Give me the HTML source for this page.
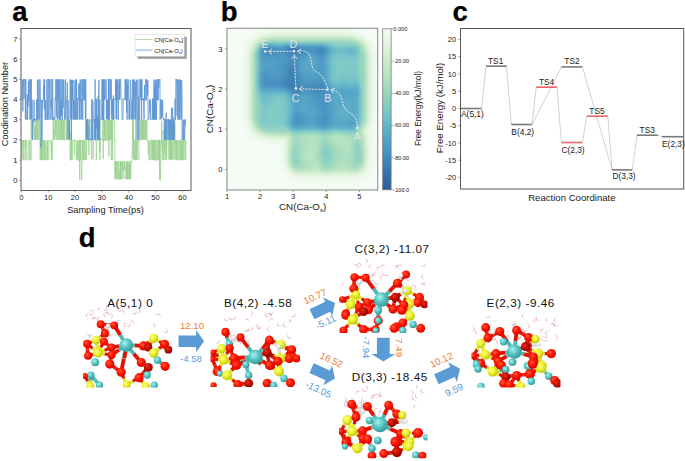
<!DOCTYPE html>
<html><head><meta charset="utf-8"><style>
html,body{margin:0;padding:0;background:#fff;width:685px;height:461px;overflow:hidden}
svg{display:block}
text{font-family:'Liberation Sans',sans-serif}
</style></head><body>
<svg width="685" height="461" viewBox="0 0 685 461" style="font-family:'Liberation Sans',sans-serif">
<polyline points="21.5,140.7 21.8,140.4 22.1,159.3 22.4,139.9 22.7,146.9 23.1,139.9 23.2,160.1 23.4,160.1 23.6,159.9 23.7,140.0 24.0,140.8 24.2,140.2 24.5,140.1 24.9,140.5 25.0,160.1 25.3,160.1 25.4,139.9 25.7,147.5 26.0,140.2 26.2,139.9 26.5,140.8 26.8,159.6 27.1,160.1 27.5,160.1 27.7,159.6 27.9,160.0 28.3,139.9 28.6,140.3 28.9,139.9 29.0,140.6 29.2,160.1 29.6,160.1 29.9,154.8 30.1,140.4 30.5,139.9 30.7,140.0 31.0,160.1 31.0,123.2 31.3,120.2 31.4,119.7 31.7,139.6 32.0,119.9 32.3,139.3 32.4,139.8 32.7,139.9 32.8,119.7 33.1,120.2 33.4,120.4 33.7,119.7 34.1,120.4 34.4,139.9 34.7,126.2 35.1,139.9 35.2,127.2 35.3,139.9 35.7,120.5 35.9,139.8 36.3,119.7 36.4,139.9 36.5,119.7 36.7,139.2 37.1,139.9 37.2,139.9 37.5,139.9 37.7,119.7 37.8,139.9 38.1,139.4 38.5,120.6 38.6,119.7 38.7,139.6 38.9,139.9 39.2,139.9 39.6,119.7 39.8,128.5 40.0,159.3 40.4,160.1 40.6,159.4 40.7,143.3 41.0,159.3 41.1,139.9 41.4,159.3 41.5,160.1 41.8,145.5 41.9,159.8 42.1,140.0 42.4,160.1 42.6,139.9 42.9,159.1 43.0,159.2 43.3,159.8 43.5,140.4 43.8,140.6 43.9,142.9 44.1,139.9 44.4,160.1 44.6,143.3 44.9,159.8 45.1,139.9 45.3,152.7 45.4,159.9 45.8,160.1 46.0,160.1 46.3,159.6 46.7,146.3 47.0,140.5 47.2,160.1 47.4,159.1 47.8,139.9 48.0,160.1 48.3,160.1 48.6,159.5 48.8,160.1 49.0,140.6 49.2,140.1 49.5,140.7 49.7,140.9 50.0,140.6 50.3,139.9 50.5,140.5 50.9,139.9 51.2,152.8 51.3,159.2 51.5,160.1 51.7,141.3 51.9,160.1 52.0,159.5 52.2,159.3 52.5,140.5 52.5,139.9 52.8,139.9 52.9,139.9 53.0,139.9 53.2,120.1 53.5,139.9 53.7,126.5 54.0,130.6 54.3,139.9 54.5,139.9 54.7,135.4 55.0,119.7 55.1,119.7 55.3,134.5 55.7,120.6 55.8,120.0 56.1,139.6 56.2,119.7 56.4,120.4 56.8,120.0 56.9,135.5 57.0,139.9 57.3,139.9 57.4,139.9 57.6,139.9 57.9,120.3 58.1,120.1 58.3,139.9 58.7,120.2 58.9,139.9 59.3,139.9 59.7,139.9 59.9,119.7 60.3,121.4 60.4,139.9 60.7,119.7 61.0,139.9 61.3,139.1 61.4,119.7 61.7,139.9 62.0,119.7 62.3,139.9 62.6,139.0 62.8,120.3 63.1,120.2 63.3,120.5 63.5,139.9 63.7,119.7 63.9,139.9 64.0,139.9 64.3,139.6 64.6,139.9 64.8,119.7 65.1,139.9 65.5,139.9 65.7,139.9 66.1,139.0 66.3,139.9 66.5,139.9 66.6,120.2 66.9,139.9 67.2,139.5 67.5,128.1 67.6,119.7 67.8,120.4 68.0,120.2 68.2,120.6 68.4,119.7 68.8,139.6 68.9,119.7 69.3,139.9 69.4,139.9 69.5,139.1 69.7,139.9 70.0,132.1 70.0,160.1 70.3,160.1 70.7,160.1 70.8,139.9 71.1,160.1 71.4,140.6 71.5,158.7 71.6,140.6 72.0,160.1 72.3,159.6 72.7,139.9 72.9,140.6 73.3,140.2 73.5,140.6 73.7,140.2 73.9,139.9 74.0,139.9 74.2,139.9 74.4,155.5 74.7,139.9 74.9,139.9 75.2,140.4 75.4,140.6 75.6,140.2 75.9,140.6 76.2,140.8 76.5,159.5 76.8,153.5 76.9,145.1 77.0,159.5 77.2,140.0 77.5,156.6 77.8,160.3 78.1,160.4 78.4,140.8 78.6,160.9 79.0,160.7 79.3,139.9 79.5,140.5 79.7,180.2 80.0,139.9 80.3,139.9 80.6,160.0 81.0,139.9 81.4,180.0 81.6,180.3 81.8,180.3 82.0,160.1 82.3,160.1 82.6,139.9 82.9,140.8 83.1,159.5 83.3,139.9 83.6,160.1 83.9,156.2 84.0,160.1 84.4,140.0 84.7,160.1 85.1,160.1 85.4,159.4 85.5,159.6 85.7,160.1 85.9,139.9 86.0,119.7 86.3,160.0 86.4,147.0 86.7,139.1 86.9,139.6 87.1,119.7 87.3,139.1 87.5,120.4 87.6,139.3 87.8,139.4 88.1,139.8 88.2,140.0 88.5,124.8 88.9,155.1 89.0,120.5 89.1,119.7 89.5,140.4 89.9,139.5 90.0,138.7 90.3,139.3 90.5,139.7 90.7,139.2 91.0,140.1 91.1,139.3 91.2,139.6 91.5,159.2 91.8,140.4 92.1,119.7 92.3,139.7 92.6,122.5 92.9,119.7 93.2,160.1 93.3,139.2 93.6,140.1 93.9,120.1 94.3,119.7 94.6,119.7 94.9,129.8 95.0,138.9 95.4,119.9 95.7,140.7 96.0,140.0 96.3,160.1 96.7,139.9 96.8,140.0 97.0,140.5 97.3,139.4 97.5,123.2 97.8,120.2 98.2,119.7 98.5,140.6 98.7,140.2 99.0,139.1 99.4,140.6 99.8,151.8 99.9,119.7 100.0,159.8 100.3,139.7 100.7,137.8 100.9,139.2 101.2,138.9 101.5,140.0 101.7,140.1 101.9,140.9 102.1,140.7 102.2,139.9 102.6,120.6 103.0,120.2 103.2,159.1 103.5,139.4 103.7,140.4 103.8,119.7 104.1,119.9 104.2,140.4 104.3,140.8 104.5,120.3 104.9,119.7 105.0,133.9 105.2,119.7 105.4,139.1 105.6,140.7 105.9,120.6 106.1,119.7 106.2,123.6 106.3,132.3 106.7,139.6 106.9,138.2 107.3,140.7 107.5,119.7 107.7,119.7 107.8,139.5 108.1,140.8 108.4,140.8 108.7,120.0 108.9,156.4 109.2,119.7 109.6,140.1 109.7,139.1 109.8,139.3 110.1,139.6 110.4,119.7 110.6,120.3 110.8,139.6 111.1,119.7 111.3,160.1 111.5,119.7 111.8,140.2 112.0,120.3 112.3,119.7 112.5,140.8 112.7,159.5 112.9,119.7 113.1,119.7 113.5,119.8 113.7,120.3 113.8,119.7 114.2,119.8 114.5,139.1 114.7,140.9 114.9,139.4 115.0,178.9 115.2,161.1 115.4,179.3 115.7,161.9 115.9,161.4 116.1,179.3 116.3,161.1 116.6,171.1 116.8,161.1 117.0,179.3 117.2,179.3 117.4,179.3 117.6,178.9 118.0,161.1 118.3,170.5 118.6,179.3 118.8,161.1 119.0,161.4 119.3,179.3 119.6,179.3 119.8,179.3 120.0,169.8 120.2,179.3 120.5,161.8 120.6,179.2 120.9,179.3 121.1,161.1 121.3,161.1 121.5,169.5 121.7,178.4 122.0,161.8 122.2,170.3 122.5,161.7 122.7,167.9 122.8,179.3 123.2,178.3 123.5,169.6 123.7,170.1 124.0,161.2 124.3,170.6 124.6,161.3 124.8,161.4 125.0,161.1 125.2,178.8 125.4,178.4 125.6,178.8 126.0,179.0 126.2,164.8 126.3,179.2 126.6,161.5 126.9,161.2 127.3,179.3 127.5,161.3 127.6,179.3 127.8,162.1 128.0,161.1 128.1,178.8 128.4,167.6 128.7,164.0 129.0,179.3 129.2,179.3 129.4,161.9 129.5,178.9 129.8,178.8 130.2,179.3 130.5,161.1 130.7,178.5 131.0,161.1 131.2,162.0 131.6,162.1 131.9,161.2 132.0,159.8 132.3,140.3 132.5,140.3 132.7,120.5 132.8,120.7 133.0,139.9 133.1,159.2 133.3,120.1 133.7,158.4 133.9,140.5 134.2,160.1 134.6,160.1 134.8,139.1 135.1,147.9 135.4,160.1 135.5,152.2 135.7,119.9 135.9,120.6 136.0,119.9 136.3,159.7 136.6,140.5 136.8,160.1 136.9,160.1 137.1,139.5 137.3,140.4 137.6,139.0 138.0,159.1 138.3,159.4 138.5,160.1 138.6,160.1 138.9,159.2 139.1,139.4 139.3,140.5 139.7,119.8 139.9,139.0 140.2,119.7 140.4,119.7 140.6,140.5 140.7,140.5 140.9,140.3 141.1,125.3 141.3,120.2 141.4,139.7 141.6,120.0 141.9,120.7 142.0,119.7 142.3,139.9 142.5,119.7 142.8,139.0 143.0,119.7 143.3,119.7 143.5,139.9 143.8,119.7 143.9,139.0 144.2,120.4 144.3,139.9 144.5,139.9 144.9,139.9 145.1,120.1 145.4,138.8 145.7,139.5 146.0,120.7 146.2,139.8 146.4,139.4 146.7,119.7 147.0,119.7 147.0,140.4 147.2,139.9 147.5,139.9 147.7,140.9 148.0,139.9 148.3,153.6 148.6,140.8 148.9,160.1 149.2,159.9 149.5,160.1 149.7,140.6 150.0,140.9 150.3,140.6 150.5,140.8 150.6,159.7 150.7,160.1 151.1,160.1 151.4,159.4 151.5,139.9 151.9,139.9 152.2,139.9 152.4,159.4 152.5,140.7 152.8,160.1 153.1,153.1 153.4,146.6 153.5,139.9 153.8,160.1 154.1,139.9 154.3,159.6 154.5,139.9 154.7,139.9 154.9,140.4 155.0,140.6 155.4,159.4 155.6,139.9 155.9,160.5 156.1,159.3 156.3,160.8 156.6,160.3 156.7,159.5 157.0,140.0 157.2,140.3 157.3,159.9 157.7,149.6 157.9,140.1 158.2,139.9 158.4,160.1 158.8,160.1 159.0,140.4 159.0,153.3 159.3,139.9 159.4,160.6 159.5,140.3 159.7,179.7 160.0,139.9 160.2,179.3 160.4,180.3 160.8,159.4 161.0,159.7 161.3,139.8 161.7,120.7 161.8,139.4 161.9,139.4 162.1,149.6 162.3,140.0 162.6,139.7 162.8,160.1 163.1,129.8 163.2,160.1 163.6,160.1 163.9,159.2 164.0,160.1 164.3,123.8 164.5,152.8 164.7,140.3 165.0,159.3 165.2,160.1 165.5,131.8 165.7,120.0 166.0,140.1 166.1,154.1 166.4,120.5 166.7,159.6 167.1,139.0 167.5,140.5 167.8,119.7 168.1,120.5 168.4,140.1 168.5,140.1 168.7,140.3 168.8,159.4 169.1,159.2 169.2,122.8 169.4,122.8 169.6,159.1 169.7,119.7 169.9,120.7 170.0,120.5 170.3,159.7 170.5,139.3 170.9,160.1 171.2,119.7 171.6,160.1 171.7,159.2 172.0,139.4 172.3,139.7 172.5,119.7 172.6,159.6 172.9,139.8 173.2,139.9 173.4,140.1 173.7,140.0 174.1,159.7 174.3,124.8 174.7,124.0 175.0,159.7 175.2,159.5 175.6,139.9 175.8,143.8 176.1,139.9 176.2,160.1 176.5,160.1 176.7,140.5 176.9,139.9 177.2,159.9 177.4,160.0 177.6,139.9 177.8,140.6 178.0,140.6 178.2,160.1 178.4,159.5 178.6,160.1 178.9,160.1 179.2,140.0 179.4,159.7 179.5,160.1 179.6,160.0 179.8,160.1 180.1,159.2 180.2,139.9 180.5,139.9 180.6,140.4 180.7,159.3 180.8,139.9 181.1,160.1 181.2,160.1 181.6,159.8 181.8,140.7 182.0,160.0 182.4,153.7 182.5,140.6 182.8,159.7 183.0,140.3 183.2,160.1 183.4,140.7 183.8,139.9 184.1,140.7 184.2,140.3 184.4,139.9 184.8,159.6 185.0,159.4 185.3,160.1 185.7,140.1 186.0,160.1" fill="none" stroke="#9bd191" stroke-width="0.75" stroke-linejoin="bevel"/>
<polyline points="21.5,100.4 21.7,100.4 21.8,98.8 22.0,79.3 22.4,79.7 22.5,79.9 22.8,111.4 23.1,99.3 23.2,79.8 23.5,79.3 23.9,99.0 24.1,99.0 24.4,79.3 24.7,79.3 25.0,79.3 25.3,101.0 25.4,119.2 25.6,80.1 25.9,79.3 26.0,98.7 26.2,119.7 26.4,119.7 26.7,119.3 27.0,118.9 27.3,94.1 27.4,119.7 27.6,119.7 27.7,119.5 27.8,100.3 28.2,105.9 28.4,81.3 28.6,100.5 29.0,99.1 29.2,79.3 29.4,79.3 29.7,79.3 30.0,119.7 30.1,79.4 30.5,79.6 30.7,119.4 31.0,93.0 31.4,79.3 31.5,118.7 31.7,119.2 31.8,99.5 32.2,99.5 32.4,138.9 32.7,139.9 33.0,120.1 33.3,120.4 33.5,118.9 33.8,122.1 34.0,100.2 34.3,119.7 34.6,120.2 34.9,119.2 35.2,119.7 35.4,118.8 35.7,120.2 36.1,120.4 36.3,120.6 36.6,120.4 36.9,99.5 37.0,118.7 37.1,99.8 37.3,119.6 37.4,79.9 37.8,100.3 37.9,119.7 38.2,119.7 38.6,91.9 38.8,79.3 38.9,80.2 39.1,98.6 39.3,119.7 39.4,119.7 39.6,109.6 39.7,100.1 40.0,79.4 40.4,99.1 40.5,99.5 40.7,112.1 40.9,147.3 41.2,140.3 41.3,139.0 41.6,99.9 41.7,139.9 41.9,140.7 42.0,140.4 42.3,119.3 42.5,100.2 42.7,99.5 43.1,100.2 43.3,99.5 43.5,99.1 43.7,85.9 43.9,99.1 44.0,79.3 44.3,109.0 44.6,79.3 44.8,99.0 45.1,119.7 45.3,119.7 45.6,99.9 45.8,118.9 46.2,119.7 46.5,119.7 46.7,119.7 46.8,80.0 47.0,79.3 47.4,119.7 47.6,119.7 48.0,79.3 48.3,79.7 48.5,79.3 48.8,119.7 48.9,119.7 49.2,98.6 49.5,79.3 49.8,79.4 50.1,118.8 50.3,119.2 50.5,119.6 50.6,118.9 50.8,118.7 50.9,110.0 51.1,79.3 51.3,108.5 51.7,99.2 51.9,119.7 52.2,118.4 52.5,119.7 52.6,79.3 53.0,119.7 53.3,119.3 53.6,119.7 53.7,119.4 53.9,116.9 54.1,119.7 54.2,118.8 54.6,119.7 54.9,119.7 55.0,98.6 55.1,99.1 55.4,100.1 55.6,100.0 55.9,79.3 56.1,98.6 56.3,117.3 56.5,79.3 56.9,79.6 57.3,119.4 57.5,119.7 57.7,119.7 57.8,79.3 57.9,98.7 58.1,100.4 58.5,82.5 58.6,79.6 59.0,119.3 59.2,79.3 59.5,119.7 59.9,119.7 60.3,79.3 60.6,119.7 60.9,119.2 61.0,99.9 61.4,115.8 61.6,100.0 61.9,79.3 62.0,79.7 62.2,119.7 62.3,119.5 62.6,119.7 62.9,80.1 63.2,107.8 63.3,79.3 63.5,79.4 63.9,80.1 64.1,100.2 64.3,106.5 64.6,119.7 64.9,119.7 65.1,119.3 65.3,79.7 65.5,79.3 65.7,119.7 65.9,119.7 66.1,119.6 66.5,99.8 66.6,99.9 66.9,100.1 67.3,82.3 67.5,99.3 67.7,119.7 68.0,119.7 68.0,139.4 68.1,100.4 68.2,119.4 68.5,119.4 68.7,119.7 69.0,120.3 69.1,120.5 69.4,120.5 69.7,139.9 70.1,79.3 70.4,79.3 70.7,118.6 71.1,79.8 71.2,79.9 71.4,139.9 71.8,80.0 71.9,120.0 72.2,80.1 72.5,100.0 72.7,99.6 73.0,79.8 73.4,118.3 73.5,99.5 73.7,105.4 73.8,119.5 73.9,100.2 74.1,119.4 74.4,119.7 74.7,99.6 75.0,80.2 75.2,97.4 75.6,119.5 75.8,119.7 76.0,79.3 76.1,79.3 76.4,119.7 76.5,79.3 76.8,99.6 77.1,98.6 77.4,119.7 77.8,98.7 78.0,99.2 78.3,99.6 78.6,99.6 78.8,82.9 79.0,118.8 79.1,119.3 79.4,119.5 79.7,84.6 80.1,119.7 80.2,79.3 80.5,89.1 80.7,100.5 80.9,99.9 81.1,103.0 81.3,99.1 81.5,100.3 81.6,119.2 81.7,98.9 82.0,79.8 82.2,94.0 82.3,79.3 82.5,83.8 82.6,118.9 82.8,119.7 83.0,79.3 83.2,79.3 83.4,79.3 83.6,79.8 83.8,80.0 83.9,100.2 84.1,80.8 84.2,79.3 84.4,100.3 84.6,98.9 84.9,100.2 85.1,79.4 85.4,119.3 85.7,79.3 86.0,100.3 86.0,120.2 86.2,139.5 86.4,119.9 86.8,120.4 87.1,139.7 87.4,119.0 87.6,120.3 87.8,138.9 88.0,139.9 88.2,139.9 88.5,139.8 88.8,139.9 89.1,119.6 89.5,119.1 89.7,120.5 89.9,120.2 90.1,139.9 90.3,139.9 90.6,139.0 90.7,139.1 90.8,139.2 91.2,139.9 91.4,139.9 91.7,99.3 92.0,98.9 92.1,119.2 92.5,139.9 92.7,120.4 92.9,100.5 93.2,119.0 93.4,120.6 93.7,119.3 93.9,119.7 94.2,119.4 94.6,119.6 94.7,139.8 94.9,139.9 95.1,79.3 95.3,139.7 95.6,118.9 95.7,139.9 96.0,98.7 96.2,119.5 96.4,128.9 96.5,99.2 96.8,120.2 97.1,119.4 97.2,139.9 97.4,116.4 97.7,138.9 97.9,120.3 98.0,120.5 98.1,96.3 98.3,139.9 98.6,101.8 98.9,79.8 99.2,139.6 99.3,120.4 99.6,139.7 99.8,99.8 100.0,119.1 100.3,119.7 100.6,119.7 101.0,119.5 101.2,119.7 101.5,119.1 101.6,119.5 101.9,79.3 102.2,79.3 102.6,119.6 102.7,79.8 103.0,119.7 103.3,119.1 103.5,79.3 103.7,119.7 104.0,99.7 104.2,94.1 104.5,99.8 104.6,79.3 104.8,99.6 105.2,98.6 105.3,97.2 105.6,95.5 105.8,79.8 106.1,79.3 106.3,79.3 106.4,118.9 106.8,99.1 107.0,119.2 107.3,106.6 107.5,100.2 107.6,119.3 107.7,119.7 108.1,119.7 108.2,119.0 108.4,79.3 108.5,119.3 108.7,119.7 108.8,79.6 109.1,80.1 109.2,79.3 109.4,119.7 109.8,108.0 110.1,79.7 110.2,79.6 110.3,79.3 110.6,79.9 110.7,79.3 110.8,99.5 111.0,98.9 111.1,79.5 111.2,79.6 111.6,118.9 111.9,119.0 112.1,100.5 112.3,119.3 112.6,99.7 112.7,98.6 113.0,100.5 113.2,119.7 113.3,95.5 113.5,100.3 113.8,119.7 114.0,100.2 114.3,99.0 114.7,99.7 115.0,98.6 115.2,99.6 115.5,98.9 115.6,79.3 115.9,102.2 116.1,118.8 116.5,79.3 116.6,119.3 116.8,119.5 117.1,79.7 117.3,98.6 117.5,100.2 117.7,99.9 117.8,79.3 118.1,79.4 118.3,119.7 118.6,100.5 118.9,99.5 119.3,84.5 119.5,99.6 119.6,79.3 119.8,99.3 120.2,79.3 120.4,79.3 120.8,79.3 121.1,98.9 121.4,99.6 121.6,99.7 121.9,99.5 122.0,119.5 122.2,119.7 122.5,119.7 122.9,119.6 123.2,98.5 123.5,99.8 123.7,99.1 123.8,99.4 124.1,99.5 124.4,99.8 124.7,98.5 125.0,79.3 125.4,79.5 125.6,100.1 125.8,98.5 125.9,79.7 126.0,79.3 126.2,100.0 126.4,99.3 126.6,112.8 126.8,79.3 126.9,79.7 127.1,119.7 127.4,83.7 127.7,99.6 127.8,79.3 128.2,79.7 128.5,79.8 128.9,118.9 129.2,119.7 129.6,100.3 129.8,119.7 130.0,119.7 130.1,100.2 130.2,80.1 130.5,80.0 130.8,79.9 131.1,100.2 131.2,99.3 131.4,118.9 131.6,119.2 131.9,112.5 132.3,100.3 132.5,119.7 132.6,79.7 133.0,79.3 133.2,99.2 133.4,79.8 133.6,119.7 133.9,119.7 134.0,100.4 134.3,79.3 134.5,86.0 134.8,119.0 134.9,119.1 135.3,119.3 135.6,81.5 135.8,119.3 136.1,100.4 136.4,80.1 136.5,79.8 136.8,105.2 137.0,139.9 137.3,139.9 137.7,139.1 137.9,79.3 138.1,119.8 138.4,139.9 138.5,139.5 138.6,120.0 138.8,96.4 139.0,119.7 139.2,118.9 139.4,119.4 139.6,119.1 139.8,98.8 139.9,79.3 140.1,79.7 140.3,96.8 140.6,79.3 141.0,100.2 141.2,80.0 141.6,119.7 141.9,79.3 142.1,99.5 142.3,98.8 142.5,99.4 142.6,99.6 143.0,98.5 143.3,100.4 143.5,98.6 143.8,112.1 144.1,119.4 144.4,99.4 144.5,84.9 144.7,100.0 144.9,100.3 145.2,100.4 145.5,79.7 145.8,79.5 146.2,80.0 146.3,100.5 146.5,79.4 146.7,79.3 147.1,79.6 147.4,80.1 147.7,95.3 147.8,80.1 148.1,119.7 148.4,119.7 148.5,119.3 148.7,119.6 149.0,119.7 149.1,112.3 149.5,99.5 149.8,106.4 150.0,112.8 150.2,99.7 150.3,100.5 150.6,119.4 150.8,119.6 151.2,119.7 151.5,119.1 151.8,119.1 152.1,119.2 152.4,99.4 152.5,98.5 152.7,119.7 152.8,119.7 153.1,119.7 153.2,98.6 153.6,119.7 154.0,79.4 154.1,79.8 154.2,119.3 154.4,98.8 154.6,87.0 154.9,119.7 155.3,79.9 155.6,99.1 155.7,119.4 155.9,82.3 156.2,119.7 156.5,119.7 156.8,79.5 157.1,99.3 157.4,79.3 157.6,79.4 157.8,100.5 158.1,98.5 158.4,99.4 158.7,79.6 158.8,88.3 159.0,79.3 159.2,79.4 159.5,80.2 159.7,80.2 160.0,79.3 160.0,119.7 160.3,118.7 160.6,99.5 160.9,99.9 161.1,100.2 161.4,118.9 161.7,99.5 162.1,117.4 162.5,100.2 162.6,100.3 162.9,115.0 163.3,119.7 163.5,118.7 163.8,119.7 164.0,119.2 164.0,118.9 164.2,118.9 164.3,123.5 164.5,139.9 164.8,119.3 165.2,139.9 165.6,139.9 165.9,118.8 166.2,112.7 166.5,139.9 166.7,120.1 166.8,119.7 167.2,119.2 167.5,119.5 167.7,120.3 167.9,119.8 168.1,139.9 168.4,119.1 168.5,119.8 168.8,127.6 169.2,120.5 169.3,139.3 169.6,138.9 169.8,119.2 170.1,120.2 170.3,139.9 170.4,120.2 170.6,120.5 170.9,139.3 171.1,139.9 171.3,119.1 171.5,108.2 171.8,115.5 172.0,118.9 172.1,139.9 172.3,107.7 172.6,107.6 172.8,119.6 173.1,139.9 173.2,117.9 173.5,139.5 173.8,139.3 173.9,120.7 174.1,139.9 174.3,139.9 174.7,139.2 174.8,120.0 175.0,98.9 175.4,119.7 175.6,119.7 175.8,79.3 176.1,80.2 176.4,80.2 176.5,79.3 176.8,99.9 177.1,115.9 177.4,79.5 177.6,79.3 177.7,119.0 177.9,119.6 178.3,80.0 178.6,119.7 178.8,119.7 179.0,119.0 179.4,118.8 179.6,79.3 179.7,79.3 179.8,118.9 180.0,119.7 180.3,106.2 180.6,79.9 180.7,100.3 181.1,100.4 181.2,119.5 181.4,119.7 181.6,118.9 181.7,80.1 182.0,100.2 182.0,139.9 182.2,139.9 182.3,139.9 182.5,139.4 182.7,139.9 183.1,120.2 183.4,139.9 183.8,119.7 183.9,119.8 184.0,119.9 184.2,119.7 184.4,139.9 184.7,139.3 185.0,119.7 185.1,125.4 185.3,119.7 185.5,119.7 185.8,119.7 186.0,119.7" fill="none" stroke="#5c94d3" stroke-width="0.8" stroke-linejoin="bevel"/>
<rect x="21.0" y="28.5" width="170.0" height="162.0" fill="none" stroke="#5a5a5a" stroke-width="1"/>
<line x1="19.0" y1="180.3" x2="21.0" y2="180.3" stroke="#666" stroke-width="0.6"/>
<text x="17.6" y="183.0" font-size="7.6" text-anchor="end" fill="#222">0</text>
<line x1="19.0" y1="160.1" x2="21.0" y2="160.1" stroke="#666" stroke-width="0.6"/>
<text x="17.6" y="162.8" font-size="7.6" text-anchor="end" fill="#222">1</text>
<line x1="19.0" y1="139.9" x2="21.0" y2="139.9" stroke="#666" stroke-width="0.6"/>
<text x="17.6" y="142.6" font-size="7.6" text-anchor="end" fill="#222">2</text>
<line x1="19.0" y1="119.7" x2="21.0" y2="119.7" stroke="#666" stroke-width="0.6"/>
<text x="17.6" y="122.4" font-size="7.6" text-anchor="end" fill="#222">3</text>
<line x1="19.0" y1="99.5" x2="21.0" y2="99.5" stroke="#666" stroke-width="0.6"/>
<text x="17.6" y="102.2" font-size="7.6" text-anchor="end" fill="#222">4</text>
<line x1="19.0" y1="79.3" x2="21.0" y2="79.3" stroke="#666" stroke-width="0.6"/>
<text x="17.6" y="82.0" font-size="7.6" text-anchor="end" fill="#222">5</text>
<line x1="19.0" y1="59.1" x2="21.0" y2="59.1" stroke="#666" stroke-width="0.6"/>
<text x="17.6" y="61.8" font-size="7.6" text-anchor="end" fill="#222">6</text>
<line x1="19.0" y1="38.9" x2="21.0" y2="38.9" stroke="#666" stroke-width="0.6"/>
<text x="17.6" y="41.6" font-size="7.6" text-anchor="end" fill="#222">7</text>
<line x1="21.3" y1="190.5" x2="21.3" y2="192.5" stroke="#666" stroke-width="0.6"/>
<text x="21.3" y="200.3" font-size="7.6" text-anchor="middle" fill="#222">0</text>
<line x1="48.2" y1="190.5" x2="48.2" y2="192.5" stroke="#666" stroke-width="0.6"/>
<text x="48.2" y="200.3" font-size="7.6" text-anchor="middle" fill="#222">10</text>
<line x1="75.0" y1="190.5" x2="75.0" y2="192.5" stroke="#666" stroke-width="0.6"/>
<text x="75.0" y="200.3" font-size="7.6" text-anchor="middle" fill="#222">20</text>
<line x1="101.8" y1="190.5" x2="101.8" y2="192.5" stroke="#666" stroke-width="0.6"/>
<text x="101.8" y="200.3" font-size="7.6" text-anchor="middle" fill="#222">30</text>
<line x1="128.7" y1="190.5" x2="128.7" y2="192.5" stroke="#666" stroke-width="0.6"/>
<text x="128.7" y="200.3" font-size="7.6" text-anchor="middle" fill="#222">40</text>
<line x1="155.6" y1="190.5" x2="155.6" y2="192.5" stroke="#666" stroke-width="0.6"/>
<text x="155.6" y="200.3" font-size="7.6" text-anchor="middle" fill="#222">50</text>
<line x1="182.4" y1="190.5" x2="182.4" y2="192.5" stroke="#666" stroke-width="0.6"/>
<text x="182.4" y="200.3" font-size="7.6" text-anchor="middle" fill="#222">60</text>
<text x="105.5" y="212.8" font-size="9.2" text-anchor="middle" fill="#222">Sampling Time(ps)</text>
<text transform="translate(7.6,104) rotate(-90)" font-size="9.2" text-anchor="middle" fill="#222">Coodination Number</text>
<rect x="137.5" y="36.8" width="49.2" height="22" fill="#9a9a9a"/>
<rect x="135" y="34.3" width="49.2" height="22" fill="#fff" stroke="#d0d0d0" stroke-width="0.5"/>
<line x1="135.7" y1="39.5" x2="152.6" y2="39.5" stroke="#a9d89f" stroke-width="0.9"/>
<line x1="135.7" y1="50.1" x2="152.6" y2="50.1" stroke="#6b9fd7" stroke-width="0.9"/>
<text x="154.2" y="42" font-size="6" fill="#222">CN[Ca-O<tspan font-size="3.8" dy="1.4">w</tspan><tspan dy="-1.4">]</tspan></text>
<text x="154.2" y="52.6" font-size="6" fill="#222">CN[Ca-O<tspan font-size="3.8" dy="1.4">s</tspan><tspan dy="-1.4">)</tspan></text>
<defs><clipPath id="bclip"><rect x="227.0" y="28.2" width="150.8" height="161.8"/></clipPath><filter id="bblur" x="-5%" y="-5%" width="110%" height="110%"><feGaussianBlur stdDeviation="1.3"/></filter></defs>
<rect x="227.0" y="28.2" width="150.8" height="161.8" fill="#f5fcf5"/>
<g clip-path="url(#bclip)"><g filter="url(#bblur)">
<rect x="251.0" y="28.2" width="3" height="3" fill="#f5fcf4"/>
<rect x="254.0" y="28.2" width="3" height="3" fill="#f4fcf4"/>
<rect x="257.0" y="28.2" width="3" height="3" fill="#f3fbf3"/>
<rect x="260.0" y="28.2" width="3" height="3" fill="#f3fbf2"/>
<rect x="263.0" y="28.2" width="3" height="3" fill="#f2fbf1"/>
<rect x="266.0" y="28.2" width="6" height="3" fill="#f1faf0"/>
<rect x="272.0" y="28.2" width="75" height="3" fill="#f0faf0"/>
<rect x="347.0" y="28.2" width="6" height="3" fill="#f1faf0"/>
<rect x="353.0" y="28.2" width="3" height="3" fill="#f2fbf1"/>
<rect x="356.0" y="28.2" width="3" height="3" fill="#f3fbf2"/>
<rect x="359.0" y="28.2" width="3" height="3" fill="#f3fbf3"/>
<rect x="362.0" y="28.2" width="3" height="3" fill="#f4fcf4"/>
<rect x="365.0" y="28.2" width="3" height="3" fill="#f5fcf4"/>
<rect x="248.0" y="31.2" width="3" height="3" fill="#f5fcf4"/>
<rect x="251.0" y="31.2" width="3" height="3" fill="#f4fbf4"/>
<rect x="254.0" y="31.2" width="3" height="3" fill="#f3fbf2"/>
<rect x="257.0" y="31.2" width="3" height="3" fill="#f1faf0"/>
<rect x="260.0" y="31.2" width="3" height="3" fill="#eff9ee"/>
<rect x="263.0" y="31.2" width="3" height="3" fill="#edf9ec"/>
<rect x="266.0" y="31.2" width="3" height="3" fill="#ebf8ea"/>
<rect x="269.0" y="31.2" width="3" height="3" fill="#eaf8e9"/>
<rect x="272.0" y="31.2" width="75" height="3" fill="#eaf7e8"/>
<rect x="347.0" y="31.2" width="3" height="3" fill="#eaf8e9"/>
<rect x="350.0" y="31.2" width="3" height="3" fill="#ebf8ea"/>
<rect x="353.0" y="31.2" width="3" height="3" fill="#edf9ec"/>
<rect x="356.0" y="31.2" width="3" height="3" fill="#eff9ee"/>
<rect x="359.0" y="31.2" width="3" height="3" fill="#f1faf0"/>
<rect x="362.0" y="31.2" width="3" height="3" fill="#f3fbf2"/>
<rect x="365.0" y="31.2" width="3" height="3" fill="#f4fbf4"/>
<rect x="368.0" y="31.2" width="3" height="3" fill="#f5fcf4"/>
<rect x="245.0" y="34.2" width="3" height="3" fill="#f5fcf4"/>
<rect x="248.0" y="34.2" width="3" height="3" fill="#f4fbf3"/>
<rect x="251.0" y="34.2" width="3" height="3" fill="#f2fbf1"/>
<rect x="254.0" y="34.2" width="3" height="3" fill="#eff9ee"/>
<rect x="257.0" y="34.2" width="3" height="3" fill="#eaf7e8"/>
<rect x="260.0" y="34.2" width="3" height="3" fill="#e5f5e3"/>
<rect x="263.0" y="34.2" width="3" height="3" fill="#e1f4de"/>
<rect x="266.0" y="34.2" width="3" height="3" fill="#ddf2da"/>
<rect x="269.0" y="34.2" width="3" height="3" fill="#dbf1d7"/>
<rect x="272.0" y="34.2" width="3" height="3" fill="#daf1d6"/>
<rect x="275.0" y="34.2" width="69" height="3" fill="#d9f1d5"/>
<rect x="344.0" y="34.2" width="3" height="3" fill="#daf1d6"/>
<rect x="347.0" y="34.2" width="3" height="3" fill="#dbf1d7"/>
<rect x="350.0" y="34.2" width="3" height="3" fill="#ddf2da"/>
<rect x="353.0" y="34.2" width="3" height="3" fill="#e1f4de"/>
<rect x="356.0" y="34.2" width="3" height="3" fill="#e5f5e3"/>
<rect x="359.0" y="34.2" width="3" height="3" fill="#eaf7e8"/>
<rect x="362.0" y="34.2" width="3" height="3" fill="#eff9ee"/>
<rect x="365.0" y="34.2" width="3" height="3" fill="#f2fbf1"/>
<rect x="368.0" y="34.2" width="3" height="3" fill="#f4fbf3"/>
<rect x="371.0" y="34.2" width="3" height="3" fill="#f5fcf4"/>
<rect x="245.0" y="37.2" width="3" height="3" fill="#f4fbf4"/>
<rect x="248.0" y="37.2" width="3" height="3" fill="#f2fbf1"/>
<rect x="251.0" y="37.2" width="3" height="3" fill="#eef9ec"/>
<rect x="254.0" y="37.2" width="3" height="3" fill="#e7f6e4"/>
<rect x="257.0" y="37.2" width="3" height="3" fill="#ddf2da"/>
<rect x="260.0" y="37.2" width="3" height="3" fill="#d3eece"/>
<rect x="263.0" y="37.2" width="3" height="3" fill="#c8eac6"/>
<rect x="266.0" y="37.2" width="3" height="3" fill="#c0e7c3"/>
<rect x="269.0" y="37.2" width="3" height="3" fill="#bbe5c2"/>
<rect x="272.0" y="37.2" width="3" height="3" fill="#b9e4c1"/>
<rect x="275.0" y="37.2" width="3" height="3" fill="#b8e4c1"/>
<rect x="278.0" y="37.2" width="3" height="3" fill="#b7e4c1"/>
<rect x="281.0" y="37.2" width="57" height="3" fill="#b7e4c0"/>
<rect x="338.0" y="37.2" width="3" height="3" fill="#b7e4c1"/>
<rect x="341.0" y="37.2" width="3" height="3" fill="#b8e4c1"/>
<rect x="344.0" y="37.2" width="3" height="3" fill="#b9e4c1"/>
<rect x="347.0" y="37.2" width="3" height="3" fill="#bbe5c2"/>
<rect x="350.0" y="37.2" width="3" height="3" fill="#c0e7c3"/>
<rect x="353.0" y="37.2" width="3" height="3" fill="#c8eac6"/>
<rect x="356.0" y="37.2" width="3" height="3" fill="#d3eece"/>
<rect x="359.0" y="37.2" width="3" height="3" fill="#ddf2da"/>
<rect x="362.0" y="37.2" width="3" height="3" fill="#e7f6e4"/>
<rect x="365.0" y="37.2" width="3" height="3" fill="#eef9ec"/>
<rect x="368.0" y="37.2" width="3" height="3" fill="#f2fbf1"/>
<rect x="371.0" y="37.2" width="3" height="3" fill="#f4fbf4"/>
<rect x="242.0" y="40.2" width="3" height="3" fill="#f4fcf4"/>
<rect x="245.0" y="40.2" width="3" height="3" fill="#f3fbf2"/>
<rect x="248.0" y="40.2" width="3" height="3" fill="#eff9ee"/>
<rect x="251.0" y="40.2" width="3" height="3" fill="#e7f6e4"/>
<rect x="254.0" y="40.2" width="3" height="3" fill="#daf1d6"/>
<rect x="257.0" y="40.2" width="3" height="3" fill="#c7eac6"/>
<rect x="260.0" y="40.2" width="3" height="3" fill="#b2e1bf"/>
<rect x="263.0" y="40.2" width="3" height="3" fill="#a0dabd"/>
<rect x="266.0" y="40.2" width="3" height="3" fill="#95d5bd"/>
<rect x="269.0" y="40.2" width="6" height="3" fill="#91d3be"/>
<rect x="275.0" y="40.2" width="3" height="3" fill="#92d3be"/>
<rect x="278.0" y="40.2" width="3" height="3" fill="#93d4be"/>
<rect x="281.0" y="40.2" width="3" height="3" fill="#92d3be"/>
<rect x="284.0" y="40.2" width="3" height="3" fill="#90d2be"/>
<rect x="287.0" y="40.2" width="3" height="3" fill="#8dd1bf"/>
<rect x="290.0" y="40.2" width="3" height="3" fill="#8cd1c0"/>
<rect x="293.0" y="40.2" width="3" height="3" fill="#8dd1bf"/>
<rect x="296.0" y="40.2" width="3" height="3" fill="#8ed2bf"/>
<rect x="299.0" y="40.2" width="3" height="3" fill="#90d2be"/>
<rect x="302.0" y="40.2" width="21" height="3" fill="#90d3be"/>
<rect x="323.0" y="40.2" width="3" height="3" fill="#91d3be"/>
<rect x="326.0" y="40.2" width="3" height="3" fill="#93d4bd"/>
<rect x="329.0" y="40.2" width="18" height="3" fill="#94d4bd"/>
<rect x="347.0" y="40.2" width="3" height="3" fill="#96d5bd"/>
<rect x="350.0" y="40.2" width="3" height="3" fill="#98d6bc"/>
<rect x="353.0" y="40.2" width="3" height="3" fill="#a0dabd"/>
<rect x="356.0" y="40.2" width="3" height="3" fill="#b2e1bf"/>
<rect x="359.0" y="40.2" width="3" height="3" fill="#c7eac6"/>
<rect x="362.0" y="40.2" width="3" height="3" fill="#daf1d6"/>
<rect x="365.0" y="40.2" width="3" height="3" fill="#e7f6e4"/>
<rect x="368.0" y="40.2" width="3" height="3" fill="#eff9ee"/>
<rect x="371.0" y="40.2" width="3" height="3" fill="#f3fbf2"/>
<rect x="374.0" y="40.2" width="3" height="3" fill="#f4fcf4"/>
<rect x="242.0" y="43.2" width="3" height="3" fill="#f4fbf4"/>
<rect x="245.0" y="43.2" width="3" height="3" fill="#f1faf0"/>
<rect x="248.0" y="43.2" width="3" height="3" fill="#eaf7e8"/>
<rect x="251.0" y="43.2" width="3" height="3" fill="#ddf2da"/>
<rect x="254.0" y="43.2" width="3" height="3" fill="#c7eac6"/>
<rect x="257.0" y="43.2" width="3" height="3" fill="#a8ddbe"/>
<rect x="260.0" y="43.2" width="3" height="3" fill="#83cdc2"/>
<rect x="263.0" y="43.2" width="3" height="3" fill="#66b9c9"/>
<rect x="266.0" y="43.2" width="3" height="3" fill="#5cb0c9"/>
<rect x="269.0" y="43.2" width="3" height="3" fill="#5aaec8"/>
<rect x="272.0" y="43.2" width="3" height="3" fill="#5db1c9"/>
<rect x="275.0" y="43.2" width="3" height="3" fill="#61b5ca"/>
<rect x="278.0" y="43.2" width="3" height="3" fill="#64b7ca"/>
<rect x="281.0" y="43.2" width="3" height="3" fill="#61b5ca"/>
<rect x="284.0" y="43.2" width="3" height="3" fill="#5bafc9"/>
<rect x="287.0" y="43.2" width="3" height="3" fill="#53a7c7"/>
<rect x="290.0" y="43.2" width="3" height="3" fill="#4fa3c6"/>
<rect x="293.0" y="43.2" width="3" height="3" fill="#51a5c7"/>
<rect x="296.0" y="43.2" width="3" height="3" fill="#56aac8"/>
<rect x="299.0" y="43.2" width="3" height="3" fill="#5aaec8"/>
<rect x="302.0" y="43.2" width="3" height="3" fill="#5bafc9"/>
<rect x="305.0" y="43.2" width="9" height="3" fill="#5db1c9"/>
<rect x="314.0" y="43.2" width="9" height="3" fill="#5cb0c9"/>
<rect x="323.0" y="43.2" width="3" height="3" fill="#5fb3c9"/>
<rect x="326.0" y="43.2" width="3" height="3" fill="#6abcc8"/>
<rect x="329.0" y="43.2" width="3" height="3" fill="#78c7c5"/>
<rect x="332.0" y="43.2" width="3" height="3" fill="#84cdc2"/>
<rect x="335.0" y="43.2" width="3" height="3" fill="#88cfc1"/>
<rect x="338.0" y="43.2" width="3" height="3" fill="#8ad0c0"/>
<rect x="341.0" y="43.2" width="6" height="3" fill="#8bd0c0"/>
<rect x="347.0" y="43.2" width="6" height="3" fill="#89d0c0"/>
<rect x="353.0" y="43.2" width="3" height="3" fill="#8dd1bf"/>
<rect x="356.0" y="43.2" width="3" height="3" fill="#94d4bd"/>
<rect x="359.0" y="43.2" width="3" height="3" fill="#a8ddbe"/>
<rect x="362.0" y="43.2" width="3" height="3" fill="#c7eac6"/>
<rect x="365.0" y="43.2" width="3" height="3" fill="#ddf2da"/>
<rect x="368.0" y="43.2" width="3" height="3" fill="#eaf7e8"/>
<rect x="371.0" y="43.2" width="3" height="3" fill="#f1faf0"/>
<rect x="374.0" y="43.2" width="3" height="3" fill="#f4fbf3"/>
<rect x="239.0" y="46.2" width="3" height="3" fill="#f4fcf4"/>
<rect x="242.0" y="46.2" width="3" height="3" fill="#f3fbf3"/>
<rect x="245.0" y="46.2" width="3" height="3" fill="#eff9ee"/>
<rect x="248.0" y="46.2" width="3" height="3" fill="#e5f5e3"/>
<rect x="251.0" y="46.2" width="3" height="3" fill="#d3eece"/>
<rect x="254.0" y="46.2" width="3" height="3" fill="#b2e1bf"/>
<rect x="257.0" y="46.2" width="3" height="3" fill="#82cdc2"/>
<rect x="260.0" y="46.2" width="3" height="3" fill="#54a8c7"/>
<rect x="263.0" y="46.2" width="3" height="3" fill="#4391bf"/>
<rect x="266.0" y="46.2" width="3" height="3" fill="#3e8abc"/>
<rect x="269.0" y="46.2" width="3" height="3" fill="#3f8bbd"/>
<rect x="272.0" y="46.2" width="3" height="3" fill="#4290bf"/>
<rect x="275.0" y="46.2" width="3" height="3" fill="#4695c1"/>
<rect x="278.0" y="46.2" width="3" height="3" fill="#4797c2"/>
<rect x="281.0" y="46.2" width="3" height="3" fill="#4594c1"/>
<rect x="284.0" y="46.2" width="3" height="3" fill="#408cbd"/>
<rect x="287.0" y="46.2" width="3" height="3" fill="#3b81b7"/>
<rect x="290.0" y="46.2" width="3" height="3" fill="#387bb3"/>
<rect x="293.0" y="46.2" width="3" height="3" fill="#387cb4"/>
<rect x="296.0" y="46.2" width="3" height="3" fill="#3b83b8"/>
<rect x="299.0" y="46.2" width="3" height="3" fill="#3e89bc"/>
<rect x="302.0" y="46.2" width="3" height="3" fill="#408cbe"/>
<rect x="305.0" y="46.2" width="3" height="3" fill="#418fbe"/>
<rect x="308.0" y="46.2" width="6" height="3" fill="#4391bf"/>
<rect x="314.0" y="46.2" width="3" height="3" fill="#418fbe"/>
<rect x="317.0" y="46.2" width="6" height="3" fill="#408dbe"/>
<rect x="323.0" y="46.2" width="3" height="3" fill="#4492c0"/>
<rect x="326.0" y="46.2" width="3" height="3" fill="#4ca0c5"/>
<rect x="329.0" y="46.2" width="3" height="3" fill="#5aaec8"/>
<rect x="332.0" y="46.2" width="3" height="3" fill="#65b8c9"/>
<rect x="335.0" y="46.2" width="3" height="3" fill="#6cbec8"/>
<rect x="338.0" y="46.2" width="6" height="3" fill="#6ebfc7"/>
<rect x="344.0" y="46.2" width="3" height="3" fill="#6dbec8"/>
<rect x="347.0" y="46.2" width="3" height="3" fill="#6bbdc8"/>
<rect x="350.0" y="46.2" width="3" height="3" fill="#69bcc8"/>
<rect x="353.0" y="46.2" width="3" height="3" fill="#6ec0c7"/>
<rect x="356.0" y="46.2" width="3" height="3" fill="#81ccc3"/>
<rect x="359.0" y="46.2" width="3" height="3" fill="#94d4bd"/>
<rect x="362.0" y="46.2" width="3" height="3" fill="#b2e1bf"/>
<rect x="365.0" y="46.2" width="3" height="3" fill="#d3eece"/>
<rect x="368.0" y="46.2" width="3" height="3" fill="#e5f5e3"/>
<rect x="371.0" y="46.2" width="3" height="3" fill="#eff9ee"/>
<rect x="374.0" y="46.2" width="3" height="3" fill="#f3fbf3"/>
<rect x="377.0" y="46.2" width="3" height="3" fill="#f4fcf4"/>
<rect x="239.0" y="49.2" width="3" height="3" fill="#f4fcf4"/>
<rect x="242.0" y="49.2" width="3" height="3" fill="#f2fbf2"/>
<rect x="245.0" y="49.2" width="3" height="3" fill="#edf9ec"/>
<rect x="248.0" y="49.2" width="3" height="3" fill="#e1f4de"/>
<rect x="251.0" y="49.2" width="3" height="3" fill="#c8eac6"/>
<rect x="254.0" y="49.2" width="3" height="3" fill="#a0dabd"/>
<rect x="257.0" y="49.2" width="3" height="3" fill="#67bac9"/>
<rect x="260.0" y="49.2" width="3" height="3" fill="#4493c0"/>
<rect x="263.0" y="49.2" width="3" height="3" fill="#3b82b8"/>
<rect x="266.0" y="49.2" width="3" height="3" fill="#3a80b6"/>
<rect x="269.0" y="49.2" width="3" height="3" fill="#3b83b8"/>
<rect x="272.0" y="49.2" width="3" height="3" fill="#3e89bc"/>
<rect x="275.0" y="49.2" width="3" height="3" fill="#408dbe"/>
<rect x="278.0" y="49.2" width="3" height="3" fill="#418ebe"/>
<rect x="281.0" y="49.2" width="3" height="3" fill="#3f8bbd"/>
<rect x="284.0" y="49.2" width="3" height="3" fill="#3c84b9"/>
<rect x="287.0" y="49.2" width="3" height="3" fill="#377ab3"/>
<rect x="290.0" y="49.2" width="6" height="3" fill="#3473ae"/>
<rect x="296.0" y="49.2" width="3" height="3" fill="#3779b2"/>
<rect x="299.0" y="49.2" width="3" height="3" fill="#3a80b6"/>
<rect x="302.0" y="49.2" width="3" height="3" fill="#3c85b9"/>
<rect x="305.0" y="49.2" width="3" height="3" fill="#3e88bb"/>
<rect x="308.0" y="49.2" width="6" height="3" fill="#3f8cbd"/>
<rect x="314.0" y="49.2" width="3" height="3" fill="#3e88bb"/>
<rect x="317.0" y="49.2" width="3" height="3" fill="#3c84b8"/>
<rect x="320.0" y="49.2" width="3" height="3" fill="#3b82b7"/>
<rect x="323.0" y="49.2" width="3" height="3" fill="#3e89bc"/>
<rect x="326.0" y="49.2" width="3" height="3" fill="#4899c2"/>
<rect x="329.0" y="49.2" width="3" height="3" fill="#55a9c7"/>
<rect x="332.0" y="49.2" width="3" height="3" fill="#60b4ca"/>
<rect x="335.0" y="49.2" width="3" height="3" fill="#66b9c9"/>
<rect x="338.0" y="49.2" width="3" height="3" fill="#67bac9"/>
<rect x="341.0" y="49.2" width="3" height="3" fill="#66b9c9"/>
<rect x="344.0" y="49.2" width="3" height="3" fill="#63b7ca"/>
<rect x="347.0" y="49.2" width="3" height="3" fill="#61b5ca"/>
<rect x="350.0" y="49.2" width="3" height="3" fill="#60b4ca"/>
<rect x="353.0" y="49.2" width="3" height="3" fill="#61b5ca"/>
<rect x="356.0" y="49.2" width="3" height="3" fill="#6fc0c7"/>
<rect x="359.0" y="49.2" width="3" height="3" fill="#8dd1bf"/>
<rect x="362.0" y="49.2" width="3" height="3" fill="#a0dabd"/>
<rect x="365.0" y="49.2" width="3" height="3" fill="#c8eac6"/>
<rect x="368.0" y="49.2" width="3" height="3" fill="#e1f4de"/>
<rect x="371.0" y="49.2" width="3" height="3" fill="#edf9ec"/>
<rect x="374.0" y="49.2" width="3" height="3" fill="#f2fbf2"/>
<rect x="377.0" y="49.2" width="3" height="3" fill="#f4fcf4"/>
<rect x="239.0" y="52.2" width="3" height="3" fill="#f4fcf4"/>
<rect x="242.0" y="52.2" width="3" height="3" fill="#f2fbf1"/>
<rect x="245.0" y="52.2" width="3" height="3" fill="#ecf8ea"/>
<rect x="248.0" y="52.2" width="3" height="3" fill="#ddf2da"/>
<rect x="251.0" y="52.2" width="3" height="3" fill="#c0e7c3"/>
<rect x="254.0" y="52.2" width="3" height="3" fill="#96d5bc"/>
<rect x="257.0" y="52.2" width="3" height="3" fill="#60b4ca"/>
<rect x="260.0" y="52.2" width="3" height="3" fill="#4492c0"/>
<rect x="263.0" y="52.2" width="3" height="3" fill="#3d87ba"/>
<rect x="266.0" y="52.2" width="3" height="3" fill="#3d87bb"/>
<rect x="269.0" y="52.2" width="3" height="3" fill="#3f8bbd"/>
<rect x="272.0" y="52.2" width="3" height="3" fill="#418fbe"/>
<rect x="275.0" y="52.2" width="6" height="3" fill="#4290bf"/>
<rect x="281.0" y="52.2" width="3" height="3" fill="#428fbf"/>
<rect x="284.0" y="52.2" width="3" height="3" fill="#3f8bbd"/>
<rect x="287.0" y="52.2" width="3" height="3" fill="#3b83b8"/>
<rect x="290.0" y="52.2" width="3" height="3" fill="#387cb3"/>
<rect x="293.0" y="52.2" width="3" height="3" fill="#387bb3"/>
<rect x="296.0" y="52.2" width="3" height="3" fill="#3a80b6"/>
<rect x="299.0" y="52.2" width="3" height="3" fill="#3d87bb"/>
<rect x="302.0" y="52.2" width="3" height="3" fill="#408dbe"/>
<rect x="305.0" y="52.2" width="3" height="3" fill="#4392c0"/>
<rect x="308.0" y="52.2" width="3" height="3" fill="#4696c1"/>
<rect x="311.0" y="52.2" width="3" height="3" fill="#4695c1"/>
<rect x="314.0" y="52.2" width="3" height="3" fill="#4390bf"/>
<rect x="317.0" y="52.2" width="3" height="3" fill="#3e8abc"/>
<rect x="320.0" y="52.2" width="3" height="3" fill="#3d86ba"/>
<rect x="323.0" y="52.2" width="3" height="3" fill="#408dbe"/>
<rect x="326.0" y="52.2" width="3" height="3" fill="#4c9ec5"/>
<rect x="329.0" y="52.2" width="3" height="3" fill="#5bafc9"/>
<rect x="332.0" y="52.2" width="3" height="3" fill="#67bac9"/>
<rect x="335.0" y="52.2" width="3" height="3" fill="#6dbfc7"/>
<rect x="338.0" y="52.2" width="3" height="3" fill="#6ebfc7"/>
<rect x="341.0" y="52.2" width="3" height="3" fill="#6bbdc8"/>
<rect x="344.0" y="52.2" width="3" height="3" fill="#68bac9"/>
<rect x="347.0" y="52.2" width="3" height="3" fill="#65b8c9"/>
<rect x="350.0" y="52.2" width="3" height="3" fill="#64b7ca"/>
<rect x="353.0" y="52.2" width="3" height="3" fill="#65b8c9"/>
<rect x="356.0" y="52.2" width="3" height="3" fill="#6fc0c7"/>
<rect x="359.0" y="52.2" width="3" height="3" fill="#8bd0c0"/>
<rect x="362.0" y="52.2" width="3" height="3" fill="#98d6bc"/>
<rect x="365.0" y="52.2" width="3" height="3" fill="#c0e7c3"/>
<rect x="368.0" y="52.2" width="3" height="3" fill="#ddf2da"/>
<rect x="371.0" y="52.2" width="3" height="3" fill="#ecf8ea"/>
<rect x="374.0" y="52.2" width="3" height="3" fill="#f2fbf1"/>
<rect x="377.0" y="52.2" width="3" height="3" fill="#f4fcf4"/>
<rect x="239.0" y="55.2" width="3" height="3" fill="#f4fcf4"/>
<rect x="242.0" y="55.2" width="3" height="3" fill="#f2fbf1"/>
<rect x="245.0" y="55.2" width="3" height="3" fill="#ebf8e9"/>
<rect x="248.0" y="55.2" width="3" height="3" fill="#dbf1d7"/>
<rect x="251.0" y="55.2" width="3" height="3" fill="#bbe5c2"/>
<rect x="254.0" y="55.2" width="3" height="3" fill="#94d4bd"/>
<rect x="257.0" y="55.2" width="3" height="3" fill="#63b7ca"/>
<rect x="260.0" y="55.2" width="3" height="3" fill="#4898c2"/>
<rect x="263.0" y="55.2" width="3" height="3" fill="#428fbf"/>
<rect x="266.0" y="55.2" width="3" height="3" fill="#4391bf"/>
<rect x="269.0" y="55.2" width="3" height="3" fill="#4594c0"/>
<rect x="272.0" y="55.2" width="6" height="3" fill="#4695c1"/>
<rect x="278.0" y="55.2" width="3" height="3" fill="#4594c1"/>
<rect x="281.0" y="55.2" width="3" height="3" fill="#4594c0"/>
<rect x="284.0" y="55.2" width="3" height="3" fill="#4392c0"/>
<rect x="287.0" y="55.2" width="3" height="3" fill="#408cbd"/>
<rect x="290.0" y="55.2" width="3" height="3" fill="#3d86ba"/>
<rect x="293.0" y="55.2" width="3" height="3" fill="#3c84b9"/>
<rect x="296.0" y="55.2" width="3" height="3" fill="#3e8abc"/>
<rect x="299.0" y="55.2" width="3" height="3" fill="#4390bf"/>
<rect x="302.0" y="55.2" width="3" height="3" fill="#4797c2"/>
<rect x="305.0" y="55.2" width="3" height="3" fill="#4a9cc4"/>
<rect x="308.0" y="55.2" width="3" height="3" fill="#4da1c5"/>
<rect x="311.0" y="55.2" width="3" height="3" fill="#4da0c5"/>
<rect x="314.0" y="55.2" width="3" height="3" fill="#499ac3"/>
<rect x="317.0" y="55.2" width="3" height="3" fill="#4392c0"/>
<rect x="320.0" y="55.2" width="3" height="3" fill="#418ebe"/>
<rect x="323.0" y="55.2" width="3" height="3" fill="#4594c1"/>
<rect x="326.0" y="55.2" width="3" height="3" fill="#52a6c7"/>
<rect x="329.0" y="55.2" width="3" height="3" fill="#62b6ca"/>
<rect x="332.0" y="55.2" width="3" height="3" fill="#6fc0c7"/>
<rect x="335.0" y="55.2" width="6" height="3" fill="#75c5c6"/>
<rect x="341.0" y="55.2" width="3" height="3" fill="#73c3c6"/>
<rect x="344.0" y="55.2" width="3" height="3" fill="#71c1c7"/>
<rect x="347.0" y="55.2" width="3" height="3" fill="#6fc0c7"/>
<rect x="350.0" y="55.2" width="3" height="3" fill="#6dbfc7"/>
<rect x="353.0" y="55.2" width="3" height="3" fill="#6ec0c7"/>
<rect x="356.0" y="55.2" width="3" height="3" fill="#77c6c5"/>
<rect x="359.0" y="55.2" width="3" height="3" fill="#8ed2bf"/>
<rect x="362.0" y="55.2" width="3" height="3" fill="#96d5bd"/>
<rect x="365.0" y="55.2" width="3" height="3" fill="#bbe5c2"/>
<rect x="368.0" y="55.2" width="3" height="3" fill="#dbf1d7"/>
<rect x="371.0" y="55.2" width="3" height="3" fill="#ebf8e9"/>
<rect x="374.0" y="55.2" width="3" height="3" fill="#f2fbf1"/>
<rect x="377.0" y="55.2" width="3" height="3" fill="#f4fcf4"/>
<rect x="239.0" y="58.2" width="3" height="3" fill="#f4fcf4"/>
<rect x="242.0" y="58.2" width="3" height="3" fill="#f1faf1"/>
<rect x="245.0" y="58.2" width="3" height="3" fill="#eaf7e8"/>
<rect x="248.0" y="58.2" width="3" height="3" fill="#daf1d6"/>
<rect x="251.0" y="58.2" width="3" height="3" fill="#b9e4c1"/>
<rect x="254.0" y="58.2" width="3" height="3" fill="#93d4bd"/>
<rect x="257.0" y="58.2" width="3" height="3" fill="#66b9c9"/>
<rect x="260.0" y="58.2" width="3" height="3" fill="#4b9dc4"/>
<rect x="263.0" y="58.2" width="3" height="3" fill="#4696c1"/>
<rect x="266.0" y="58.2" width="3" height="3" fill="#4797c2"/>
<rect x="269.0" y="58.2" width="3" height="3" fill="#4899c2"/>
<rect x="272.0" y="58.2" width="3" height="3" fill="#4899c3"/>
<rect x="275.0" y="58.2" width="3" height="3" fill="#4798c2"/>
<rect x="278.0" y="58.2" width="3" height="3" fill="#4696c1"/>
<rect x="281.0" y="58.2" width="3" height="3" fill="#4695c1"/>
<rect x="284.0" y="58.2" width="3" height="3" fill="#4594c0"/>
<rect x="287.0" y="58.2" width="3" height="3" fill="#418fbe"/>
<rect x="290.0" y="58.2" width="3" height="3" fill="#3e89bc"/>
<rect x="293.0" y="58.2" width="3" height="3" fill="#3e88bb"/>
<rect x="296.0" y="58.2" width="3" height="3" fill="#418ebe"/>
<rect x="299.0" y="58.2" width="3" height="3" fill="#4696c1"/>
<rect x="302.0" y="58.2" width="3" height="3" fill="#4b9dc4"/>
<rect x="305.0" y="58.2" width="3" height="3" fill="#4fa3c6"/>
<rect x="308.0" y="58.2" width="3" height="3" fill="#52a6c7"/>
<rect x="311.0" y="58.2" width="3" height="3" fill="#50a4c6"/>
<rect x="314.0" y="58.2" width="3" height="3" fill="#4c9fc5"/>
<rect x="317.0" y="58.2" width="3" height="3" fill="#4797c2"/>
<rect x="320.0" y="58.2" width="3" height="3" fill="#4493c0"/>
<rect x="323.0" y="58.2" width="3" height="3" fill="#499ac3"/>
<rect x="326.0" y="58.2" width="3" height="3" fill="#56aac8"/>
<rect x="329.0" y="58.2" width="3" height="3" fill="#67bac9"/>
<rect x="332.0" y="58.2" width="3" height="3" fill="#73c3c6"/>
<rect x="335.0" y="58.2" width="3" height="3" fill="#79c8c5"/>
<rect x="338.0" y="58.2" width="3" height="3" fill="#7bc9c4"/>
<rect x="341.0" y="58.2" width="3" height="3" fill="#79c8c5"/>
<rect x="344.0" y="58.2" width="3" height="3" fill="#78c7c5"/>
<rect x="347.0" y="58.2" width="3" height="3" fill="#76c6c5"/>
<rect x="350.0" y="58.2" width="3" height="3" fill="#75c5c6"/>
<rect x="353.0" y="58.2" width="3" height="3" fill="#76c5c5"/>
<rect x="356.0" y="58.2" width="3" height="3" fill="#7ccac4"/>
<rect x="359.0" y="58.2" width="3" height="3" fill="#90d2be"/>
<rect x="362.0" y="58.2" width="3" height="3" fill="#94d4bd"/>
<rect x="365.0" y="58.2" width="3" height="3" fill="#b9e4c1"/>
<rect x="368.0" y="58.2" width="3" height="3" fill="#daf1d6"/>
<rect x="371.0" y="58.2" width="3" height="3" fill="#eaf7e8"/>
<rect x="374.0" y="58.2" width="3" height="3" fill="#f1faf1"/>
<rect x="377.0" y="58.2" width="3" height="3" fill="#f4fcf4"/>
<rect x="239.0" y="61.2" width="3" height="3" fill="#f4fcf4"/>
<rect x="242.0" y="61.2" width="3" height="3" fill="#f1faf1"/>
<rect x="245.0" y="61.2" width="3" height="3" fill="#eaf7e8"/>
<rect x="248.0" y="61.2" width="3" height="3" fill="#d9f1d5"/>
<rect x="251.0" y="61.2" width="3" height="3" fill="#b8e4c1"/>
<rect x="254.0" y="61.2" width="3" height="3" fill="#93d4bd"/>
<rect x="257.0" y="61.2" width="3" height="3" fill="#68bac9"/>
<rect x="260.0" y="61.2" width="3" height="3" fill="#4da0c5"/>
<rect x="263.0" y="61.2" width="3" height="3" fill="#4899c2"/>
<rect x="266.0" y="61.2" width="3" height="3" fill="#499ac3"/>
<rect x="269.0" y="61.2" width="6" height="3" fill="#499bc3"/>
<rect x="275.0" y="61.2" width="3" height="3" fill="#4898c2"/>
<rect x="278.0" y="61.2" width="3" height="3" fill="#4696c1"/>
<rect x="281.0" y="61.2" width="3" height="3" fill="#4594c0"/>
<rect x="284.0" y="61.2" width="3" height="3" fill="#4391bf"/>
<rect x="287.0" y="61.2" width="3" height="3" fill="#408cbd"/>
<rect x="290.0" y="61.2" width="3" height="3" fill="#3d86ba"/>
<rect x="293.0" y="61.2" width="3" height="3" fill="#3d87ba"/>
<rect x="296.0" y="61.2" width="3" height="3" fill="#418fbe"/>
<rect x="299.0" y="61.2" width="3" height="3" fill="#4898c2"/>
<rect x="302.0" y="61.2" width="3" height="3" fill="#4c9fc5"/>
<rect x="305.0" y="61.2" width="3" height="3" fill="#50a4c6"/>
<rect x="308.0" y="61.2" width="3" height="3" fill="#52a6c7"/>
<rect x="311.0" y="61.2" width="3" height="3" fill="#51a5c7"/>
<rect x="314.0" y="61.2" width="3" height="3" fill="#4ca0c5"/>
<rect x="317.0" y="61.2" width="3" height="3" fill="#4899c2"/>
<rect x="320.0" y="61.2" width="3" height="3" fill="#4696c1"/>
<rect x="323.0" y="61.2" width="3" height="3" fill="#4b9ec4"/>
<rect x="326.0" y="61.2" width="3" height="3" fill="#59adc8"/>
<rect x="329.0" y="61.2" width="3" height="3" fill="#68bbc9"/>
<rect x="332.0" y="61.2" width="3" height="3" fill="#74c4c6"/>
<rect x="335.0" y="61.2" width="3" height="3" fill="#7ac9c4"/>
<rect x="338.0" y="61.2" width="6" height="3" fill="#7ccac4"/>
<rect x="344.0" y="61.2" width="3" height="3" fill="#7bc9c4"/>
<rect x="347.0" y="61.2" width="3" height="3" fill="#79c8c5"/>
<rect x="350.0" y="61.2" width="6" height="3" fill="#78c7c5"/>
<rect x="356.0" y="61.2" width="3" height="3" fill="#7dcbc4"/>
<rect x="359.0" y="61.2" width="3" height="3" fill="#90d2be"/>
<rect x="362.0" y="61.2" width="3" height="3" fill="#94d4bd"/>
<rect x="365.0" y="61.2" width="3" height="3" fill="#b8e4c1"/>
<rect x="368.0" y="61.2" width="3" height="3" fill="#d9f1d5"/>
<rect x="371.0" y="61.2" width="3" height="3" fill="#eaf7e8"/>
<rect x="374.0" y="61.2" width="3" height="3" fill="#f1faf1"/>
<rect x="377.0" y="61.2" width="3" height="3" fill="#f4fcf4"/>
<rect x="239.0" y="64.2" width="3" height="3" fill="#f4fcf4"/>
<rect x="242.0" y="64.2" width="3" height="3" fill="#f1faf1"/>
<rect x="245.0" y="64.2" width="3" height="3" fill="#eaf7e8"/>
<rect x="248.0" y="64.2" width="3" height="3" fill="#d9f1d5"/>
<rect x="251.0" y="64.2" width="3" height="3" fill="#b7e4c1"/>
<rect x="254.0" y="64.2" width="3" height="3" fill="#93d4bd"/>
<rect x="257.0" y="64.2" width="3" height="3" fill="#67bac9"/>
<rect x="260.0" y="64.2" width="3" height="3" fill="#4da0c5"/>
<rect x="263.0" y="64.2" width="3" height="3" fill="#499ac3"/>
<rect x="266.0" y="64.2" width="3" height="3" fill="#499bc3"/>
<rect x="269.0" y="64.2" width="3" height="3" fill="#4a9bc3"/>
<rect x="272.0" y="64.2" width="3" height="3" fill="#499ac3"/>
<rect x="275.0" y="64.2" width="3" height="3" fill="#4898c2"/>
<rect x="278.0" y="64.2" width="3" height="3" fill="#4695c1"/>
<rect x="281.0" y="64.2" width="3" height="3" fill="#4492c0"/>
<rect x="284.0" y="64.2" width="3" height="3" fill="#418ebe"/>
<rect x="287.0" y="64.2" width="3" height="3" fill="#3d88bb"/>
<rect x="290.0" y="64.2" width="3" height="3" fill="#3b82b7"/>
<rect x="293.0" y="64.2" width="3" height="3" fill="#3c84b9"/>
<rect x="296.0" y="64.2" width="3" height="3" fill="#418ebe"/>
<rect x="299.0" y="64.2" width="3" height="3" fill="#4899c3"/>
<rect x="302.0" y="64.2" width="3" height="3" fill="#4da1c5"/>
<rect x="305.0" y="64.2" width="6" height="3" fill="#50a4c6"/>
<rect x="311.0" y="64.2" width="3" height="3" fill="#4fa3c6"/>
<rect x="314.0" y="64.2" width="3" height="3" fill="#4c9ec5"/>
<rect x="317.0" y="64.2" width="3" height="3" fill="#4899c2"/>
<rect x="320.0" y="64.2" width="3" height="3" fill="#4797c2"/>
<rect x="323.0" y="64.2" width="3" height="3" fill="#4c9ec5"/>
<rect x="326.0" y="64.2" width="3" height="3" fill="#58acc8"/>
<rect x="329.0" y="64.2" width="3" height="3" fill="#67bac9"/>
<rect x="332.0" y="64.2" width="3" height="3" fill="#73c3c6"/>
<rect x="335.0" y="64.2" width="3" height="3" fill="#79c8c5"/>
<rect x="338.0" y="64.2" width="3" height="3" fill="#7bcac4"/>
<rect x="341.0" y="64.2" width="3" height="3" fill="#7bc9c4"/>
<rect x="344.0" y="64.2" width="3" height="3" fill="#7ac8c4"/>
<rect x="347.0" y="64.2" width="3" height="3" fill="#79c8c5"/>
<rect x="350.0" y="64.2" width="3" height="3" fill="#78c7c5"/>
<rect x="353.0" y="64.2" width="3" height="3" fill="#77c6c5"/>
<rect x="356.0" y="64.2" width="3" height="3" fill="#7ccac4"/>
<rect x="359.0" y="64.2" width="3" height="3" fill="#8fd2bf"/>
<rect x="362.0" y="64.2" width="3" height="3" fill="#94d4bd"/>
<rect x="365.0" y="64.2" width="3" height="3" fill="#b7e4c1"/>
<rect x="368.0" y="64.2" width="3" height="3" fill="#d9f1d5"/>
<rect x="371.0" y="64.2" width="3" height="3" fill="#eaf7e8"/>
<rect x="374.0" y="64.2" width="3" height="3" fill="#f1faf1"/>
<rect x="377.0" y="64.2" width="3" height="3" fill="#f4fbf4"/>
<rect x="239.0" y="67.2" width="3" height="3" fill="#f4fcf4"/>
<rect x="242.0" y="67.2" width="3" height="3" fill="#f1faf1"/>
<rect x="245.0" y="67.2" width="3" height="3" fill="#eaf7e8"/>
<rect x="248.0" y="67.2" width="3" height="3" fill="#d9f1d5"/>
<rect x="251.0" y="67.2" width="3" height="3" fill="#b7e4c0"/>
<rect x="254.0" y="67.2" width="3" height="3" fill="#93d4be"/>
<rect x="257.0" y="67.2" width="3" height="3" fill="#66b9c9"/>
<rect x="260.0" y="67.2" width="3" height="3" fill="#4c9ec5"/>
<rect x="263.0" y="67.2" width="3" height="3" fill="#4798c2"/>
<rect x="266.0" y="67.2" width="3" height="3" fill="#4899c3"/>
<rect x="269.0" y="67.2" width="3" height="3" fill="#499ac3"/>
<rect x="272.0" y="67.2" width="3" height="3" fill="#4899c3"/>
<rect x="275.0" y="67.2" width="3" height="3" fill="#4798c2"/>
<rect x="278.0" y="67.2" width="3" height="3" fill="#4696c1"/>
<rect x="281.0" y="67.2" width="3" height="3" fill="#4392c0"/>
<rect x="284.0" y="67.2" width="3" height="3" fill="#408cbd"/>
<rect x="287.0" y="67.2" width="3" height="3" fill="#3c84b9"/>
<rect x="290.0" y="67.2" width="3" height="3" fill="#397fb5"/>
<rect x="293.0" y="67.2" width="3" height="3" fill="#3b82b7"/>
<rect x="296.0" y="67.2" width="3" height="3" fill="#408dbe"/>
<rect x="299.0" y="67.2" width="3" height="3" fill="#4899c3"/>
<rect x="302.0" y="67.2" width="3" height="3" fill="#4da1c6"/>
<rect x="305.0" y="67.2" width="6" height="3" fill="#4fa3c6"/>
<rect x="311.0" y="67.2" width="3" height="3" fill="#4da1c6"/>
<rect x="314.0" y="67.2" width="3" height="3" fill="#4b9dc4"/>
<rect x="317.0" y="67.2" width="3" height="3" fill="#4798c2"/>
<rect x="320.0" y="67.2" width="3" height="3" fill="#4696c1"/>
<rect x="323.0" y="67.2" width="3" height="3" fill="#4a9cc4"/>
<rect x="326.0" y="67.2" width="3" height="3" fill="#56aac8"/>
<rect x="329.0" y="67.2" width="3" height="3" fill="#65b8c9"/>
<rect x="332.0" y="67.2" width="3" height="3" fill="#71c2c7"/>
<rect x="335.0" y="67.2" width="3" height="3" fill="#78c7c5"/>
<rect x="338.0" y="67.2" width="3" height="3" fill="#7ac8c5"/>
<rect x="341.0" y="67.2" width="3" height="3" fill="#79c7c5"/>
<rect x="344.0" y="67.2" width="9" height="3" fill="#78c7c5"/>
<rect x="353.0" y="67.2" width="3" height="3" fill="#77c6c5"/>
<rect x="356.0" y="67.2" width="3" height="3" fill="#7bc9c4"/>
<rect x="359.0" y="67.2" width="3" height="3" fill="#8fd2bf"/>
<rect x="362.0" y="67.2" width="3" height="3" fill="#94d4bd"/>
<rect x="365.0" y="67.2" width="3" height="3" fill="#b7e4c0"/>
<rect x="368.0" y="67.2" width="3" height="3" fill="#d9f1d5"/>
<rect x="371.0" y="67.2" width="3" height="3" fill="#eaf7e8"/>
<rect x="374.0" y="67.2" width="3" height="3" fill="#f1faf1"/>
<rect x="377.0" y="67.2" width="3" height="3" fill="#f4fbf4"/>
<rect x="239.0" y="70.2" width="3" height="3" fill="#f4fcf4"/>
<rect x="242.0" y="70.2" width="3" height="3" fill="#f1faf1"/>
<rect x="245.0" y="70.2" width="3" height="3" fill="#eaf7e8"/>
<rect x="248.0" y="70.2" width="3" height="3" fill="#d9f1d5"/>
<rect x="251.0" y="70.2" width="3" height="3" fill="#b7e4c0"/>
<rect x="254.0" y="70.2" width="3" height="3" fill="#93d4be"/>
<rect x="257.0" y="70.2" width="3" height="3" fill="#65b8c9"/>
<rect x="260.0" y="70.2" width="3" height="3" fill="#4a9cc4"/>
<rect x="263.0" y="70.2" width="3" height="3" fill="#4594c0"/>
<rect x="266.0" y="70.2" width="3" height="3" fill="#4695c1"/>
<rect x="269.0" y="70.2" width="3" height="3" fill="#4797c2"/>
<rect x="272.0" y="70.2" width="3" height="3" fill="#4798c2"/>
<rect x="275.0" y="70.2" width="3" height="3" fill="#4797c2"/>
<rect x="278.0" y="70.2" width="3" height="3" fill="#4695c1"/>
<rect x="281.0" y="70.2" width="3" height="3" fill="#4391bf"/>
<rect x="284.0" y="70.2" width="3" height="3" fill="#3f8bbd"/>
<rect x="287.0" y="70.2" width="3" height="3" fill="#3b83b8"/>
<rect x="290.0" y="70.2" width="3" height="3" fill="#397eb5"/>
<rect x="293.0" y="70.2" width="3" height="3" fill="#3a80b6"/>
<rect x="296.0" y="70.2" width="3" height="3" fill="#3f8bbd"/>
<rect x="299.0" y="70.2" width="3" height="3" fill="#4797c2"/>
<rect x="302.0" y="70.2" width="3" height="3" fill="#4c9fc5"/>
<rect x="305.0" y="70.2" width="3" height="3" fill="#4ea1c6"/>
<rect x="308.0" y="70.2" width="3" height="3" fill="#4da1c6"/>
<rect x="311.0" y="70.2" width="3" height="3" fill="#4c9fc5"/>
<rect x="314.0" y="70.2" width="3" height="3" fill="#4a9cc4"/>
<rect x="317.0" y="70.2" width="3" height="3" fill="#4797c2"/>
<rect x="320.0" y="70.2" width="3" height="3" fill="#4595c1"/>
<rect x="323.0" y="70.2" width="3" height="3" fill="#499ac3"/>
<rect x="326.0" y="70.2" width="3" height="3" fill="#55a9c7"/>
<rect x="329.0" y="70.2" width="3" height="3" fill="#64b8ca"/>
<rect x="332.0" y="70.2" width="3" height="3" fill="#72c2c6"/>
<rect x="335.0" y="70.2" width="6" height="3" fill="#78c7c5"/>
<rect x="341.0" y="70.2" width="3" height="3" fill="#77c6c5"/>
<rect x="344.0" y="70.2" width="3" height="3" fill="#76c6c5"/>
<rect x="347.0" y="70.2" width="3" height="3" fill="#77c6c5"/>
<rect x="350.0" y="70.2" width="3" height="3" fill="#78c7c5"/>
<rect x="353.0" y="70.2" width="3" height="3" fill="#77c6c5"/>
<rect x="356.0" y="70.2" width="3" height="3" fill="#7ac9c4"/>
<rect x="359.0" y="70.2" width="3" height="3" fill="#8ed2bf"/>
<rect x="362.0" y="70.2" width="3" height="3" fill="#94d4bd"/>
<rect x="365.0" y="70.2" width="3" height="3" fill="#b7e4c0"/>
<rect x="368.0" y="70.2" width="3" height="3" fill="#d9f1d5"/>
<rect x="371.0" y="70.2" width="3" height="3" fill="#eaf7e8"/>
<rect x="374.0" y="70.2" width="3" height="3" fill="#f1faf1"/>
<rect x="377.0" y="70.2" width="3" height="3" fill="#f4fbf4"/>
<rect x="239.0" y="73.2" width="3" height="3" fill="#f4fcf4"/>
<rect x="242.0" y="73.2" width="3" height="3" fill="#f1faf1"/>
<rect x="245.0" y="73.2" width="3" height="3" fill="#eaf7e8"/>
<rect x="248.0" y="73.2" width="3" height="3" fill="#d9f1d5"/>
<rect x="251.0" y="73.2" width="3" height="3" fill="#b7e4c0"/>
<rect x="254.0" y="73.2" width="3" height="3" fill="#93d4be"/>
<rect x="257.0" y="73.2" width="3" height="3" fill="#64b8c9"/>
<rect x="260.0" y="73.2" width="3" height="3" fill="#499ac3"/>
<rect x="263.0" y="73.2" width="3" height="3" fill="#4290bf"/>
<rect x="266.0" y="73.2" width="3" height="3" fill="#4391bf"/>
<rect x="269.0" y="73.2" width="3" height="3" fill="#4493c0"/>
<rect x="272.0" y="73.2" width="3" height="3" fill="#4695c1"/>
<rect x="275.0" y="73.2" width="3" height="3" fill="#4696c1"/>
<rect x="278.0" y="73.2" width="3" height="3" fill="#4594c0"/>
<rect x="281.0" y="73.2" width="3" height="3" fill="#428fbf"/>
<rect x="284.0" y="73.2" width="3" height="3" fill="#3e89bc"/>
<rect x="287.0" y="73.2" width="3" height="3" fill="#3b82b8"/>
<rect x="290.0" y="73.2" width="3" height="3" fill="#397eb5"/>
<rect x="293.0" y="73.2" width="3" height="3" fill="#3a80b6"/>
<rect x="296.0" y="73.2" width="3" height="3" fill="#3e89bc"/>
<rect x="299.0" y="73.2" width="3" height="3" fill="#4493c0"/>
<rect x="302.0" y="73.2" width="3" height="3" fill="#499ac3"/>
<rect x="305.0" y="73.2" width="6" height="3" fill="#4b9ec4"/>
<rect x="311.0" y="73.2" width="3" height="3" fill="#4b9dc4"/>
<rect x="314.0" y="73.2" width="3" height="3" fill="#4a9cc3"/>
<rect x="317.0" y="73.2" width="3" height="3" fill="#4898c2"/>
<rect x="320.0" y="73.2" width="3" height="3" fill="#4695c1"/>
<rect x="323.0" y="73.2" width="3" height="3" fill="#499ac3"/>
<rect x="326.0" y="73.2" width="3" height="3" fill="#55a9c7"/>
<rect x="329.0" y="73.2" width="3" height="3" fill="#66b9c9"/>
<rect x="332.0" y="73.2" width="3" height="3" fill="#74c4c6"/>
<rect x="335.0" y="73.2" width="3" height="3" fill="#79c8c5"/>
<rect x="338.0" y="73.2" width="3" height="3" fill="#78c7c5"/>
<rect x="341.0" y="73.2" width="3" height="3" fill="#75c5c6"/>
<rect x="344.0" y="73.2" width="3" height="3" fill="#75c4c6"/>
<rect x="347.0" y="73.2" width="3" height="3" fill="#76c6c5"/>
<rect x="350.0" y="73.2" width="3" height="3" fill="#78c7c5"/>
<rect x="353.0" y="73.2" width="3" height="3" fill="#76c6c5"/>
<rect x="356.0" y="73.2" width="3" height="3" fill="#79c8c5"/>
<rect x="359.0" y="73.2" width="3" height="3" fill="#8cd1bf"/>
<rect x="362.0" y="73.2" width="3" height="3" fill="#94d4bd"/>
<rect x="365.0" y="73.2" width="3" height="3" fill="#b7e4c0"/>
<rect x="368.0" y="73.2" width="3" height="3" fill="#d9f1d5"/>
<rect x="371.0" y="73.2" width="3" height="3" fill="#eaf7e8"/>
<rect x="374.0" y="73.2" width="3" height="3" fill="#f1faf1"/>
<rect x="377.0" y="73.2" width="3" height="3" fill="#f4fbf4"/>
<rect x="239.0" y="76.2" width="3" height="3" fill="#f4fcf4"/>
<rect x="242.0" y="76.2" width="3" height="3" fill="#f1faf1"/>
<rect x="245.0" y="76.2" width="3" height="3" fill="#eaf7e8"/>
<rect x="248.0" y="76.2" width="3" height="3" fill="#d9f1d5"/>
<rect x="251.0" y="76.2" width="3" height="3" fill="#b7e4c0"/>
<rect x="254.0" y="76.2" width="3" height="3" fill="#92d4be"/>
<rect x="257.0" y="76.2" width="3" height="3" fill="#63b7ca"/>
<rect x="260.0" y="76.2" width="3" height="3" fill="#4898c2"/>
<rect x="263.0" y="76.2" width="3" height="3" fill="#418ebe"/>
<rect x="266.0" y="76.2" width="3" height="3" fill="#418dbe"/>
<rect x="269.0" y="76.2" width="3" height="3" fill="#4290bf"/>
<rect x="272.0" y="76.2" width="6" height="3" fill="#4493c0"/>
<rect x="278.0" y="76.2" width="3" height="3" fill="#4391bf"/>
<rect x="281.0" y="76.2" width="3" height="3" fill="#408cbd"/>
<rect x="284.0" y="76.2" width="3" height="3" fill="#3d86ba"/>
<rect x="287.0" y="76.2" width="3" height="3" fill="#3a81b7"/>
<rect x="290.0" y="76.2" width="3" height="3" fill="#397db4"/>
<rect x="293.0" y="76.2" width="3" height="3" fill="#3a7fb6"/>
<rect x="296.0" y="76.2" width="3" height="3" fill="#3d87ba"/>
<rect x="299.0" y="76.2" width="3" height="3" fill="#4290bf"/>
<rect x="302.0" y="76.2" width="3" height="3" fill="#4696c1"/>
<rect x="305.0" y="76.2" width="3" height="3" fill="#4899c3"/>
<rect x="308.0" y="76.2" width="9" height="3" fill="#499ac3"/>
<rect x="317.0" y="76.2" width="3" height="3" fill="#4899c2"/>
<rect x="320.0" y="76.2" width="3" height="3" fill="#4696c1"/>
<rect x="323.0" y="76.2" width="3" height="3" fill="#499bc3"/>
<rect x="326.0" y="76.2" width="3" height="3" fill="#55a9c7"/>
<rect x="329.0" y="76.2" width="3" height="3" fill="#66b9c9"/>
<rect x="332.0" y="76.2" width="3" height="3" fill="#74c4c6"/>
<rect x="335.0" y="76.2" width="3" height="3" fill="#78c7c5"/>
<rect x="338.0" y="76.2" width="3" height="3" fill="#76c5c5"/>
<rect x="341.0" y="76.2" width="3" height="3" fill="#72c3c6"/>
<rect x="344.0" y="76.2" width="3" height="3" fill="#72c2c6"/>
<rect x="347.0" y="76.2" width="3" height="3" fill="#74c4c6"/>
<rect x="350.0" y="76.2" width="3" height="3" fill="#75c5c6"/>
<rect x="353.0" y="76.2" width="3" height="3" fill="#73c3c6"/>
<rect x="356.0" y="76.2" width="3" height="3" fill="#75c4c6"/>
<rect x="359.0" y="76.2" width="3" height="3" fill="#89d0c0"/>
<rect x="362.0" y="76.2" width="3" height="3" fill="#94d4bd"/>
<rect x="365.0" y="76.2" width="3" height="3" fill="#b7e4c0"/>
<rect x="368.0" y="76.2" width="3" height="3" fill="#d9f1d5"/>
<rect x="371.0" y="76.2" width="3" height="3" fill="#eaf7e8"/>
<rect x="374.0" y="76.2" width="3" height="3" fill="#f1faf1"/>
<rect x="377.0" y="76.2" width="3" height="3" fill="#f4fbf4"/>
<rect x="239.0" y="79.2" width="3" height="3" fill="#f4fcf4"/>
<rect x="242.0" y="79.2" width="3" height="3" fill="#f1faf1"/>
<rect x="245.0" y="79.2" width="3" height="3" fill="#eaf7e8"/>
<rect x="248.0" y="79.2" width="3" height="3" fill="#d9f1d5"/>
<rect x="251.0" y="79.2" width="3" height="3" fill="#b7e4c0"/>
<rect x="254.0" y="79.2" width="3" height="3" fill="#91d3be"/>
<rect x="257.0" y="79.2" width="3" height="3" fill="#61b5ca"/>
<rect x="260.0" y="79.2" width="3" height="3" fill="#4797c2"/>
<rect x="263.0" y="79.2" width="3" height="3" fill="#408cbe"/>
<rect x="266.0" y="79.2" width="3" height="3" fill="#3f8cbd"/>
<rect x="269.0" y="79.2" width="3" height="3" fill="#418dbe"/>
<rect x="272.0" y="79.2" width="3" height="3" fill="#428fbf"/>
<rect x="275.0" y="79.2" width="3" height="3" fill="#418fbe"/>
<rect x="278.0" y="79.2" width="3" height="3" fill="#408cbd"/>
<rect x="281.0" y="79.2" width="3" height="3" fill="#3d87bb"/>
<rect x="284.0" y="79.2" width="3" height="3" fill="#3b82b7"/>
<rect x="287.0" y="79.2" width="3" height="3" fill="#387cb4"/>
<rect x="290.0" y="79.2" width="3" height="3" fill="#3779b2"/>
<rect x="293.0" y="79.2" width="3" height="3" fill="#387cb3"/>
<rect x="296.0" y="79.2" width="3" height="3" fill="#3c84b9"/>
<rect x="299.0" y="79.2" width="3" height="3" fill="#408cbe"/>
<rect x="302.0" y="79.2" width="3" height="3" fill="#4392c0"/>
<rect x="305.0" y="79.2" width="3" height="3" fill="#4594c1"/>
<rect x="308.0" y="79.2" width="6" height="3" fill="#4595c1"/>
<rect x="314.0" y="79.2" width="3" height="3" fill="#4695c1"/>
<rect x="317.0" y="79.2" width="3" height="3" fill="#4595c1"/>
<rect x="320.0" y="79.2" width="3" height="3" fill="#4493c0"/>
<rect x="323.0" y="79.2" width="3" height="3" fill="#4898c2"/>
<rect x="326.0" y="79.2" width="3" height="3" fill="#52a6c7"/>
<rect x="329.0" y="79.2" width="3" height="3" fill="#61b5ca"/>
<rect x="332.0" y="79.2" width="3" height="3" fill="#6fc0c7"/>
<rect x="335.0" y="79.2" width="3" height="3" fill="#72c3c6"/>
<rect x="338.0" y="79.2" width="3" height="3" fill="#6fc0c7"/>
<rect x="341.0" y="79.2" width="6" height="3" fill="#6bbdc8"/>
<rect x="347.0" y="79.2" width="3" height="3" fill="#6dbfc7"/>
<rect x="350.0" y="79.2" width="3" height="3" fill="#6fc0c7"/>
<rect x="353.0" y="79.2" width="3" height="3" fill="#6dbfc7"/>
<rect x="356.0" y="79.2" width="3" height="3" fill="#6ec0c7"/>
<rect x="359.0" y="79.2" width="3" height="3" fill="#85cec1"/>
<rect x="362.0" y="79.2" width="3" height="3" fill="#94d4bd"/>
<rect x="365.0" y="79.2" width="3" height="3" fill="#b7e4c0"/>
<rect x="368.0" y="79.2" width="3" height="3" fill="#d9f1d5"/>
<rect x="371.0" y="79.2" width="3" height="3" fill="#eaf7e8"/>
<rect x="374.0" y="79.2" width="3" height="3" fill="#f1faf1"/>
<rect x="377.0" y="79.2" width="3" height="3" fill="#f4fbf4"/>
<rect x="239.0" y="82.2" width="3" height="3" fill="#f4fcf4"/>
<rect x="242.0" y="82.2" width="3" height="3" fill="#f1faf1"/>
<rect x="245.0" y="82.2" width="3" height="3" fill="#eaf7e8"/>
<rect x="248.0" y="82.2" width="3" height="3" fill="#d9f1d5"/>
<rect x="251.0" y="82.2" width="3" height="3" fill="#b7e4c0"/>
<rect x="254.0" y="82.2" width="3" height="3" fill="#90d3be"/>
<rect x="257.0" y="82.2" width="3" height="3" fill="#5fb3c9"/>
<rect x="260.0" y="82.2" width="3" height="3" fill="#4695c1"/>
<rect x="263.0" y="82.2" width="3" height="3" fill="#408cbd"/>
<rect x="266.0" y="82.2" width="3" height="3" fill="#3f8bbd"/>
<rect x="269.0" y="82.2" width="6" height="3" fill="#408cbd"/>
<rect x="275.0" y="82.2" width="3" height="3" fill="#3f8bbd"/>
<rect x="278.0" y="82.2" width="3" height="3" fill="#3e89bc"/>
<rect x="281.0" y="82.2" width="3" height="3" fill="#3c85b9"/>
<rect x="284.0" y="82.2" width="3" height="3" fill="#3a7fb6"/>
<rect x="287.0" y="82.2" width="3" height="3" fill="#3678b1"/>
<rect x="290.0" y="82.2" width="3" height="3" fill="#3474ae"/>
<rect x="293.0" y="82.2" width="3" height="3" fill="#3576b0"/>
<rect x="296.0" y="82.2" width="3" height="3" fill="#397fb5"/>
<rect x="299.0" y="82.2" width="3" height="3" fill="#3d87bb"/>
<rect x="302.0" y="82.2" width="3" height="3" fill="#408cbd"/>
<rect x="305.0" y="82.2" width="3" height="3" fill="#418ebe"/>
<rect x="308.0" y="82.2" width="3" height="3" fill="#418dbe"/>
<rect x="311.0" y="82.2" width="6" height="3" fill="#408dbe"/>
<rect x="317.0" y="82.2" width="3" height="3" fill="#408cbe"/>
<rect x="320.0" y="82.2" width="3" height="3" fill="#3f8bbd"/>
<rect x="323.0" y="82.2" width="3" height="3" fill="#4290bf"/>
<rect x="326.0" y="82.2" width="3" height="3" fill="#4b9dc4"/>
<rect x="329.0" y="82.2" width="3" height="3" fill="#58acc8"/>
<rect x="332.0" y="82.2" width="3" height="3" fill="#63b7ca"/>
<rect x="335.0" y="82.2" width="3" height="3" fill="#67bac9"/>
<rect x="338.0" y="82.2" width="3" height="3" fill="#65b8c9"/>
<rect x="341.0" y="82.2" width="3" height="3" fill="#61b5ca"/>
<rect x="344.0" y="82.2" width="3" height="3" fill="#60b4ca"/>
<rect x="347.0" y="82.2" width="3" height="3" fill="#63b7ca"/>
<rect x="350.0" y="82.2" width="3" height="3" fill="#66b9c9"/>
<rect x="353.0" y="82.2" width="3" height="3" fill="#64b8ca"/>
<rect x="356.0" y="82.2" width="3" height="3" fill="#66b9c9"/>
<rect x="359.0" y="82.2" width="3" height="3" fill="#80ccc3"/>
<rect x="362.0" y="82.2" width="3" height="3" fill="#94d4bd"/>
<rect x="365.0" y="82.2" width="3" height="3" fill="#b7e4c0"/>
<rect x="368.0" y="82.2" width="3" height="3" fill="#d9f1d5"/>
<rect x="371.0" y="82.2" width="3" height="3" fill="#eaf7e8"/>
<rect x="374.0" y="82.2" width="3" height="3" fill="#f1faf1"/>
<rect x="377.0" y="82.2" width="3" height="3" fill="#f4fbf4"/>
<rect x="239.0" y="85.2" width="3" height="3" fill="#f4fcf4"/>
<rect x="242.0" y="85.2" width="3" height="3" fill="#f1faf1"/>
<rect x="245.0" y="85.2" width="3" height="3" fill="#eaf7e8"/>
<rect x="248.0" y="85.2" width="3" height="3" fill="#d9f1d5"/>
<rect x="251.0" y="85.2" width="3" height="3" fill="#b7e4c0"/>
<rect x="254.0" y="85.2" width="3" height="3" fill="#91d3be"/>
<rect x="257.0" y="85.2" width="3" height="3" fill="#61b5ca"/>
<rect x="260.0" y="85.2" width="3" height="3" fill="#4899c2"/>
<rect x="263.0" y="85.2" width="9" height="3" fill="#4391bf"/>
<rect x="272.0" y="85.2" width="3" height="3" fill="#4390bf"/>
<rect x="275.0" y="85.2" width="3" height="3" fill="#4290bf"/>
<rect x="278.0" y="85.2" width="3" height="3" fill="#418fbe"/>
<rect x="281.0" y="85.2" width="3" height="3" fill="#3f8cbd"/>
<rect x="284.0" y="85.2" width="3" height="3" fill="#3d86ba"/>
<rect x="287.0" y="85.2" width="3" height="3" fill="#387cb4"/>
<rect x="290.0" y="85.2" width="3" height="3" fill="#3474ae"/>
<rect x="293.0" y="85.2" width="3" height="3" fill="#3473ae"/>
<rect x="296.0" y="85.2" width="3" height="3" fill="#377ab2"/>
<rect x="299.0" y="85.2" width="3" height="3" fill="#3c84b8"/>
<rect x="302.0" y="85.2" width="3" height="3" fill="#3e89bc"/>
<rect x="305.0" y="85.2" width="3" height="3" fill="#3f8abc"/>
<rect x="308.0" y="85.2" width="3" height="3" fill="#3e88bb"/>
<rect x="311.0" y="85.2" width="3" height="3" fill="#3d86ba"/>
<rect x="314.0" y="85.2" width="3" height="3" fill="#3c85b9"/>
<rect x="317.0" y="85.2" width="3" height="3" fill="#3c84b9"/>
<rect x="320.0" y="85.2" width="3" height="3" fill="#3b83b8"/>
<rect x="323.0" y="85.2" width="3" height="3" fill="#3d87ba"/>
<rect x="326.0" y="85.2" width="3" height="3" fill="#4493c0"/>
<rect x="329.0" y="85.2" width="3" height="3" fill="#4ea2c6"/>
<rect x="332.0" y="85.2" width="3" height="3" fill="#58acc8"/>
<rect x="335.0" y="85.2" width="3" height="3" fill="#5cb0c9"/>
<rect x="338.0" y="85.2" width="3" height="3" fill="#5aaec8"/>
<rect x="341.0" y="85.2" width="6" height="3" fill="#57abc8"/>
<rect x="347.0" y="85.2" width="3" height="3" fill="#5aaec8"/>
<rect x="350.0" y="85.2" width="3" height="3" fill="#5cb0c9"/>
<rect x="353.0" y="85.2" width="3" height="3" fill="#5aaec8"/>
<rect x="356.0" y="85.2" width="3" height="3" fill="#5db1c9"/>
<rect x="359.0" y="85.2" width="3" height="3" fill="#78c7c5"/>
<rect x="362.0" y="85.2" width="3" height="3" fill="#94d4bd"/>
<rect x="365.0" y="85.2" width="3" height="3" fill="#b7e4c0"/>
<rect x="368.0" y="85.2" width="3" height="3" fill="#d9f1d5"/>
<rect x="371.0" y="85.2" width="3" height="3" fill="#eaf7e8"/>
<rect x="374.0" y="85.2" width="3" height="3" fill="#f1faf1"/>
<rect x="377.0" y="85.2" width="3" height="3" fill="#f4fbf4"/>
<rect x="239.0" y="88.2" width="3" height="3" fill="#f4fcf4"/>
<rect x="242.0" y="88.2" width="3" height="3" fill="#f1faf1"/>
<rect x="245.0" y="88.2" width="3" height="3" fill="#eaf7e8"/>
<rect x="248.0" y="88.2" width="3" height="3" fill="#d9f1d5"/>
<rect x="251.0" y="88.2" width="3" height="3" fill="#b7e4c0"/>
<rect x="254.0" y="88.2" width="3" height="3" fill="#93d4bd"/>
<rect x="257.0" y="88.2" width="3" height="3" fill="#6bbdc8"/>
<rect x="260.0" y="88.2" width="3" height="3" fill="#51a5c7"/>
<rect x="263.0" y="88.2" width="3" height="3" fill="#4da0c5"/>
<rect x="266.0" y="88.2" width="3" height="3" fill="#4da1c5"/>
<rect x="269.0" y="88.2" width="3" height="3" fill="#4da1c6"/>
<rect x="272.0" y="88.2" width="3" height="3" fill="#4da0c5"/>
<rect x="275.0" y="88.2" width="6" height="3" fill="#4da1c6"/>
<rect x="281.0" y="88.2" width="3" height="3" fill="#4c9fc5"/>
<rect x="284.0" y="88.2" width="3" height="3" fill="#4899c2"/>
<rect x="287.0" y="88.2" width="3" height="3" fill="#408dbe"/>
<rect x="290.0" y="88.2" width="3" height="3" fill="#397fb5"/>
<rect x="293.0" y="88.2" width="3" height="3" fill="#3678b1"/>
<rect x="296.0" y="88.2" width="3" height="3" fill="#387cb4"/>
<rect x="299.0" y="88.2" width="3" height="3" fill="#3d86ba"/>
<rect x="302.0" y="88.2" width="3" height="3" fill="#408cbe"/>
<rect x="305.0" y="88.2" width="3" height="3" fill="#418ebe"/>
<rect x="308.0" y="88.2" width="3" height="3" fill="#3f8abd"/>
<rect x="311.0" y="88.2" width="3" height="3" fill="#3d86ba"/>
<rect x="314.0" y="88.2" width="3" height="3" fill="#3c83b8"/>
<rect x="317.0" y="88.2" width="3" height="3" fill="#3b82b8"/>
<rect x="320.0" y="88.2" width="3" height="3" fill="#3b81b7"/>
<rect x="323.0" y="88.2" width="3" height="3" fill="#3c84b9"/>
<rect x="326.0" y="88.2" width="3" height="3" fill="#408dbe"/>
<rect x="329.0" y="88.2" width="3" height="3" fill="#499ac3"/>
<rect x="332.0" y="88.2" width="3" height="3" fill="#50a4c6"/>
<rect x="335.0" y="88.2" width="3" height="3" fill="#53a7c7"/>
<rect x="338.0" y="88.2" width="3" height="3" fill="#52a6c7"/>
<rect x="341.0" y="88.2" width="6" height="3" fill="#4fa3c6"/>
<rect x="347.0" y="88.2" width="3" height="3" fill="#51a5c7"/>
<rect x="350.0" y="88.2" width="3" height="3" fill="#52a6c7"/>
<rect x="353.0" y="88.2" width="3" height="3" fill="#51a5c7"/>
<rect x="356.0" y="88.2" width="3" height="3" fill="#55a9c7"/>
<rect x="359.0" y="88.2" width="3" height="3" fill="#70c1c7"/>
<rect x="362.0" y="88.2" width="3" height="3" fill="#94d4bd"/>
<rect x="365.0" y="88.2" width="3" height="3" fill="#b7e4c0"/>
<rect x="368.0" y="88.2" width="3" height="3" fill="#d9f1d5"/>
<rect x="371.0" y="88.2" width="3" height="3" fill="#eaf7e8"/>
<rect x="374.0" y="88.2" width="3" height="3" fill="#f1faf1"/>
<rect x="377.0" y="88.2" width="3" height="3" fill="#f4fbf4"/>
<rect x="239.0" y="91.2" width="3" height="3" fill="#f4fcf4"/>
<rect x="242.0" y="91.2" width="3" height="3" fill="#f1faf1"/>
<rect x="245.0" y="91.2" width="3" height="3" fill="#eaf7e8"/>
<rect x="248.0" y="91.2" width="3" height="3" fill="#d9f1d5"/>
<rect x="251.0" y="91.2" width="3" height="3" fill="#b7e4c0"/>
<rect x="254.0" y="91.2" width="3" height="3" fill="#94d4bd"/>
<rect x="257.0" y="91.2" width="3" height="3" fill="#7ac8c5"/>
<rect x="260.0" y="91.2" width="3" height="3" fill="#5eb2c9"/>
<rect x="263.0" y="91.2" width="3" height="3" fill="#5aaec8"/>
<rect x="266.0" y="91.2" width="3" height="3" fill="#5cb0c9"/>
<rect x="269.0" y="91.2" width="3" height="3" fill="#5db1c9"/>
<rect x="272.0" y="91.2" width="3" height="3" fill="#5eb2c9"/>
<rect x="275.0" y="91.2" width="3" height="3" fill="#5fb3c9"/>
<rect x="278.0" y="91.2" width="3" height="3" fill="#60b4ca"/>
<rect x="281.0" y="91.2" width="3" height="3" fill="#5fb3c9"/>
<rect x="284.0" y="91.2" width="3" height="3" fill="#59adc8"/>
<rect x="287.0" y="91.2" width="3" height="3" fill="#4ea2c6"/>
<rect x="290.0" y="91.2" width="3" height="3" fill="#4290bf"/>
<rect x="293.0" y="91.2" width="3" height="3" fill="#3c84b9"/>
<rect x="296.0" y="91.2" width="3" height="3" fill="#3c85b9"/>
<rect x="299.0" y="91.2" width="3" height="3" fill="#418ebe"/>
<rect x="302.0" y="91.2" width="3" height="3" fill="#4695c1"/>
<rect x="305.0" y="91.2" width="3" height="3" fill="#4696c1"/>
<rect x="308.0" y="91.2" width="3" height="3" fill="#4392c0"/>
<rect x="311.0" y="91.2" width="3" height="3" fill="#408cbd"/>
<rect x="314.0" y="91.2" width="3" height="3" fill="#3e89bc"/>
<rect x="317.0" y="91.2" width="3" height="3" fill="#3d87bb"/>
<rect x="320.0" y="91.2" width="3" height="3" fill="#3d87ba"/>
<rect x="323.0" y="91.2" width="3" height="3" fill="#3e89bc"/>
<rect x="326.0" y="91.2" width="3" height="3" fill="#4290bf"/>
<rect x="329.0" y="91.2" width="3" height="3" fill="#4899c3"/>
<rect x="332.0" y="91.2" width="3" height="3" fill="#4da1c6"/>
<rect x="335.0" y="91.2" width="3" height="3" fill="#50a4c6"/>
<rect x="338.0" y="91.2" width="3" height="3" fill="#4ea2c6"/>
<rect x="341.0" y="91.2" width="6" height="3" fill="#4c9fc5"/>
<rect x="347.0" y="91.2" width="3" height="3" fill="#4da0c5"/>
<rect x="350.0" y="91.2" width="6" height="3" fill="#4da1c6"/>
<rect x="356.0" y="91.2" width="3" height="3" fill="#52a6c7"/>
<rect x="359.0" y="91.2" width="3" height="3" fill="#6dbfc7"/>
<rect x="362.0" y="91.2" width="3" height="3" fill="#94d4bd"/>
<rect x="365.0" y="91.2" width="3" height="3" fill="#b7e4c0"/>
<rect x="368.0" y="91.2" width="3" height="3" fill="#d9f1d5"/>
<rect x="371.0" y="91.2" width="3" height="3" fill="#eaf7e8"/>
<rect x="374.0" y="91.2" width="3" height="3" fill="#f1faf1"/>
<rect x="377.0" y="91.2" width="3" height="3" fill="#f4fbf4"/>
<rect x="239.0" y="94.2" width="3" height="3" fill="#f4fcf4"/>
<rect x="242.0" y="94.2" width="3" height="3" fill="#f1faf1"/>
<rect x="245.0" y="94.2" width="3" height="3" fill="#eaf7e8"/>
<rect x="248.0" y="94.2" width="3" height="3" fill="#d9f1d5"/>
<rect x="251.0" y="94.2" width="3" height="3" fill="#b7e4c0"/>
<rect x="254.0" y="94.2" width="3" height="3" fill="#94d4bd"/>
<rect x="257.0" y="94.2" width="3" height="3" fill="#84cdc2"/>
<rect x="260.0" y="94.2" width="3" height="3" fill="#69bbc8"/>
<rect x="263.0" y="94.2" width="3" height="3" fill="#64b7ca"/>
<rect x="266.0" y="94.2" width="3" height="3" fill="#66b9c9"/>
<rect x="269.0" y="94.2" width="3" height="3" fill="#69bcc8"/>
<rect x="272.0" y="94.2" width="3" height="3" fill="#6cbec8"/>
<rect x="275.0" y="94.2" width="3" height="3" fill="#6fc0c7"/>
<rect x="278.0" y="94.2" width="3" height="3" fill="#71c1c7"/>
<rect x="281.0" y="94.2" width="3" height="3" fill="#6fc0c7"/>
<rect x="284.0" y="94.2" width="3" height="3" fill="#68bac9"/>
<rect x="287.0" y="94.2" width="3" height="3" fill="#5aaec8"/>
<rect x="290.0" y="94.2" width="3" height="3" fill="#4b9ec4"/>
<rect x="293.0" y="94.2" width="3" height="3" fill="#4290bf"/>
<rect x="296.0" y="94.2" width="3" height="3" fill="#428fbf"/>
<rect x="299.0" y="94.2" width="3" height="3" fill="#4797c2"/>
<rect x="302.0" y="94.2" width="6" height="3" fill="#4b9ec4"/>
<rect x="308.0" y="94.2" width="3" height="3" fill="#4899c3"/>
<rect x="311.0" y="94.2" width="3" height="3" fill="#4493c0"/>
<rect x="314.0" y="94.2" width="3" height="3" fill="#428fbf"/>
<rect x="317.0" y="94.2" width="6" height="3" fill="#418ebe"/>
<rect x="323.0" y="94.2" width="3" height="3" fill="#4290bf"/>
<rect x="326.0" y="94.2" width="3" height="3" fill="#4595c1"/>
<rect x="329.0" y="94.2" width="3" height="3" fill="#4b9dc4"/>
<rect x="332.0" y="94.2" width="3" height="3" fill="#4fa3c6"/>
<rect x="335.0" y="94.2" width="3" height="3" fill="#50a4c6"/>
<rect x="338.0" y="94.2" width="3" height="3" fill="#4fa3c6"/>
<rect x="341.0" y="94.2" width="3" height="3" fill="#4da1c6"/>
<rect x="344.0" y="94.2" width="3" height="3" fill="#4da1c5"/>
<rect x="347.0" y="94.2" width="3" height="3" fill="#4ea1c6"/>
<rect x="350.0" y="94.2" width="6" height="3" fill="#4ea2c6"/>
<rect x="356.0" y="94.2" width="3" height="3" fill="#54a8c7"/>
<rect x="359.0" y="94.2" width="3" height="3" fill="#6fc0c7"/>
<rect x="362.0" y="94.2" width="3" height="3" fill="#94d4bd"/>
<rect x="365.0" y="94.2" width="3" height="3" fill="#b7e4c0"/>
<rect x="368.0" y="94.2" width="3" height="3" fill="#d9f1d5"/>
<rect x="371.0" y="94.2" width="3" height="3" fill="#eaf7e8"/>
<rect x="374.0" y="94.2" width="3" height="3" fill="#f1faf1"/>
<rect x="377.0" y="94.2" width="3" height="3" fill="#f4fbf4"/>
<rect x="239.0" y="97.2" width="3" height="3" fill="#f4fcf4"/>
<rect x="242.0" y="97.2" width="3" height="3" fill="#f1faf1"/>
<rect x="245.0" y="97.2" width="3" height="3" fill="#eaf7e8"/>
<rect x="248.0" y="97.2" width="3" height="3" fill="#d9f1d5"/>
<rect x="251.0" y="97.2" width="3" height="3" fill="#b7e4c0"/>
<rect x="254.0" y="97.2" width="3" height="3" fill="#94d4bd"/>
<rect x="257.0" y="97.2" width="3" height="3" fill="#89cfc0"/>
<rect x="260.0" y="97.2" width="3" height="3" fill="#6fc0c7"/>
<rect x="263.0" y="97.2" width="3" height="3" fill="#69bbc8"/>
<rect x="266.0" y="97.2" width="3" height="3" fill="#6cbdc8"/>
<rect x="269.0" y="97.2" width="3" height="3" fill="#70c1c7"/>
<rect x="272.0" y="97.2" width="3" height="3" fill="#74c4c6"/>
<rect x="275.0" y="97.2" width="3" height="3" fill="#77c6c5"/>
<rect x="278.0" y="97.2" width="3" height="3" fill="#78c7c5"/>
<rect x="281.0" y="97.2" width="3" height="3" fill="#76c5c5"/>
<rect x="284.0" y="97.2" width="3" height="3" fill="#6fc0c7"/>
<rect x="287.0" y="97.2" width="3" height="3" fill="#61b5ca"/>
<rect x="290.0" y="97.2" width="3" height="3" fill="#52a6c7"/>
<rect x="293.0" y="97.2" width="3" height="3" fill="#4898c2"/>
<rect x="296.0" y="97.2" width="3" height="3" fill="#4696c1"/>
<rect x="299.0" y="97.2" width="3" height="3" fill="#4b9dc4"/>
<rect x="302.0" y="97.2" width="3" height="3" fill="#4fa3c6"/>
<rect x="305.0" y="97.2" width="3" height="3" fill="#4ea2c6"/>
<rect x="308.0" y="97.2" width="3" height="3" fill="#4a9dc4"/>
<rect x="311.0" y="97.2" width="3" height="3" fill="#4797c2"/>
<rect x="314.0" y="97.2" width="3" height="3" fill="#4493c0"/>
<rect x="317.0" y="97.2" width="3" height="3" fill="#4391c0"/>
<rect x="320.0" y="97.2" width="3" height="3" fill="#4391bf"/>
<rect x="323.0" y="97.2" width="3" height="3" fill="#4493c0"/>
<rect x="326.0" y="97.2" width="3" height="3" fill="#4797c2"/>
<rect x="329.0" y="97.2" width="3" height="3" fill="#4b9ec4"/>
<rect x="332.0" y="97.2" width="3" height="3" fill="#50a4c6"/>
<rect x="335.0" y="97.2" width="3" height="3" fill="#51a5c7"/>
<rect x="338.0" y="97.2" width="3" height="3" fill="#50a4c6"/>
<rect x="341.0" y="97.2" width="6" height="3" fill="#4fa3c6"/>
<rect x="347.0" y="97.2" width="6" height="3" fill="#50a4c6"/>
<rect x="353.0" y="97.2" width="3" height="3" fill="#51a5c7"/>
<rect x="356.0" y="97.2" width="3" height="3" fill="#57abc8"/>
<rect x="359.0" y="97.2" width="3" height="3" fill="#72c2c6"/>
<rect x="362.0" y="97.2" width="3" height="3" fill="#94d4bd"/>
<rect x="365.0" y="97.2" width="3" height="3" fill="#b7e4c0"/>
<rect x="368.0" y="97.2" width="3" height="3" fill="#d9f1d5"/>
<rect x="371.0" y="97.2" width="3" height="3" fill="#eaf7e8"/>
<rect x="374.0" y="97.2" width="3" height="3" fill="#f1faf1"/>
<rect x="377.0" y="97.2" width="3" height="3" fill="#f4fbf4"/>
<rect x="239.0" y="100.2" width="3" height="3" fill="#f4fcf4"/>
<rect x="242.0" y="100.2" width="3" height="3" fill="#f1faf1"/>
<rect x="245.0" y="100.2" width="3" height="3" fill="#eaf7e8"/>
<rect x="248.0" y="100.2" width="3" height="3" fill="#d9f1d5"/>
<rect x="251.0" y="100.2" width="3" height="3" fill="#b7e4c0"/>
<rect x="254.0" y="100.2" width="3" height="3" fill="#94d4bd"/>
<rect x="257.0" y="100.2" width="3" height="3" fill="#8cd1bf"/>
<rect x="260.0" y="100.2" width="3" height="3" fill="#74c4c6"/>
<rect x="263.0" y="100.2" width="3" height="3" fill="#6dbec7"/>
<rect x="266.0" y="100.2" width="3" height="3" fill="#6fc0c7"/>
<rect x="269.0" y="100.2" width="3" height="3" fill="#73c3c6"/>
<rect x="272.0" y="100.2" width="3" height="3" fill="#77c6c5"/>
<rect x="275.0" y="100.2" width="3" height="3" fill="#7ac8c4"/>
<rect x="278.0" y="100.2" width="3" height="3" fill="#7ac9c4"/>
<rect x="281.0" y="100.2" width="3" height="3" fill="#77c6c5"/>
<rect x="284.0" y="100.2" width="3" height="3" fill="#71c1c7"/>
<rect x="287.0" y="100.2" width="3" height="3" fill="#64b8ca"/>
<rect x="290.0" y="100.2" width="3" height="3" fill="#56aac8"/>
<rect x="293.0" y="100.2" width="3" height="3" fill="#4b9dc4"/>
<rect x="296.0" y="100.2" width="3" height="3" fill="#499ac3"/>
<rect x="299.0" y="100.2" width="3" height="3" fill="#4c9fc5"/>
<rect x="302.0" y="100.2" width="3" height="3" fill="#4fa3c6"/>
<rect x="305.0" y="100.2" width="3" height="3" fill="#4ea2c6"/>
<rect x="308.0" y="100.2" width="3" height="3" fill="#4b9dc4"/>
<rect x="311.0" y="100.2" width="3" height="3" fill="#4798c2"/>
<rect x="314.0" y="100.2" width="3" height="3" fill="#4594c1"/>
<rect x="317.0" y="100.2" width="3" height="3" fill="#4492c0"/>
<rect x="320.0" y="100.2" width="3" height="3" fill="#4391bf"/>
<rect x="323.0" y="100.2" width="3" height="3" fill="#4391c0"/>
<rect x="326.0" y="100.2" width="3" height="3" fill="#4695c1"/>
<rect x="329.0" y="100.2" width="3" height="3" fill="#4a9cc4"/>
<rect x="332.0" y="100.2" width="3" height="3" fill="#4ea2c6"/>
<rect x="335.0" y="100.2" width="12" height="3" fill="#51a5c7"/>
<rect x="347.0" y="100.2" width="9" height="3" fill="#52a6c7"/>
<rect x="356.0" y="100.2" width="3" height="3" fill="#58acc8"/>
<rect x="359.0" y="100.2" width="3" height="3" fill="#73c3c6"/>
<rect x="362.0" y="100.2" width="3" height="3" fill="#94d4bd"/>
<rect x="365.0" y="100.2" width="3" height="3" fill="#b7e4c0"/>
<rect x="368.0" y="100.2" width="3" height="3" fill="#d9f1d5"/>
<rect x="371.0" y="100.2" width="3" height="3" fill="#eaf7e8"/>
<rect x="374.0" y="100.2" width="3" height="3" fill="#f1faf1"/>
<rect x="377.0" y="100.2" width="3" height="3" fill="#f4fbf4"/>
<rect x="239.0" y="103.2" width="3" height="3" fill="#f4fcf4"/>
<rect x="242.0" y="103.2" width="3" height="3" fill="#f1faf1"/>
<rect x="245.0" y="103.2" width="3" height="3" fill="#eaf7e8"/>
<rect x="248.0" y="103.2" width="3" height="3" fill="#d9f1d5"/>
<rect x="251.0" y="103.2" width="3" height="3" fill="#b7e4c0"/>
<rect x="254.0" y="103.2" width="3" height="3" fill="#94d4bd"/>
<rect x="257.0" y="103.2" width="3" height="3" fill="#8fd2bf"/>
<rect x="260.0" y="103.2" width="3" height="3" fill="#79c7c5"/>
<rect x="263.0" y="103.2" width="3" height="3" fill="#71c1c7"/>
<rect x="266.0" y="103.2" width="3" height="3" fill="#71c2c6"/>
<rect x="269.0" y="103.2" width="3" height="3" fill="#75c5c6"/>
<rect x="272.0" y="103.2" width="3" height="3" fill="#7ac8c5"/>
<rect x="275.0" y="103.2" width="3" height="3" fill="#7ccac4"/>
<rect x="278.0" y="103.2" width="3" height="3" fill="#7ac9c4"/>
<rect x="281.0" y="103.2" width="3" height="3" fill="#77c6c5"/>
<rect x="284.0" y="103.2" width="3" height="3" fill="#71c2c6"/>
<rect x="287.0" y="103.2" width="3" height="3" fill="#67bac9"/>
<rect x="290.0" y="103.2" width="3" height="3" fill="#58acc8"/>
<rect x="293.0" y="103.2" width="3" height="3" fill="#4da0c5"/>
<rect x="296.0" y="103.2" width="3" height="3" fill="#4a9cc4"/>
<rect x="299.0" y="103.2" width="3" height="3" fill="#4ca0c5"/>
<rect x="302.0" y="103.2" width="3" height="3" fill="#4fa3c6"/>
<rect x="305.0" y="103.2" width="3" height="3" fill="#4ea2c6"/>
<rect x="308.0" y="103.2" width="3" height="3" fill="#4c9ec5"/>
<rect x="311.0" y="103.2" width="3" height="3" fill="#499ac3"/>
<rect x="314.0" y="103.2" width="3" height="3" fill="#4696c1"/>
<rect x="317.0" y="103.2" width="3" height="3" fill="#4493c0"/>
<rect x="320.0" y="103.2" width="3" height="3" fill="#4290bf"/>
<rect x="323.0" y="103.2" width="3" height="3" fill="#428fbf"/>
<rect x="326.0" y="103.2" width="3" height="3" fill="#4493c0"/>
<rect x="329.0" y="103.2" width="3" height="3" fill="#4899c3"/>
<rect x="332.0" y="103.2" width="3" height="3" fill="#4da0c5"/>
<rect x="335.0" y="103.2" width="3" height="3" fill="#50a4c6"/>
<rect x="338.0" y="103.2" width="3" height="3" fill="#52a6c7"/>
<rect x="341.0" y="103.2" width="9" height="3" fill="#53a7c7"/>
<rect x="350.0" y="103.2" width="3" height="3" fill="#52a6c7"/>
<rect x="353.0" y="103.2" width="3" height="3" fill="#51a5c7"/>
<rect x="356.0" y="103.2" width="3" height="3" fill="#57abc8"/>
<rect x="359.0" y="103.2" width="3" height="3" fill="#74c4c6"/>
<rect x="362.0" y="103.2" width="3" height="3" fill="#94d4bd"/>
<rect x="365.0" y="103.2" width="3" height="3" fill="#b7e4c0"/>
<rect x="368.0" y="103.2" width="3" height="3" fill="#d9f1d5"/>
<rect x="371.0" y="103.2" width="3" height="3" fill="#eaf7e8"/>
<rect x="374.0" y="103.2" width="3" height="3" fill="#f1faf1"/>
<rect x="377.0" y="103.2" width="3" height="3" fill="#f4fbf4"/>
<rect x="239.0" y="106.2" width="3" height="3" fill="#f4fcf4"/>
<rect x="242.0" y="106.2" width="3" height="3" fill="#f1faf1"/>
<rect x="245.0" y="106.2" width="3" height="3" fill="#eaf7e8"/>
<rect x="248.0" y="106.2" width="3" height="3" fill="#d9f1d5"/>
<rect x="251.0" y="106.2" width="3" height="3" fill="#b7e4c1"/>
<rect x="254.0" y="106.2" width="3" height="3" fill="#94d4bd"/>
<rect x="257.0" y="106.2" width="3" height="3" fill="#8fd2bf"/>
<rect x="260.0" y="106.2" width="3" height="3" fill="#7bc9c4"/>
<rect x="263.0" y="106.2" width="3" height="3" fill="#74c4c6"/>
<rect x="266.0" y="106.2" width="3" height="3" fill="#75c4c6"/>
<rect x="269.0" y="106.2" width="3" height="3" fill="#78c7c5"/>
<rect x="272.0" y="106.2" width="3" height="3" fill="#7ccac4"/>
<rect x="275.0" y="106.2" width="3" height="3" fill="#7dcac4"/>
<rect x="278.0" y="106.2" width="3" height="3" fill="#7ac9c4"/>
<rect x="281.0" y="106.2" width="3" height="3" fill="#77c6c5"/>
<rect x="284.0" y="106.2" width="3" height="3" fill="#72c2c6"/>
<rect x="287.0" y="106.2" width="3" height="3" fill="#69bbc8"/>
<rect x="290.0" y="106.2" width="3" height="3" fill="#5aaec8"/>
<rect x="293.0" y="106.2" width="3" height="3" fill="#4ea2c6"/>
<rect x="296.0" y="106.2" width="3" height="3" fill="#4b9dc4"/>
<rect x="299.0" y="106.2" width="3" height="3" fill="#4ca0c5"/>
<rect x="302.0" y="106.2" width="3" height="3" fill="#4ea2c6"/>
<rect x="305.0" y="106.2" width="3" height="3" fill="#4fa3c6"/>
<rect x="308.0" y="106.2" width="3" height="3" fill="#4da1c6"/>
<rect x="311.0" y="106.2" width="3" height="3" fill="#4b9ec4"/>
<rect x="314.0" y="106.2" width="3" height="3" fill="#499ac3"/>
<rect x="317.0" y="106.2" width="3" height="3" fill="#4695c1"/>
<rect x="320.0" y="106.2" width="3" height="3" fill="#4391bf"/>
<rect x="323.0" y="106.2" width="3" height="3" fill="#428fbf"/>
<rect x="326.0" y="106.2" width="3" height="3" fill="#4392c0"/>
<rect x="329.0" y="106.2" width="3" height="3" fill="#4899c2"/>
<rect x="332.0" y="106.2" width="3" height="3" fill="#4da0c5"/>
<rect x="335.0" y="106.2" width="3" height="3" fill="#51a5c7"/>
<rect x="338.0" y="106.2" width="3" height="3" fill="#55a9c7"/>
<rect x="341.0" y="106.2" width="6" height="3" fill="#56aac8"/>
<rect x="347.0" y="106.2" width="3" height="3" fill="#54a8c7"/>
<rect x="350.0" y="106.2" width="3" height="3" fill="#52a6c7"/>
<rect x="353.0" y="106.2" width="3" height="3" fill="#51a5c7"/>
<rect x="356.0" y="106.2" width="3" height="3" fill="#57abc8"/>
<rect x="359.0" y="106.2" width="3" height="3" fill="#74c4c6"/>
<rect x="362.0" y="106.2" width="3" height="3" fill="#94d4bd"/>
<rect x="365.0" y="106.2" width="3" height="3" fill="#b7e4c1"/>
<rect x="368.0" y="106.2" width="3" height="3" fill="#d9f1d5"/>
<rect x="371.0" y="106.2" width="3" height="3" fill="#eaf7e8"/>
<rect x="374.0" y="106.2" width="3" height="3" fill="#f1faf1"/>
<rect x="377.0" y="106.2" width="3" height="3" fill="#f4fbf4"/>
<rect x="239.0" y="109.2" width="3" height="3" fill="#f4fcf4"/>
<rect x="242.0" y="109.2" width="3" height="3" fill="#f1faf1"/>
<rect x="245.0" y="109.2" width="3" height="3" fill="#eaf7e8"/>
<rect x="248.0" y="109.2" width="3" height="3" fill="#d9f1d5"/>
<rect x="251.0" y="109.2" width="3" height="3" fill="#b8e4c1"/>
<rect x="254.0" y="109.2" width="3" height="3" fill="#94d4bd"/>
<rect x="257.0" y="109.2" width="3" height="3" fill="#8ed2bf"/>
<rect x="260.0" y="109.2" width="3" height="3" fill="#7bc9c4"/>
<rect x="263.0" y="109.2" width="3" height="3" fill="#76c6c5"/>
<rect x="266.0" y="109.2" width="3" height="3" fill="#78c7c5"/>
<rect x="269.0" y="109.2" width="3" height="3" fill="#7bc9c4"/>
<rect x="272.0" y="109.2" width="3" height="3" fill="#7ecbc4"/>
<rect x="275.0" y="109.2" width="3" height="3" fill="#7dcbc4"/>
<rect x="278.0" y="109.2" width="3" height="3" fill="#7ac8c4"/>
<rect x="281.0" y="109.2" width="3" height="3" fill="#76c6c5"/>
<rect x="284.0" y="109.2" width="3" height="3" fill="#72c3c6"/>
<rect x="287.0" y="109.2" width="3" height="3" fill="#69bbc8"/>
<rect x="290.0" y="109.2" width="3" height="3" fill="#5aaec8"/>
<rect x="293.0" y="109.2" width="3" height="3" fill="#4da0c5"/>
<rect x="296.0" y="109.2" width="3" height="3" fill="#4a9bc3"/>
<rect x="299.0" y="109.2" width="3" height="3" fill="#4b9ec4"/>
<rect x="302.0" y="109.2" width="3" height="3" fill="#4da1c5"/>
<rect x="305.0" y="109.2" width="6" height="3" fill="#4ea2c6"/>
<rect x="311.0" y="109.2" width="3" height="3" fill="#4da0c5"/>
<rect x="314.0" y="109.2" width="3" height="3" fill="#4b9dc4"/>
<rect x="317.0" y="109.2" width="3" height="3" fill="#4898c2"/>
<rect x="320.0" y="109.2" width="3" height="3" fill="#4493c0"/>
<rect x="323.0" y="109.2" width="3" height="3" fill="#4290bf"/>
<rect x="326.0" y="109.2" width="3" height="3" fill="#4392c0"/>
<rect x="329.0" y="109.2" width="3" height="3" fill="#4899c3"/>
<rect x="332.0" y="109.2" width="3" height="3" fill="#4ea2c6"/>
<rect x="335.0" y="109.2" width="3" height="3" fill="#53a7c7"/>
<rect x="338.0" y="109.2" width="3" height="3" fill="#57abc8"/>
<rect x="341.0" y="109.2" width="6" height="3" fill="#58acc8"/>
<rect x="347.0" y="109.2" width="3" height="3" fill="#56aac8"/>
<rect x="350.0" y="109.2" width="3" height="3" fill="#53a7c7"/>
<rect x="353.0" y="109.2" width="3" height="3" fill="#52a6c7"/>
<rect x="356.0" y="109.2" width="3" height="3" fill="#58acc8"/>
<rect x="359.0" y="109.2" width="3" height="3" fill="#75c5c6"/>
<rect x="362.0" y="109.2" width="3" height="3" fill="#94d4bd"/>
<rect x="365.0" y="109.2" width="3" height="3" fill="#b8e4c1"/>
<rect x="368.0" y="109.2" width="3" height="3" fill="#d9f1d5"/>
<rect x="371.0" y="109.2" width="3" height="3" fill="#eaf7e8"/>
<rect x="374.0" y="109.2" width="3" height="3" fill="#f1faf1"/>
<rect x="377.0" y="109.2" width="3" height="3" fill="#f4fcf4"/>
<rect x="239.0" y="112.2" width="3" height="3" fill="#f4fcf4"/>
<rect x="242.0" y="112.2" width="3" height="3" fill="#f1faf1"/>
<rect x="245.0" y="112.2" width="3" height="3" fill="#eaf7e8"/>
<rect x="248.0" y="112.2" width="3" height="3" fill="#daf1d6"/>
<rect x="251.0" y="112.2" width="3" height="3" fill="#b9e4c1"/>
<rect x="254.0" y="112.2" width="3" height="3" fill="#94d4bd"/>
<rect x="257.0" y="112.2" width="3" height="3" fill="#8dd1bf"/>
<rect x="260.0" y="112.2" width="3" height="3" fill="#7ac8c5"/>
<rect x="263.0" y="112.2" width="3" height="3" fill="#77c6c5"/>
<rect x="266.0" y="112.2" width="3" height="3" fill="#79c8c5"/>
<rect x="269.0" y="112.2" width="3" height="3" fill="#7ccac4"/>
<rect x="272.0" y="112.2" width="3" height="3" fill="#7dcac4"/>
<rect x="275.0" y="112.2" width="3" height="3" fill="#7ccac4"/>
<rect x="278.0" y="112.2" width="3" height="3" fill="#79c8c5"/>
<rect x="281.0" y="112.2" width="3" height="3" fill="#76c5c5"/>
<rect x="284.0" y="112.2" width="3" height="3" fill="#72c2c6"/>
<rect x="287.0" y="112.2" width="3" height="3" fill="#67bac9"/>
<rect x="290.0" y="112.2" width="3" height="3" fill="#56aac8"/>
<rect x="293.0" y="112.2" width="3" height="3" fill="#4a9cc4"/>
<rect x="296.0" y="112.2" width="3" height="3" fill="#4696c1"/>
<rect x="299.0" y="112.2" width="3" height="3" fill="#4798c2"/>
<rect x="302.0" y="112.2" width="3" height="3" fill="#4a9cc3"/>
<rect x="305.0" y="112.2" width="3" height="3" fill="#4c9fc5"/>
<rect x="308.0" y="112.2" width="6" height="3" fill="#4da0c5"/>
<rect x="314.0" y="112.2" width="3" height="3" fill="#4b9ec4"/>
<rect x="317.0" y="112.2" width="3" height="3" fill="#4899c3"/>
<rect x="320.0" y="112.2" width="3" height="3" fill="#4594c0"/>
<rect x="323.0" y="112.2" width="3" height="3" fill="#428fbf"/>
<rect x="326.0" y="112.2" width="3" height="3" fill="#4391bf"/>
<rect x="329.0" y="112.2" width="3" height="3" fill="#4899c2"/>
<rect x="332.0" y="112.2" width="3" height="3" fill="#4ea1c6"/>
<rect x="335.0" y="112.2" width="3" height="3" fill="#53a7c7"/>
<rect x="338.0" y="112.2" width="3" height="3" fill="#56aac8"/>
<rect x="341.0" y="112.2" width="3" height="3" fill="#58acc8"/>
<rect x="344.0" y="112.2" width="3" height="3" fill="#59adc8"/>
<rect x="347.0" y="112.2" width="3" height="3" fill="#58acc8"/>
<rect x="350.0" y="112.2" width="3" height="3" fill="#55a9c7"/>
<rect x="353.0" y="112.2" width="3" height="3" fill="#54a8c7"/>
<rect x="356.0" y="112.2" width="3" height="3" fill="#59adc8"/>
<rect x="359.0" y="112.2" width="3" height="3" fill="#77c6c5"/>
<rect x="362.0" y="112.2" width="3" height="3" fill="#94d4bd"/>
<rect x="365.0" y="112.2" width="3" height="3" fill="#b9e4c1"/>
<rect x="368.0" y="112.2" width="3" height="3" fill="#daf1d6"/>
<rect x="371.0" y="112.2" width="3" height="3" fill="#eaf7e8"/>
<rect x="374.0" y="112.2" width="3" height="3" fill="#f1faf1"/>
<rect x="377.0" y="112.2" width="3" height="3" fill="#f4fcf4"/>
<rect x="239.0" y="115.2" width="3" height="3" fill="#f4fcf4"/>
<rect x="242.0" y="115.2" width="3" height="3" fill="#f2fbf1"/>
<rect x="245.0" y="115.2" width="3" height="3" fill="#ebf8e9"/>
<rect x="248.0" y="115.2" width="3" height="3" fill="#dbf1d7"/>
<rect x="251.0" y="115.2" width="3" height="3" fill="#bbe5c2"/>
<rect x="254.0" y="115.2" width="3" height="3" fill="#96d5bd"/>
<rect x="257.0" y="115.2" width="3" height="3" fill="#8cd1bf"/>
<rect x="260.0" y="115.2" width="3" height="3" fill="#79c8c5"/>
<rect x="263.0" y="115.2" width="3" height="3" fill="#77c6c5"/>
<rect x="266.0" y="115.2" width="3" height="3" fill="#7ac8c4"/>
<rect x="269.0" y="115.2" width="3" height="3" fill="#7bc9c4"/>
<rect x="272.0" y="115.2" width="3" height="3" fill="#7bcac4"/>
<rect x="275.0" y="115.2" width="3" height="3" fill="#7bc9c4"/>
<rect x="278.0" y="115.2" width="3" height="3" fill="#79c8c5"/>
<rect x="281.0" y="115.2" width="3" height="3" fill="#77c6c5"/>
<rect x="284.0" y="115.2" width="3" height="3" fill="#71c2c7"/>
<rect x="287.0" y="115.2" width="3" height="3" fill="#63b7ca"/>
<rect x="290.0" y="115.2" width="3" height="3" fill="#53a7c7"/>
<rect x="293.0" y="115.2" width="3" height="3" fill="#4696c1"/>
<rect x="296.0" y="115.2" width="3" height="3" fill="#4290bf"/>
<rect x="299.0" y="115.2" width="3" height="3" fill="#4492c0"/>
<rect x="302.0" y="115.2" width="3" height="3" fill="#4696c1"/>
<rect x="305.0" y="115.2" width="3" height="3" fill="#499bc3"/>
<rect x="308.0" y="115.2" width="3" height="3" fill="#4b9ec4"/>
<rect x="311.0" y="115.2" width="3" height="3" fill="#4c9ec5"/>
<rect x="314.0" y="115.2" width="3" height="3" fill="#4a9cc4"/>
<rect x="317.0" y="115.2" width="3" height="3" fill="#4797c2"/>
<rect x="320.0" y="115.2" width="3" height="3" fill="#4391bf"/>
<rect x="323.0" y="115.2" width="3" height="3" fill="#408dbe"/>
<rect x="326.0" y="115.2" width="3" height="3" fill="#428fbf"/>
<rect x="329.0" y="115.2" width="3" height="3" fill="#4797c2"/>
<rect x="332.0" y="115.2" width="3" height="3" fill="#4da0c5"/>
<rect x="335.0" y="115.2" width="3" height="3" fill="#51a5c7"/>
<rect x="338.0" y="115.2" width="3" height="3" fill="#54a8c7"/>
<rect x="341.0" y="115.2" width="3" height="3" fill="#56aac8"/>
<rect x="344.0" y="115.2" width="6" height="3" fill="#57abc8"/>
<rect x="350.0" y="115.2" width="3" height="3" fill="#55a9c7"/>
<rect x="353.0" y="115.2" width="3" height="3" fill="#54a8c7"/>
<rect x="356.0" y="115.2" width="3" height="3" fill="#5aaec8"/>
<rect x="359.0" y="115.2" width="3" height="3" fill="#78c7c5"/>
<rect x="362.0" y="115.2" width="3" height="3" fill="#96d5bd"/>
<rect x="365.0" y="115.2" width="3" height="3" fill="#bbe5c2"/>
<rect x="368.0" y="115.2" width="3" height="3" fill="#dbf1d7"/>
<rect x="371.0" y="115.2" width="3" height="3" fill="#ebf8e9"/>
<rect x="374.0" y="115.2" width="3" height="3" fill="#f2fbf1"/>
<rect x="377.0" y="115.2" width="3" height="3" fill="#f4fcf4"/>
<rect x="239.0" y="118.2" width="3" height="3" fill="#f4fcf4"/>
<rect x="242.0" y="118.2" width="3" height="3" fill="#f2fbf1"/>
<rect x="245.0" y="118.2" width="3" height="3" fill="#ecf8ea"/>
<rect x="248.0" y="118.2" width="3" height="3" fill="#ddf2da"/>
<rect x="251.0" y="118.2" width="3" height="3" fill="#c0e7c3"/>
<rect x="254.0" y="118.2" width="3" height="3" fill="#98d6bc"/>
<rect x="257.0" y="118.2" width="3" height="3" fill="#8ed2bf"/>
<rect x="260.0" y="118.2" width="3" height="3" fill="#7ac8c4"/>
<rect x="263.0" y="118.2" width="3" height="3" fill="#78c7c5"/>
<rect x="266.0" y="118.2" width="3" height="3" fill="#7ac9c4"/>
<rect x="269.0" y="118.2" width="12" height="3" fill="#7bc9c4"/>
<rect x="281.0" y="118.2" width="3" height="3" fill="#78c7c5"/>
<rect x="284.0" y="118.2" width="3" height="3" fill="#70c1c7"/>
<rect x="287.0" y="118.2" width="3" height="3" fill="#61b5ca"/>
<rect x="290.0" y="118.2" width="3" height="3" fill="#50a4c6"/>
<rect x="293.0" y="118.2" width="3" height="3" fill="#4594c0"/>
<rect x="296.0" y="118.2" width="3" height="3" fill="#418fbe"/>
<rect x="299.0" y="118.2" width="3" height="3" fill="#4391bf"/>
<rect x="302.0" y="118.2" width="3" height="3" fill="#4595c1"/>
<rect x="305.0" y="118.2" width="3" height="3" fill="#499ac3"/>
<rect x="308.0" y="118.2" width="3" height="3" fill="#4b9ec4"/>
<rect x="311.0" y="118.2" width="3" height="3" fill="#4b9dc4"/>
<rect x="314.0" y="118.2" width="3" height="3" fill="#499ac3"/>
<rect x="317.0" y="118.2" width="3" height="3" fill="#4594c1"/>
<rect x="320.0" y="118.2" width="3" height="3" fill="#418ebe"/>
<rect x="323.0" y="118.2" width="3" height="3" fill="#3f8bbd"/>
<rect x="326.0" y="118.2" width="3" height="3" fill="#428fbf"/>
<rect x="329.0" y="118.2" width="3" height="3" fill="#4797c2"/>
<rect x="332.0" y="118.2" width="3" height="3" fill="#4c9fc5"/>
<rect x="335.0" y="118.2" width="3" height="3" fill="#50a4c6"/>
<rect x="338.0" y="118.2" width="3" height="3" fill="#51a5c7"/>
<rect x="341.0" y="118.2" width="9" height="3" fill="#52a6c7"/>
<rect x="350.0" y="118.2" width="6" height="3" fill="#51a5c7"/>
<rect x="356.0" y="118.2" width="3" height="3" fill="#59adc8"/>
<rect x="359.0" y="118.2" width="3" height="3" fill="#79c8c5"/>
<rect x="362.0" y="118.2" width="3" height="3" fill="#98d6bc"/>
<rect x="365.0" y="118.2" width="3" height="3" fill="#c0e7c3"/>
<rect x="368.0" y="118.2" width="3" height="3" fill="#ddf2da"/>
<rect x="371.0" y="118.2" width="3" height="3" fill="#ecf8ea"/>
<rect x="374.0" y="118.2" width="3" height="3" fill="#f2fbf1"/>
<rect x="377.0" y="118.2" width="3" height="3" fill="#f4fcf4"/>
<rect x="239.0" y="121.2" width="3" height="3" fill="#f4fcf4"/>
<rect x="242.0" y="121.2" width="3" height="3" fill="#f2fbf2"/>
<rect x="245.0" y="121.2" width="3" height="3" fill="#edf9ec"/>
<rect x="248.0" y="121.2" width="3" height="3" fill="#e1f4de"/>
<rect x="251.0" y="121.2" width="3" height="3" fill="#c8eac6"/>
<rect x="254.0" y="121.2" width="3" height="3" fill="#a0dabd"/>
<rect x="257.0" y="121.2" width="3" height="3" fill="#91d3be"/>
<rect x="260.0" y="121.2" width="3" height="3" fill="#7ecbc3"/>
<rect x="263.0" y="121.2" width="3" height="3" fill="#79c7c5"/>
<rect x="266.0" y="121.2" width="9" height="3" fill="#7ac9c4"/>
<rect x="275.0" y="121.2" width="6" height="3" fill="#7ccac4"/>
<rect x="281.0" y="121.2" width="3" height="3" fill="#79c8c5"/>
<rect x="284.0" y="121.2" width="3" height="3" fill="#70c1c7"/>
<rect x="287.0" y="121.2" width="3" height="3" fill="#60b4ca"/>
<rect x="290.0" y="121.2" width="3" height="3" fill="#4fa3c6"/>
<rect x="293.0" y="121.2" width="3" height="3" fill="#4594c1"/>
<rect x="296.0" y="121.2" width="3" height="3" fill="#4390bf"/>
<rect x="299.0" y="121.2" width="3" height="3" fill="#4493c0"/>
<rect x="302.0" y="121.2" width="3" height="3" fill="#4797c2"/>
<rect x="305.0" y="121.2" width="3" height="3" fill="#4a9bc3"/>
<rect x="308.0" y="121.2" width="3" height="3" fill="#4c9ec5"/>
<rect x="311.0" y="121.2" width="3" height="3" fill="#4b9dc4"/>
<rect x="314.0" y="121.2" width="3" height="3" fill="#4898c2"/>
<rect x="317.0" y="121.2" width="3" height="3" fill="#4492c0"/>
<rect x="320.0" y="121.2" width="3" height="3" fill="#408cbe"/>
<rect x="323.0" y="121.2" width="3" height="3" fill="#3f8bbd"/>
<rect x="326.0" y="121.2" width="3" height="3" fill="#4391bf"/>
<rect x="329.0" y="121.2" width="3" height="3" fill="#4899c3"/>
<rect x="332.0" y="121.2" width="3" height="3" fill="#4ca0c5"/>
<rect x="335.0" y="121.2" width="3" height="3" fill="#4ea2c6"/>
<rect x="338.0" y="121.2" width="3" height="3" fill="#4fa3c6"/>
<rect x="341.0" y="121.2" width="3" height="3" fill="#4ea2c6"/>
<rect x="344.0" y="121.2" width="3" height="3" fill="#4ea1c6"/>
<rect x="347.0" y="121.2" width="3" height="3" fill="#4ca0c5"/>
<rect x="350.0" y="121.2" width="3" height="3" fill="#4c9ec5"/>
<rect x="353.0" y="121.2" width="3" height="3" fill="#4da1c5"/>
<rect x="356.0" y="121.2" width="3" height="3" fill="#59adc8"/>
<rect x="359.0" y="121.2" width="3" height="3" fill="#7ecbc3"/>
<rect x="362.0" y="121.2" width="3" height="3" fill="#a0dabd"/>
<rect x="365.0" y="121.2" width="3" height="3" fill="#c8eac6"/>
<rect x="368.0" y="121.2" width="3" height="3" fill="#e1f4de"/>
<rect x="371.0" y="121.2" width="3" height="3" fill="#edf9ec"/>
<rect x="374.0" y="121.2" width="3" height="3" fill="#f2fbf2"/>
<rect x="377.0" y="121.2" width="3" height="3" fill="#f4fcf4"/>
<rect x="239.0" y="124.2" width="3" height="3" fill="#f4fcf4"/>
<rect x="242.0" y="124.2" width="3" height="3" fill="#f3fbf3"/>
<rect x="245.0" y="124.2" width="3" height="3" fill="#eff9ee"/>
<rect x="248.0" y="124.2" width="3" height="3" fill="#e5f5e3"/>
<rect x="251.0" y="124.2" width="3" height="3" fill="#d3eece"/>
<rect x="254.0" y="124.2" width="3" height="3" fill="#b2e1bf"/>
<rect x="257.0" y="124.2" width="3" height="3" fill="#94d4bd"/>
<rect x="260.0" y="124.2" width="3" height="3" fill="#8cd1bf"/>
<rect x="263.0" y="124.2" width="3" height="3" fill="#81ccc3"/>
<rect x="266.0" y="124.2" width="6" height="3" fill="#7fcbc3"/>
<rect x="272.0" y="124.2" width="3" height="3" fill="#80ccc3"/>
<rect x="275.0" y="124.2" width="3" height="3" fill="#82ccc2"/>
<rect x="278.0" y="124.2" width="3" height="3" fill="#82cdc2"/>
<rect x="281.0" y="124.2" width="3" height="3" fill="#7fcbc3"/>
<rect x="284.0" y="124.2" width="3" height="3" fill="#76c5c5"/>
<rect x="287.0" y="124.2" width="3" height="3" fill="#64b8ca"/>
<rect x="290.0" y="124.2" width="3" height="3" fill="#52a6c7"/>
<rect x="293.0" y="124.2" width="3" height="3" fill="#4899c2"/>
<rect x="296.0" y="124.2" width="3" height="3" fill="#4797c2"/>
<rect x="299.0" y="124.2" width="3" height="3" fill="#499ac3"/>
<rect x="302.0" y="124.2" width="3" height="3" fill="#4b9ec4"/>
<rect x="305.0" y="124.2" width="3" height="3" fill="#4da1c6"/>
<rect x="308.0" y="124.2" width="3" height="3" fill="#4fa3c6"/>
<rect x="311.0" y="124.2" width="3" height="3" fill="#4da1c6"/>
<rect x="314.0" y="124.2" width="3" height="3" fill="#4a9cc4"/>
<rect x="317.0" y="124.2" width="3" height="3" fill="#4696c1"/>
<rect x="320.0" y="124.2" width="3" height="3" fill="#4392c0"/>
<rect x="323.0" y="124.2" width="3" height="3" fill="#4391c0"/>
<rect x="326.0" y="124.2" width="3" height="3" fill="#4797c2"/>
<rect x="329.0" y="124.2" width="3" height="3" fill="#4c9fc5"/>
<rect x="332.0" y="124.2" width="3" height="3" fill="#50a4c6"/>
<rect x="335.0" y="124.2" width="6" height="3" fill="#51a5c7"/>
<rect x="341.0" y="124.2" width="3" height="3" fill="#50a4c6"/>
<rect x="344.0" y="124.2" width="3" height="3" fill="#4ea2c6"/>
<rect x="347.0" y="124.2" width="6" height="3" fill="#4c9fc5"/>
<rect x="353.0" y="124.2" width="3" height="3" fill="#50a4c6"/>
<rect x="356.0" y="124.2" width="3" height="3" fill="#62b6ca"/>
<rect x="359.0" y="124.2" width="3" height="3" fill="#8cd1bf"/>
<rect x="362.0" y="124.2" width="3" height="3" fill="#b2e1bf"/>
<rect x="365.0" y="124.2" width="3" height="3" fill="#d3eece"/>
<rect x="368.0" y="124.2" width="3" height="3" fill="#e5f5e3"/>
<rect x="371.0" y="124.2" width="3" height="3" fill="#eff9ee"/>
<rect x="374.0" y="124.2" width="3" height="3" fill="#f3fbf3"/>
<rect x="377.0" y="124.2" width="3" height="3" fill="#f4fcf4"/>
<rect x="242.0" y="127.2" width="3" height="3" fill="#f4fbf4"/>
<rect x="245.0" y="127.2" width="3" height="3" fill="#f1faf0"/>
<rect x="248.0" y="127.2" width="3" height="3" fill="#eaf7e8"/>
<rect x="251.0" y="127.2" width="3" height="3" fill="#ddf2da"/>
<rect x="254.0" y="127.2" width="3" height="3" fill="#c7eac6"/>
<rect x="257.0" y="127.2" width="3" height="3" fill="#a8ddbe"/>
<rect x="260.0" y="127.2" width="3" height="3" fill="#94d4bd"/>
<rect x="263.0" y="127.2" width="3" height="3" fill="#92d3be"/>
<rect x="266.0" y="127.2" width="9" height="3" fill="#90d3be"/>
<rect x="275.0" y="127.2" width="6" height="3" fill="#91d3be"/>
<rect x="281.0" y="127.2" width="3" height="3" fill="#90d3be"/>
<rect x="284.0" y="127.2" width="3" height="3" fill="#8bd0c0"/>
<rect x="287.0" y="127.2" width="3" height="3" fill="#79c8c5"/>
<rect x="290.0" y="127.2" width="3" height="3" fill="#61b5ca"/>
<rect x="293.0" y="127.2" width="3" height="3" fill="#55a9c7"/>
<rect x="296.0" y="127.2" width="3" height="3" fill="#54a8c7"/>
<rect x="299.0" y="127.2" width="3" height="3" fill="#57abc8"/>
<rect x="302.0" y="127.2" width="3" height="3" fill="#5bafc9"/>
<rect x="305.0" y="127.2" width="3" height="3" fill="#5db1c9"/>
<rect x="308.0" y="127.2" width="3" height="3" fill="#5eb2c9"/>
<rect x="311.0" y="127.2" width="3" height="3" fill="#5db1c9"/>
<rect x="314.0" y="127.2" width="3" height="3" fill="#5aaec8"/>
<rect x="317.0" y="127.2" width="3" height="3" fill="#56aac8"/>
<rect x="320.0" y="127.2" width="3" height="3" fill="#52a6c7"/>
<rect x="323.0" y="127.2" width="3" height="3" fill="#51a5c7"/>
<rect x="326.0" y="127.2" width="3" height="3" fill="#55a9c7"/>
<rect x="329.0" y="127.2" width="3" height="3" fill="#5aaec8"/>
<rect x="332.0" y="127.2" width="3" height="3" fill="#5fb3c9"/>
<rect x="335.0" y="127.2" width="6" height="3" fill="#60b4ca"/>
<rect x="341.0" y="127.2" width="3" height="3" fill="#5fb3c9"/>
<rect x="344.0" y="127.2" width="3" height="3" fill="#5cb0c9"/>
<rect x="347.0" y="127.2" width="6" height="3" fill="#59adc8"/>
<rect x="353.0" y="127.2" width="3" height="3" fill="#61b5ca"/>
<rect x="356.0" y="127.2" width="3" height="3" fill="#7bc9c4"/>
<rect x="359.0" y="127.2" width="3" height="3" fill="#a5dcbd"/>
<rect x="362.0" y="127.2" width="3" height="3" fill="#c7eac6"/>
<rect x="365.0" y="127.2" width="3" height="3" fill="#ddf2da"/>
<rect x="368.0" y="127.2" width="3" height="3" fill="#eaf7e8"/>
<rect x="371.0" y="127.2" width="3" height="3" fill="#f1faf0"/>
<rect x="374.0" y="127.2" width="3" height="3" fill="#f4fbf3"/>
<rect x="242.0" y="130.2" width="3" height="3" fill="#f4fcf4"/>
<rect x="245.0" y="130.2" width="3" height="3" fill="#f3fbf2"/>
<rect x="248.0" y="130.2" width="3" height="3" fill="#eff9ee"/>
<rect x="251.0" y="130.2" width="3" height="3" fill="#e7f6e4"/>
<rect x="254.0" y="130.2" width="3" height="3" fill="#daf1d6"/>
<rect x="257.0" y="130.2" width="3" height="3" fill="#c7eac6"/>
<rect x="260.0" y="130.2" width="3" height="3" fill="#b2e1bf"/>
<rect x="263.0" y="130.2" width="3" height="3" fill="#a0dabd"/>
<rect x="266.0" y="130.2" width="3" height="3" fill="#98d6bc"/>
<rect x="269.0" y="130.2" width="3" height="3" fill="#96d5bd"/>
<rect x="272.0" y="130.2" width="15" height="3" fill="#94d4bd"/>
<rect x="287.0" y="130.2" width="3" height="3" fill="#95d5bd"/>
<rect x="290.0" y="130.2" width="3" height="3" fill="#84cdc2"/>
<rect x="293.0" y="130.2" width="3" height="3" fill="#74c4c6"/>
<rect x="296.0" y="130.2" width="3" height="3" fill="#73c3c6"/>
<rect x="299.0" y="130.2" width="3" height="3" fill="#78c7c5"/>
<rect x="302.0" y="130.2" width="3" height="3" fill="#7dcac4"/>
<rect x="305.0" y="130.2" width="3" height="3" fill="#7fcbc3"/>
<rect x="308.0" y="130.2" width="6" height="3" fill="#80ccc3"/>
<rect x="314.0" y="130.2" width="3" height="3" fill="#7ecbc3"/>
<rect x="317.0" y="130.2" width="3" height="3" fill="#7ac8c4"/>
<rect x="320.0" y="130.2" width="3" height="3" fill="#74c4c6"/>
<rect x="323.0" y="130.2" width="3" height="3" fill="#71c1c7"/>
<rect x="326.0" y="130.2" width="3" height="3" fill="#74c3c6"/>
<rect x="329.0" y="130.2" width="3" height="3" fill="#7bc9c4"/>
<rect x="332.0" y="130.2" width="3" height="3" fill="#81ccc3"/>
<rect x="335.0" y="130.2" width="3" height="3" fill="#84cdc2"/>
<rect x="338.0" y="130.2" width="3" height="3" fill="#83cdc2"/>
<rect x="341.0" y="130.2" width="3" height="3" fill="#80ccc3"/>
<rect x="344.0" y="130.2" width="3" height="3" fill="#7ac9c4"/>
<rect x="347.0" y="130.2" width="6" height="3" fill="#76c6c5"/>
<rect x="353.0" y="130.2" width="3" height="3" fill="#7ecbc3"/>
<rect x="356.0" y="130.2" width="3" height="3" fill="#93d4bd"/>
<rect x="359.0" y="130.2" width="3" height="3" fill="#b1e1bf"/>
<rect x="362.0" y="130.2" width="3" height="3" fill="#d0edcc"/>
<rect x="365.0" y="130.2" width="3" height="3" fill="#e4f5e2"/>
<rect x="368.0" y="130.2" width="3" height="3" fill="#edf9ec"/>
<rect x="371.0" y="130.2" width="3" height="3" fill="#f2fbf1"/>
<rect x="374.0" y="130.2" width="3" height="3" fill="#f4fbf4"/>
<rect x="377.0" y="130.2" width="3" height="3" fill="#f5fcf4"/>
<rect x="245.0" y="133.2" width="3" height="3" fill="#f4fbf4"/>
<rect x="248.0" y="133.2" width="3" height="3" fill="#f2fbf1"/>
<rect x="251.0" y="133.2" width="3" height="3" fill="#eef9ec"/>
<rect x="254.0" y="133.2" width="3" height="3" fill="#e7f6e4"/>
<rect x="257.0" y="133.2" width="3" height="3" fill="#ddf2da"/>
<rect x="260.0" y="133.2" width="3" height="3" fill="#d3eece"/>
<rect x="263.0" y="133.2" width="3" height="3" fill="#c8eac6"/>
<rect x="266.0" y="133.2" width="3" height="3" fill="#c0e7c3"/>
<rect x="269.0" y="133.2" width="3" height="3" fill="#bbe5c2"/>
<rect x="272.0" y="133.2" width="3" height="3" fill="#b9e4c1"/>
<rect x="275.0" y="133.2" width="3" height="3" fill="#b8e4c1"/>
<rect x="278.0" y="133.2" width="3" height="3" fill="#b7e4c1"/>
<rect x="281.0" y="133.2" width="9" height="3" fill="#b7e4c0"/>
<rect x="290.0" y="133.2" width="3" height="3" fill="#a3dbbd"/>
<rect x="293.0" y="133.2" width="3" height="3" fill="#93d4be"/>
<rect x="296.0" y="133.2" width="3" height="3" fill="#93d4bd"/>
<rect x="299.0" y="133.2" width="3" height="3" fill="#9bd7bc"/>
<rect x="302.0" y="133.2" width="3" height="3" fill="#9fd9bd"/>
<rect x="305.0" y="133.2" width="3" height="3" fill="#a1dabd"/>
<rect x="308.0" y="133.2" width="3" height="3" fill="#a2dabd"/>
<rect x="311.0" y="133.2" width="3" height="3" fill="#a3dbbd"/>
<rect x="314.0" y="133.2" width="3" height="3" fill="#a2dbbd"/>
<rect x="317.0" y="133.2" width="3" height="3" fill="#9ed9bd"/>
<rect x="320.0" y="133.2" width="3" height="3" fill="#97d5bc"/>
<rect x="323.0" y="133.2" width="3" height="3" fill="#91d3be"/>
<rect x="326.0" y="133.2" width="3" height="3" fill="#93d4be"/>
<rect x="329.0" y="133.2" width="3" height="3" fill="#9bd7bc"/>
<rect x="332.0" y="133.2" width="3" height="3" fill="#a3dbbd"/>
<rect x="335.0" y="133.2" width="3" height="3" fill="#a6dcbe"/>
<rect x="338.0" y="133.2" width="3" height="3" fill="#a5dcbd"/>
<rect x="341.0" y="133.2" width="3" height="3" fill="#a1dabd"/>
<rect x="344.0" y="133.2" width="3" height="3" fill="#9cd8bc"/>
<rect x="347.0" y="133.2" width="3" height="3" fill="#97d6bc"/>
<rect x="350.0" y="133.2" width="3" height="3" fill="#94d4bd"/>
<rect x="353.0" y="133.2" width="3" height="3" fill="#95d5bd"/>
<rect x="356.0" y="133.2" width="3" height="3" fill="#9cd8bc"/>
<rect x="359.0" y="133.2" width="3" height="3" fill="#acdfbe"/>
<rect x="362.0" y="133.2" width="3" height="3" fill="#c7eac6"/>
<rect x="365.0" y="133.2" width="3" height="3" fill="#e0f3dd"/>
<rect x="368.0" y="133.2" width="3" height="3" fill="#ecf8eb"/>
<rect x="371.0" y="133.2" width="3" height="3" fill="#f1faf0"/>
<rect x="374.0" y="133.2" width="3" height="3" fill="#f3fbf3"/>
<rect x="377.0" y="133.2" width="3" height="3" fill="#f4fcf4"/>
<rect x="245.0" y="136.2" width="3" height="3" fill="#f5fcf4"/>
<rect x="248.0" y="136.2" width="3" height="3" fill="#f4fbf3"/>
<rect x="251.0" y="136.2" width="3" height="3" fill="#f2fbf1"/>
<rect x="254.0" y="136.2" width="3" height="3" fill="#eff9ee"/>
<rect x="257.0" y="136.2" width="3" height="3" fill="#eaf7e8"/>
<rect x="260.0" y="136.2" width="3" height="3" fill="#e5f5e3"/>
<rect x="263.0" y="136.2" width="3" height="3" fill="#e1f4de"/>
<rect x="266.0" y="136.2" width="3" height="3" fill="#ddf2da"/>
<rect x="269.0" y="136.2" width="3" height="3" fill="#dbf1d7"/>
<rect x="272.0" y="136.2" width="3" height="3" fill="#daf1d6"/>
<rect x="275.0" y="136.2" width="12" height="3" fill="#d9f1d5"/>
<rect x="287.0" y="136.2" width="3" height="3" fill="#ceecc9"/>
<rect x="290.0" y="136.2" width="3" height="3" fill="#afe0bf"/>
<rect x="293.0" y="136.2" width="3" height="3" fill="#9fd9bd"/>
<rect x="296.0" y="136.2" width="3" height="3" fill="#a0dabd"/>
<rect x="299.0" y="136.2" width="3" height="3" fill="#a8ddbe"/>
<rect x="302.0" y="136.2" width="3" height="3" fill="#addfbe"/>
<rect x="305.0" y="136.2" width="3" height="3" fill="#afe0bf"/>
<rect x="308.0" y="136.2" width="3" height="3" fill="#b0e1bf"/>
<rect x="311.0" y="136.2" width="6" height="3" fill="#b1e1bf"/>
<rect x="317.0" y="136.2" width="3" height="3" fill="#abdfbe"/>
<rect x="320.0" y="136.2" width="3" height="3" fill="#a2dbbd"/>
<rect x="323.0" y="136.2" width="3" height="3" fill="#9bd8bc"/>
<rect x="326.0" y="136.2" width="3" height="3" fill="#9ed9bd"/>
<rect x="329.0" y="136.2" width="3" height="3" fill="#a7ddbe"/>
<rect x="332.0" y="136.2" width="3" height="3" fill="#b0e1bf"/>
<rect x="335.0" y="136.2" width="6" height="3" fill="#b4e2bf"/>
<rect x="341.0" y="136.2" width="3" height="3" fill="#b1e1bf"/>
<rect x="344.0" y="136.2" width="3" height="3" fill="#addfbe"/>
<rect x="347.0" y="136.2" width="3" height="3" fill="#a9debe"/>
<rect x="350.0" y="136.2" width="3" height="3" fill="#a3dbbd"/>
<rect x="353.0" y="136.2" width="3" height="3" fill="#9cd8bc"/>
<rect x="356.0" y="136.2" width="3" height="3" fill="#9ad7bc"/>
<rect x="359.0" y="136.2" width="3" height="3" fill="#a4dbbd"/>
<rect x="362.0" y="136.2" width="3" height="3" fill="#bfe7c3"/>
<rect x="365.0" y="136.2" width="3" height="3" fill="#dcf2d9"/>
<rect x="368.0" y="136.2" width="3" height="3" fill="#ebf8ea"/>
<rect x="371.0" y="136.2" width="3" height="3" fill="#f0faf0"/>
<rect x="374.0" y="136.2" width="3" height="3" fill="#f3fbf3"/>
<rect x="377.0" y="136.2" width="3" height="3" fill="#f4fcf4"/>
<rect x="248.0" y="139.2" width="3" height="3" fill="#f5fcf4"/>
<rect x="251.0" y="139.2" width="3" height="3" fill="#f4fbf4"/>
<rect x="254.0" y="139.2" width="3" height="3" fill="#f3fbf2"/>
<rect x="257.0" y="139.2" width="3" height="3" fill="#f1faf0"/>
<rect x="260.0" y="139.2" width="3" height="3" fill="#eff9ee"/>
<rect x="263.0" y="139.2" width="3" height="3" fill="#edf9ec"/>
<rect x="266.0" y="139.2" width="3" height="3" fill="#ecf8ea"/>
<rect x="269.0" y="139.2" width="3" height="3" fill="#ebf8e9"/>
<rect x="272.0" y="139.2" width="9" height="3" fill="#eaf7e8"/>
<rect x="281.0" y="139.2" width="3" height="3" fill="#e9f7e8"/>
<rect x="284.0" y="139.2" width="3" height="3" fill="#e5f5e2"/>
<rect x="287.0" y="139.2" width="3" height="3" fill="#d0edcb"/>
<rect x="290.0" y="139.2" width="3" height="3" fill="#afe0bf"/>
<rect x="293.0" y="139.2" width="3" height="3" fill="#9dd8bd"/>
<rect x="296.0" y="139.2" width="3" height="3" fill="#9ed9bd"/>
<rect x="299.0" y="139.2" width="3" height="3" fill="#a6dcbe"/>
<rect x="302.0" y="139.2" width="3" height="3" fill="#acdfbe"/>
<rect x="305.0" y="139.2" width="3" height="3" fill="#b0e1bf"/>
<rect x="308.0" y="139.2" width="3" height="3" fill="#b2e2bf"/>
<rect x="311.0" y="139.2" width="3" height="3" fill="#b3e2bf"/>
<rect x="314.0" y="139.2" width="3" height="3" fill="#b1e1bf"/>
<rect x="317.0" y="139.2" width="3" height="3" fill="#aadebe"/>
<rect x="320.0" y="139.2" width="3" height="3" fill="#9fd9bd"/>
<rect x="323.0" y="139.2" width="3" height="3" fill="#98d6bc"/>
<rect x="326.0" y="139.2" width="3" height="3" fill="#9bd7bc"/>
<rect x="329.0" y="139.2" width="3" height="3" fill="#a5dcbd"/>
<rect x="332.0" y="139.2" width="3" height="3" fill="#aee0be"/>
<rect x="335.0" y="139.2" width="3" height="3" fill="#b3e2bf"/>
<rect x="338.0" y="139.2" width="6" height="3" fill="#b4e2bf"/>
<rect x="344.0" y="139.2" width="3" height="3" fill="#b3e2bf"/>
<rect x="347.0" y="139.2" width="3" height="3" fill="#afe0bf"/>
<rect x="350.0" y="139.2" width="3" height="3" fill="#a7ddbe"/>
<rect x="353.0" y="139.2" width="3" height="3" fill="#9cd8bc"/>
<rect x="356.0" y="139.2" width="3" height="3" fill="#95d5bd"/>
<rect x="359.0" y="139.2" width="3" height="3" fill="#9ed8bd"/>
<rect x="362.0" y="139.2" width="3" height="3" fill="#bae5c1"/>
<rect x="365.0" y="139.2" width="3" height="3" fill="#daf1d6"/>
<rect x="368.0" y="139.2" width="3" height="3" fill="#eaf8e9"/>
<rect x="371.0" y="139.2" width="3" height="3" fill="#f0faef"/>
<rect x="374.0" y="139.2" width="3" height="3" fill="#f3fbf3"/>
<rect x="377.0" y="139.2" width="3" height="3" fill="#f4fcf4"/>
<rect x="254.0" y="142.2" width="3" height="3" fill="#f4fcf4"/>
<rect x="257.0" y="142.2" width="3" height="3" fill="#f4fbf4"/>
<rect x="260.0" y="142.2" width="3" height="3" fill="#f3fbf3"/>
<rect x="263.0" y="142.2" width="3" height="3" fill="#f2fbf2"/>
<rect x="266.0" y="142.2" width="6" height="3" fill="#f2fbf1"/>
<rect x="272.0" y="142.2" width="6" height="3" fill="#f1faf1"/>
<rect x="278.0" y="142.2" width="3" height="3" fill="#f1faf0"/>
<rect x="281.0" y="142.2" width="3" height="3" fill="#edf9ec"/>
<rect x="284.0" y="142.2" width="3" height="3" fill="#e6f6e4"/>
<rect x="287.0" y="142.2" width="3" height="3" fill="#cfedcb"/>
<rect x="290.0" y="142.2" width="3" height="3" fill="#addfbe"/>
<rect x="293.0" y="142.2" width="3" height="3" fill="#99d6bc"/>
<rect x="296.0" y="142.2" width="3" height="3" fill="#98d6bc"/>
<rect x="299.0" y="142.2" width="3" height="3" fill="#a0dabd"/>
<rect x="302.0" y="142.2" width="3" height="3" fill="#a8ddbe"/>
<rect x="305.0" y="142.2" width="3" height="3" fill="#aee0be"/>
<rect x="308.0" y="142.2" width="3" height="3" fill="#b1e1bf"/>
<rect x="311.0" y="142.2" width="3" height="3" fill="#b3e2bf"/>
<rect x="314.0" y="142.2" width="3" height="3" fill="#b0e0bf"/>
<rect x="317.0" y="142.2" width="3" height="3" fill="#a6dcbe"/>
<rect x="320.0" y="142.2" width="3" height="3" fill="#9ad7bc"/>
<rect x="323.0" y="142.2" width="3" height="3" fill="#92d3be"/>
<rect x="326.0" y="142.2" width="3" height="3" fill="#94d4bd"/>
<rect x="329.0" y="142.2" width="3" height="3" fill="#9dd8bd"/>
<rect x="332.0" y="142.2" width="3" height="3" fill="#a7ddbe"/>
<rect x="335.0" y="142.2" width="3" height="3" fill="#addfbe"/>
<rect x="338.0" y="142.2" width="3" height="3" fill="#b0e1bf"/>
<rect x="341.0" y="142.2" width="3" height="3" fill="#b2e2bf"/>
<rect x="344.0" y="142.2" width="3" height="3" fill="#b3e2bf"/>
<rect x="347.0" y="142.2" width="3" height="3" fill="#afe0bf"/>
<rect x="350.0" y="142.2" width="3" height="3" fill="#a6dcbe"/>
<rect x="353.0" y="142.2" width="3" height="3" fill="#99d7bc"/>
<rect x="356.0" y="142.2" width="3" height="3" fill="#90d3be"/>
<rect x="359.0" y="142.2" width="3" height="3" fill="#98d6bc"/>
<rect x="362.0" y="142.2" width="3" height="3" fill="#b5e3c0"/>
<rect x="365.0" y="142.2" width="3" height="3" fill="#d8f0d4"/>
<rect x="368.0" y="142.2" width="3" height="3" fill="#eaf7e8"/>
<rect x="371.0" y="142.2" width="3" height="3" fill="#f0faef"/>
<rect x="374.0" y="142.2" width="3" height="3" fill="#f3fbf3"/>
<rect x="377.0" y="142.2" width="3" height="3" fill="#f4fcf4"/>
<rect x="260.0" y="145.2" width="15" height="3" fill="#f4fcf4"/>
<rect x="275.0" y="145.2" width="3" height="3" fill="#f4fbf4"/>
<rect x="278.0" y="145.2" width="3" height="3" fill="#f2fbf1"/>
<rect x="281.0" y="145.2" width="3" height="3" fill="#eef9ed"/>
<rect x="284.0" y="145.2" width="3" height="3" fill="#e6f6e4"/>
<rect x="287.0" y="145.2" width="3" height="3" fill="#ceecc9"/>
<rect x="290.0" y="145.2" width="3" height="3" fill="#aadebe"/>
<rect x="293.0" y="145.2" width="3" height="3" fill="#95d5bd"/>
<rect x="296.0" y="145.2" width="3" height="3" fill="#94d4bd"/>
<rect x="299.0" y="145.2" width="3" height="3" fill="#9ed9bd"/>
<rect x="302.0" y="145.2" width="3" height="3" fill="#a8ddbe"/>
<rect x="305.0" y="145.2" width="3" height="3" fill="#aee0be"/>
<rect x="308.0" y="145.2" width="3" height="3" fill="#b2e2bf"/>
<rect x="311.0" y="145.2" width="3" height="3" fill="#b3e2bf"/>
<rect x="314.0" y="145.2" width="3" height="3" fill="#afe0bf"/>
<rect x="317.0" y="145.2" width="3" height="3" fill="#a4dbbd"/>
<rect x="320.0" y="145.2" width="3" height="3" fill="#95d5bd"/>
<rect x="323.0" y="145.2" width="3" height="3" fill="#8bd0c0"/>
<rect x="326.0" y="145.2" width="3" height="3" fill="#8cd1bf"/>
<rect x="329.0" y="145.2" width="3" height="3" fill="#96d5bd"/>
<rect x="332.0" y="145.2" width="3" height="3" fill="#a0d9bd"/>
<rect x="335.0" y="145.2" width="3" height="3" fill="#a7dcbe"/>
<rect x="338.0" y="145.2" width="3" height="3" fill="#abdfbe"/>
<rect x="341.0" y="145.2" width="3" height="3" fill="#b0e0bf"/>
<rect x="344.0" y="145.2" width="3" height="3" fill="#b1e1bf"/>
<rect x="347.0" y="145.2" width="3" height="3" fill="#aee0be"/>
<rect x="350.0" y="145.2" width="3" height="3" fill="#a4dbbd"/>
<rect x="353.0" y="145.2" width="3" height="3" fill="#96d5bd"/>
<rect x="356.0" y="145.2" width="3" height="3" fill="#8cd1c0"/>
<rect x="359.0" y="145.2" width="3" height="3" fill="#93d4be"/>
<rect x="362.0" y="145.2" width="3" height="3" fill="#b2e1bf"/>
<rect x="365.0" y="145.2" width="3" height="3" fill="#d7f0d3"/>
<rect x="368.0" y="145.2" width="3" height="3" fill="#eaf7e8"/>
<rect x="371.0" y="145.2" width="3" height="3" fill="#f0faef"/>
<rect x="374.0" y="145.2" width="3" height="3" fill="#f3fbf3"/>
<rect x="377.0" y="145.2" width="3" height="3" fill="#f4fcf4"/>
<rect x="275.0" y="148.2" width="3" height="3" fill="#f4fcf4"/>
<rect x="278.0" y="148.2" width="3" height="3" fill="#f2fbf2"/>
<rect x="281.0" y="148.2" width="3" height="3" fill="#eef9ed"/>
<rect x="284.0" y="148.2" width="3" height="3" fill="#e6f5e3"/>
<rect x="287.0" y="148.2" width="3" height="3" fill="#cbebc7"/>
<rect x="290.0" y="148.2" width="3" height="3" fill="#a5dcbd"/>
<rect x="293.0" y="148.2" width="3" height="3" fill="#91d3be"/>
<rect x="296.0" y="148.2" width="3" height="3" fill="#93d4be"/>
<rect x="299.0" y="148.2" width="3" height="3" fill="#9fd9bd"/>
<rect x="302.0" y="148.2" width="3" height="3" fill="#aadebe"/>
<rect x="305.0" y="148.2" width="3" height="3" fill="#b1e1bf"/>
<rect x="308.0" y="148.2" width="3" height="3" fill="#b5e3c0"/>
<rect x="311.0" y="148.2" width="3" height="3" fill="#b4e2bf"/>
<rect x="314.0" y="148.2" width="3" height="3" fill="#aee0be"/>
<rect x="317.0" y="148.2" width="3" height="3" fill="#a1dabd"/>
<rect x="320.0" y="148.2" width="3" height="3" fill="#90d3be"/>
<rect x="323.0" y="148.2" width="3" height="3" fill="#84cdc2"/>
<rect x="326.0" y="148.2" width="3" height="3" fill="#84cec2"/>
<rect x="329.0" y="148.2" width="3" height="3" fill="#8ed2bf"/>
<rect x="332.0" y="148.2" width="3" height="3" fill="#9ad7bc"/>
<rect x="335.0" y="148.2" width="3" height="3" fill="#a2dbbd"/>
<rect x="338.0" y="148.2" width="3" height="3" fill="#a8ddbe"/>
<rect x="341.0" y="148.2" width="3" height="3" fill="#addfbe"/>
<rect x="344.0" y="148.2" width="3" height="3" fill="#afe0bf"/>
<rect x="347.0" y="148.2" width="3" height="3" fill="#acdfbe"/>
<rect x="350.0" y="148.2" width="3" height="3" fill="#a3dbbd"/>
<rect x="353.0" y="148.2" width="3" height="3" fill="#95d5bd"/>
<rect x="356.0" y="148.2" width="3" height="3" fill="#89cfc0"/>
<rect x="359.0" y="148.2" width="3" height="3" fill="#8fd2bf"/>
<rect x="362.0" y="148.2" width="3" height="3" fill="#afe0bf"/>
<rect x="365.0" y="148.2" width="3" height="3" fill="#d6efd1"/>
<rect x="368.0" y="148.2" width="3" height="3" fill="#eaf7e8"/>
<rect x="371.0" y="148.2" width="3" height="3" fill="#f0faef"/>
<rect x="374.0" y="148.2" width="3" height="3" fill="#f3fbf3"/>
<rect x="377.0" y="148.2" width="3" height="3" fill="#f4fcf4"/>
<rect x="275.0" y="151.2" width="3" height="3" fill="#f4fcf4"/>
<rect x="278.0" y="151.2" width="3" height="3" fill="#f2fbf2"/>
<rect x="281.0" y="151.2" width="3" height="3" fill="#eef9ed"/>
<rect x="284.0" y="151.2" width="3" height="3" fill="#e5f5e2"/>
<rect x="287.0" y="151.2" width="3" height="3" fill="#c9eac6"/>
<rect x="290.0" y="151.2" width="3" height="3" fill="#a1dabd"/>
<rect x="293.0" y="151.2" width="3" height="3" fill="#8dd1bf"/>
<rect x="296.0" y="151.2" width="3" height="3" fill="#92d3be"/>
<rect x="299.0" y="151.2" width="3" height="3" fill="#a1dabd"/>
<rect x="302.0" y="151.2" width="3" height="3" fill="#aee0be"/>
<rect x="305.0" y="151.2" width="3" height="3" fill="#b5e3c0"/>
<rect x="308.0" y="151.2" width="3" height="3" fill="#b7e4c0"/>
<rect x="311.0" y="151.2" width="3" height="3" fill="#b5e3c0"/>
<rect x="314.0" y="151.2" width="3" height="3" fill="#ade0be"/>
<rect x="317.0" y="151.2" width="3" height="3" fill="#9ed9bd"/>
<rect x="320.0" y="151.2" width="3" height="3" fill="#8bd1c0"/>
<rect x="323.0" y="151.2" width="3" height="3" fill="#7ecbc3"/>
<rect x="326.0" y="151.2" width="3" height="3" fill="#7ecbc4"/>
<rect x="329.0" y="151.2" width="3" height="3" fill="#88cfc0"/>
<rect x="332.0" y="151.2" width="3" height="3" fill="#96d5bd"/>
<rect x="335.0" y="151.2" width="3" height="3" fill="#9fd9bd"/>
<rect x="338.0" y="151.2" width="3" height="3" fill="#a5dcbd"/>
<rect x="341.0" y="151.2" width="3" height="3" fill="#aadebe"/>
<rect x="344.0" y="151.2" width="3" height="3" fill="#addfbe"/>
<rect x="347.0" y="151.2" width="3" height="3" fill="#abdebe"/>
<rect x="350.0" y="151.2" width="3" height="3" fill="#a3dbbd"/>
<rect x="353.0" y="151.2" width="3" height="3" fill="#94d4bd"/>
<rect x="356.0" y="151.2" width="3" height="3" fill="#87cfc1"/>
<rect x="359.0" y="151.2" width="3" height="3" fill="#8cd1bf"/>
<rect x="362.0" y="151.2" width="3" height="3" fill="#acdfbe"/>
<rect x="365.0" y="151.2" width="3" height="3" fill="#d5efd1"/>
<rect x="368.0" y="151.2" width="3" height="3" fill="#eaf7e8"/>
<rect x="371.0" y="151.2" width="3" height="3" fill="#f0faef"/>
<rect x="374.0" y="151.2" width="3" height="3" fill="#f3fbf3"/>
<rect x="377.0" y="151.2" width="3" height="3" fill="#f4fcf4"/>
<rect x="275.0" y="154.2" width="3" height="3" fill="#f4fcf4"/>
<rect x="278.0" y="154.2" width="3" height="3" fill="#f2fbf2"/>
<rect x="281.0" y="154.2" width="3" height="3" fill="#eef9ed"/>
<rect x="284.0" y="154.2" width="3" height="3" fill="#e5f5e2"/>
<rect x="287.0" y="154.2" width="3" height="3" fill="#c7eac6"/>
<rect x="290.0" y="154.2" width="3" height="3" fill="#9ed9bd"/>
<rect x="293.0" y="154.2" width="3" height="3" fill="#8bd0c0"/>
<rect x="296.0" y="154.2" width="3" height="3" fill="#91d3be"/>
<rect x="299.0" y="154.2" width="3" height="3" fill="#a2dabd"/>
<rect x="302.0" y="154.2" width="3" height="3" fill="#afe0bf"/>
<rect x="305.0" y="154.2" width="3" height="3" fill="#b6e3c0"/>
<rect x="308.0" y="154.2" width="3" height="3" fill="#b8e4c1"/>
<rect x="311.0" y="154.2" width="3" height="3" fill="#b6e3c0"/>
<rect x="314.0" y="154.2" width="3" height="3" fill="#aee0be"/>
<rect x="317.0" y="154.2" width="3" height="3" fill="#9fd9bd"/>
<rect x="320.0" y="154.2" width="3" height="3" fill="#8cd1c0"/>
<rect x="323.0" y="154.2" width="3" height="3" fill="#7ecbc4"/>
<rect x="326.0" y="154.2" width="3" height="3" fill="#7dcac4"/>
<rect x="329.0" y="154.2" width="3" height="3" fill="#87cfc1"/>
<rect x="332.0" y="154.2" width="3" height="3" fill="#95d5bd"/>
<rect x="335.0" y="154.2" width="3" height="3" fill="#9ed9bd"/>
<rect x="338.0" y="154.2" width="3" height="3" fill="#a4dbbd"/>
<rect x="341.0" y="154.2" width="3" height="3" fill="#a8ddbe"/>
<rect x="344.0" y="154.2" width="3" height="3" fill="#abdebe"/>
<rect x="347.0" y="154.2" width="3" height="3" fill="#aadebe"/>
<rect x="350.0" y="154.2" width="3" height="3" fill="#a3dbbd"/>
<rect x="353.0" y="154.2" width="3" height="3" fill="#94d4bd"/>
<rect x="356.0" y="154.2" width="3" height="3" fill="#87cfc1"/>
<rect x="359.0" y="154.2" width="3" height="3" fill="#8cd1bf"/>
<rect x="362.0" y="154.2" width="3" height="3" fill="#acdfbe"/>
<rect x="365.0" y="154.2" width="3" height="3" fill="#d5efd0"/>
<rect x="368.0" y="154.2" width="3" height="3" fill="#eaf7e8"/>
<rect x="371.0" y="154.2" width="3" height="3" fill="#f0faef"/>
<rect x="374.0" y="154.2" width="3" height="3" fill="#f3fbf3"/>
<rect x="377.0" y="154.2" width="3" height="3" fill="#f4fcf4"/>
<rect x="275.0" y="157.2" width="3" height="3" fill="#f4fcf4"/>
<rect x="278.0" y="157.2" width="3" height="3" fill="#f2fbf2"/>
<rect x="281.0" y="157.2" width="3" height="3" fill="#eff9ee"/>
<rect x="284.0" y="157.2" width="3" height="3" fill="#e5f5e2"/>
<rect x="287.0" y="157.2" width="3" height="3" fill="#c7eac6"/>
<rect x="290.0" y="157.2" width="3" height="3" fill="#9dd8bd"/>
<rect x="293.0" y="157.2" width="3" height="3" fill="#89cfc0"/>
<rect x="296.0" y="157.2" width="3" height="3" fill="#8fd2bf"/>
<rect x="299.0" y="157.2" width="3" height="3" fill="#9fd9bd"/>
<rect x="302.0" y="157.2" width="3" height="3" fill="#abdebe"/>
<rect x="305.0" y="157.2" width="3" height="3" fill="#b2e2bf"/>
<rect x="308.0" y="157.2" width="6" height="3" fill="#b6e3c0"/>
<rect x="314.0" y="157.2" width="3" height="3" fill="#b0e1bf"/>
<rect x="317.0" y="157.2" width="3" height="3" fill="#a3dbbd"/>
<rect x="320.0" y="157.2" width="3" height="3" fill="#91d3be"/>
<rect x="323.0" y="157.2" width="3" height="3" fill="#83cdc2"/>
<rect x="326.0" y="157.2" width="3" height="3" fill="#81ccc2"/>
<rect x="329.0" y="157.2" width="3" height="3" fill="#8bd0c0"/>
<rect x="332.0" y="157.2" width="3" height="3" fill="#98d6bc"/>
<rect x="335.0" y="157.2" width="3" height="3" fill="#a1dabd"/>
<rect x="338.0" y="157.2" width="3" height="3" fill="#a6dcbe"/>
<rect x="341.0" y="157.2" width="3" height="3" fill="#a9debe"/>
<rect x="344.0" y="157.2" width="3" height="3" fill="#abdfbe"/>
<rect x="347.0" y="157.2" width="3" height="3" fill="#a9debe"/>
<rect x="350.0" y="157.2" width="3" height="3" fill="#a2dabd"/>
<rect x="353.0" y="157.2" width="3" height="3" fill="#95d5bd"/>
<rect x="356.0" y="157.2" width="3" height="3" fill="#89d0c0"/>
<rect x="359.0" y="157.2" width="3" height="3" fill="#8ed2bf"/>
<rect x="362.0" y="157.2" width="3" height="3" fill="#aee0be"/>
<rect x="365.0" y="157.2" width="3" height="3" fill="#d5efd1"/>
<rect x="368.0" y="157.2" width="3" height="3" fill="#eaf7e8"/>
<rect x="371.0" y="157.2" width="3" height="3" fill="#f0faef"/>
<rect x="374.0" y="157.2" width="3" height="3" fill="#f3fbf3"/>
<rect x="377.0" y="157.2" width="3" height="3" fill="#f4fcf4"/>
<rect x="275.0" y="160.2" width="3" height="3" fill="#f4fcf4"/>
<rect x="278.0" y="160.2" width="3" height="3" fill="#f3fbf2"/>
<rect x="281.0" y="160.2" width="3" height="3" fill="#eff9ee"/>
<rect x="284.0" y="160.2" width="3" height="3" fill="#e6f6e4"/>
<rect x="287.0" y="160.2" width="3" height="3" fill="#caebc7"/>
<rect x="290.0" y="160.2" width="3" height="3" fill="#a0dabd"/>
<rect x="293.0" y="160.2" width="3" height="3" fill="#8ad0c0"/>
<rect x="296.0" y="160.2" width="3" height="3" fill="#8dd1bf"/>
<rect x="299.0" y="160.2" width="3" height="3" fill="#9bd7bc"/>
<rect x="302.0" y="160.2" width="3" height="3" fill="#a5dcbd"/>
<rect x="305.0" y="160.2" width="3" height="3" fill="#abdebe"/>
<rect x="308.0" y="160.2" width="3" height="3" fill="#b0e1bf"/>
<rect x="311.0" y="160.2" width="3" height="3" fill="#b3e2bf"/>
<rect x="314.0" y="160.2" width="3" height="3" fill="#b2e1bf"/>
<rect x="317.0" y="160.2" width="3" height="3" fill="#a8ddbe"/>
<rect x="320.0" y="160.2" width="3" height="3" fill="#98d6bc"/>
<rect x="323.0" y="160.2" width="3" height="3" fill="#8ad0c0"/>
<rect x="326.0" y="160.2" width="3" height="3" fill="#87cfc1"/>
<rect x="329.0" y="160.2" width="3" height="3" fill="#90d2be"/>
<rect x="332.0" y="160.2" width="3" height="3" fill="#9cd8bc"/>
<rect x="335.0" y="160.2" width="3" height="3" fill="#a4dbbd"/>
<rect x="338.0" y="160.2" width="3" height="3" fill="#a9ddbe"/>
<rect x="341.0" y="160.2" width="6" height="3" fill="#acdfbe"/>
<rect x="347.0" y="160.2" width="3" height="3" fill="#a9ddbe"/>
<rect x="350.0" y="160.2" width="3" height="3" fill="#a0dabd"/>
<rect x="353.0" y="160.2" width="3" height="3" fill="#96d5bd"/>
<rect x="356.0" y="160.2" width="3" height="3" fill="#8dd1bf"/>
<rect x="359.0" y="160.2" width="3" height="3" fill="#95d5bd"/>
<rect x="362.0" y="160.2" width="3" height="3" fill="#b3e2bf"/>
<rect x="365.0" y="160.2" width="3" height="3" fill="#d8f0d4"/>
<rect x="368.0" y="160.2" width="3" height="3" fill="#ebf8e9"/>
<rect x="371.0" y="160.2" width="3" height="3" fill="#f0faf0"/>
<rect x="374.0" y="160.2" width="3" height="3" fill="#f3fbf3"/>
<rect x="377.0" y="160.2" width="3" height="3" fill="#f4fcf4"/>
<rect x="275.0" y="163.2" width="3" height="3" fill="#f4fcf4"/>
<rect x="278.0" y="163.2" width="3" height="3" fill="#f3fbf3"/>
<rect x="281.0" y="163.2" width="3" height="3" fill="#f0faef"/>
<rect x="284.0" y="163.2" width="3" height="3" fill="#e8f7e6"/>
<rect x="287.0" y="163.2" width="3" height="3" fill="#d1edcc"/>
<rect x="290.0" y="163.2" width="3" height="3" fill="#abdebe"/>
<rect x="293.0" y="163.2" width="3" height="3" fill="#93d4be"/>
<rect x="296.0" y="163.2" width="3" height="3" fill="#92d3be"/>
<rect x="299.0" y="163.2" width="3" height="3" fill="#9bd7bc"/>
<rect x="302.0" y="163.2" width="3" height="3" fill="#a2dabd"/>
<rect x="305.0" y="163.2" width="3" height="3" fill="#a6dcbe"/>
<rect x="308.0" y="163.2" width="3" height="3" fill="#abdfbe"/>
<rect x="311.0" y="163.2" width="3" height="3" fill="#b1e1bf"/>
<rect x="314.0" y="163.2" width="3" height="3" fill="#b2e2bf"/>
<rect x="317.0" y="163.2" width="3" height="3" fill="#abdfbe"/>
<rect x="320.0" y="163.2" width="3" height="3" fill="#9ed8bd"/>
<rect x="323.0" y="163.2" width="3" height="3" fill="#90d3be"/>
<rect x="326.0" y="163.2" width="3" height="3" fill="#8cd1bf"/>
<rect x="329.0" y="163.2" width="3" height="3" fill="#94d4bd"/>
<rect x="332.0" y="163.2" width="3" height="3" fill="#9fd9bd"/>
<rect x="335.0" y="163.2" width="3" height="3" fill="#a7ddbe"/>
<rect x="338.0" y="163.2" width="3" height="3" fill="#acdfbe"/>
<rect x="341.0" y="163.2" width="3" height="3" fill="#aee0be"/>
<rect x="344.0" y="163.2" width="3" height="3" fill="#addfbe"/>
<rect x="347.0" y="163.2" width="3" height="3" fill="#a8ddbe"/>
<rect x="350.0" y="163.2" width="3" height="3" fill="#a1dabd"/>
<rect x="353.0" y="163.2" width="3" height="3" fill="#98d6bc"/>
<rect x="356.0" y="163.2" width="3" height="3" fill="#95d5bd"/>
<rect x="359.0" y="163.2" width="3" height="3" fill="#9fd9bd"/>
<rect x="362.0" y="163.2" width="3" height="3" fill="#bde6c3"/>
<rect x="365.0" y="163.2" width="3" height="3" fill="#ddf2d9"/>
<rect x="368.0" y="163.2" width="3" height="3" fill="#ecf8eb"/>
<rect x="371.0" y="163.2" width="3" height="3" fill="#f1faf1"/>
<rect x="374.0" y="163.2" width="3" height="3" fill="#f4fbf3"/>
<rect x="377.0" y="163.2" width="3" height="3" fill="#f4fcf4"/>
<rect x="275.0" y="166.2" width="3" height="3" fill="#f5fcf4"/>
<rect x="278.0" y="166.2" width="3" height="3" fill="#f3fbf3"/>
<rect x="281.0" y="166.2" width="3" height="3" fill="#f1faf0"/>
<rect x="284.0" y="166.2" width="3" height="3" fill="#ecf8eb"/>
<rect x="287.0" y="166.2" width="3" height="3" fill="#dbf1d8"/>
<rect x="290.0" y="166.2" width="3" height="3" fill="#bee6c3"/>
<rect x="293.0" y="166.2" width="3" height="3" fill="#a6dcbe"/>
<rect x="296.0" y="166.2" width="3" height="3" fill="#9fd9bd"/>
<rect x="299.0" y="166.2" width="3" height="3" fill="#a3dbbd"/>
<rect x="302.0" y="166.2" width="3" height="3" fill="#a7ddbe"/>
<rect x="305.0" y="166.2" width="3" height="3" fill="#aadebe"/>
<rect x="308.0" y="166.2" width="3" height="3" fill="#aee0be"/>
<rect x="311.0" y="166.2" width="3" height="3" fill="#b4e2bf"/>
<rect x="314.0" y="166.2" width="3" height="3" fill="#b6e3c0"/>
<rect x="317.0" y="166.2" width="3" height="3" fill="#b2e1bf"/>
<rect x="320.0" y="166.2" width="3" height="3" fill="#a6dcbe"/>
<rect x="323.0" y="166.2" width="3" height="3" fill="#9bd7bc"/>
<rect x="326.0" y="166.2" width="3" height="3" fill="#97d6bc"/>
<rect x="329.0" y="166.2" width="3" height="3" fill="#9dd8bd"/>
<rect x="332.0" y="166.2" width="3" height="3" fill="#a7ddbe"/>
<rect x="335.0" y="166.2" width="3" height="3" fill="#aee0be"/>
<rect x="338.0" y="166.2" width="3" height="3" fill="#b2e2bf"/>
<rect x="341.0" y="166.2" width="3" height="3" fill="#b4e2bf"/>
<rect x="344.0" y="166.2" width="3" height="3" fill="#b2e2bf"/>
<rect x="347.0" y="166.2" width="3" height="3" fill="#addfbe"/>
<rect x="350.0" y="166.2" width="3" height="3" fill="#a7ddbe"/>
<rect x="353.0" y="166.2" width="3" height="3" fill="#a2dbbd"/>
<rect x="356.0" y="166.2" width="3" height="3" fill="#a4dbbd"/>
<rect x="359.0" y="166.2" width="3" height="3" fill="#b2e2bf"/>
<rect x="362.0" y="166.2" width="3" height="3" fill="#ceecc9"/>
<rect x="365.0" y="166.2" width="3" height="3" fill="#e4f5e2"/>
<rect x="368.0" y="166.2" width="3" height="3" fill="#eef9ed"/>
<rect x="371.0" y="166.2" width="3" height="3" fill="#f2fbf2"/>
<rect x="374.0" y="166.2" width="3" height="3" fill="#f4fcf4"/>
<rect x="278.0" y="169.2" width="3" height="3" fill="#f4fcf4"/>
<rect x="281.0" y="169.2" width="3" height="3" fill="#f2fbf2"/>
<rect x="284.0" y="169.2" width="3" height="3" fill="#effaee"/>
<rect x="287.0" y="169.2" width="3" height="3" fill="#e7f6e5"/>
<rect x="290.0" y="169.2" width="3" height="3" fill="#d6efd2"/>
<rect x="293.0" y="169.2" width="3" height="3" fill="#c3e8c5"/>
<rect x="296.0" y="169.2" width="6" height="3" fill="#b9e4c1"/>
<rect x="302.0" y="169.2" width="3" height="3" fill="#bae5c1"/>
<rect x="305.0" y="169.2" width="3" height="3" fill="#bce5c2"/>
<rect x="308.0" y="169.2" width="3" height="3" fill="#bfe7c3"/>
<rect x="311.0" y="169.2" width="3" height="3" fill="#c2e8c4"/>
<rect x="314.0" y="169.2" width="3" height="3" fill="#c4e9c5"/>
<rect x="317.0" y="169.2" width="3" height="3" fill="#c2e8c4"/>
<rect x="320.0" y="169.2" width="3" height="3" fill="#bae5c1"/>
<rect x="323.0" y="169.2" width="3" height="3" fill="#b2e1bf"/>
<rect x="326.0" y="169.2" width="3" height="3" fill="#afe0bf"/>
<rect x="329.0" y="169.2" width="3" height="3" fill="#b3e2bf"/>
<rect x="332.0" y="169.2" width="3" height="3" fill="#b9e4c1"/>
<rect x="335.0" y="169.2" width="3" height="3" fill="#bfe7c3"/>
<rect x="338.0" y="169.2" width="3" height="3" fill="#c2e8c4"/>
<rect x="341.0" y="169.2" width="3" height="3" fill="#c3e8c5"/>
<rect x="344.0" y="169.2" width="3" height="3" fill="#c1e8c4"/>
<rect x="347.0" y="169.2" width="3" height="3" fill="#bee6c3"/>
<rect x="350.0" y="169.2" width="3" height="3" fill="#bae5c1"/>
<rect x="353.0" y="169.2" width="3" height="3" fill="#b9e4c1"/>
<rect x="356.0" y="169.2" width="3" height="3" fill="#bee6c3"/>
<rect x="359.0" y="169.2" width="3" height="3" fill="#cdecc8"/>
<rect x="362.0" y="169.2" width="3" height="3" fill="#def3db"/>
<rect x="365.0" y="169.2" width="3" height="3" fill="#ebf8ea"/>
<rect x="368.0" y="169.2" width="3" height="3" fill="#f0faf0"/>
<rect x="371.0" y="169.2" width="3" height="3" fill="#f3fbf3"/>
<rect x="374.0" y="169.2" width="3" height="3" fill="#f4fcf4"/>
<rect x="278.0" y="172.2" width="3" height="3" fill="#f4fcf4"/>
<rect x="281.0" y="172.2" width="3" height="3" fill="#f3fbf3"/>
<rect x="284.0" y="172.2" width="3" height="3" fill="#f1faf1"/>
<rect x="287.0" y="172.2" width="3" height="3" fill="#eef9ed"/>
<rect x="290.0" y="172.2" width="3" height="3" fill="#e8f6e5"/>
<rect x="293.0" y="172.2" width="3" height="3" fill="#def3db"/>
<rect x="296.0" y="172.2" width="3" height="3" fill="#d8f0d4"/>
<rect x="299.0" y="172.2" width="6" height="3" fill="#d6efd1"/>
<rect x="305.0" y="172.2" width="3" height="3" fill="#d6f0d2"/>
<rect x="308.0" y="172.2" width="3" height="3" fill="#d7f0d3"/>
<rect x="311.0" y="172.2" width="3" height="3" fill="#d9f1d5"/>
<rect x="314.0" y="172.2" width="3" height="3" fill="#daf1d6"/>
<rect x="317.0" y="172.2" width="3" height="3" fill="#d9f0d5"/>
<rect x="320.0" y="172.2" width="3" height="3" fill="#d5efd1"/>
<rect x="323.0" y="172.2" width="3" height="3" fill="#d2eecd"/>
<rect x="326.0" y="172.2" width="3" height="3" fill="#d0edcc"/>
<rect x="329.0" y="172.2" width="3" height="3" fill="#d2eecd"/>
<rect x="332.0" y="172.2" width="3" height="3" fill="#d5efd1"/>
<rect x="335.0" y="172.2" width="3" height="3" fill="#d8f0d4"/>
<rect x="338.0" y="172.2" width="3" height="3" fill="#d9f1d5"/>
<rect x="341.0" y="172.2" width="3" height="3" fill="#daf1d6"/>
<rect x="344.0" y="172.2" width="3" height="3" fill="#d9f0d5"/>
<rect x="347.0" y="172.2" width="3" height="3" fill="#d7f0d3"/>
<rect x="350.0" y="172.2" width="3" height="3" fill="#d6efd2"/>
<rect x="353.0" y="172.2" width="3" height="3" fill="#d7f0d2"/>
<rect x="356.0" y="172.2" width="3" height="3" fill="#dbf1d7"/>
<rect x="359.0" y="172.2" width="3" height="3" fill="#e3f4e0"/>
<rect x="362.0" y="172.2" width="3" height="3" fill="#ebf8e9"/>
<rect x="365.0" y="172.2" width="3" height="3" fill="#effaef"/>
<rect x="368.0" y="172.2" width="3" height="3" fill="#f2fbf2"/>
<rect x="371.0" y="172.2" width="3" height="3" fill="#f4fbf4"/>
<rect x="281.0" y="175.2" width="3" height="3" fill="#f4fcf4"/>
<rect x="284.0" y="175.2" width="3" height="3" fill="#f3fbf3"/>
<rect x="287.0" y="175.2" width="3" height="3" fill="#f1faf1"/>
<rect x="290.0" y="175.2" width="3" height="3" fill="#effaee"/>
<rect x="293.0" y="175.2" width="3" height="3" fill="#ecf8eb"/>
<rect x="296.0" y="175.2" width="3" height="3" fill="#eaf7e8"/>
<rect x="299.0" y="175.2" width="3" height="3" fill="#e8f7e6"/>
<rect x="302.0" y="175.2" width="3" height="3" fill="#e8f6e6"/>
<rect x="305.0" y="175.2" width="3" height="3" fill="#e8f6e5"/>
<rect x="308.0" y="175.2" width="15" height="3" fill="#e7f6e5"/>
<rect x="323.0" y="175.2" width="6" height="3" fill="#e7f6e4"/>
<rect x="329.0" y="175.2" width="18" height="3" fill="#e7f6e5"/>
<rect x="347.0" y="175.2" width="3" height="3" fill="#e8f6e6"/>
<rect x="350.0" y="175.2" width="3" height="3" fill="#e8f7e6"/>
<rect x="353.0" y="175.2" width="3" height="3" fill="#e9f7e7"/>
<rect x="356.0" y="175.2" width="3" height="3" fill="#ebf8e9"/>
<rect x="359.0" y="175.2" width="3" height="3" fill="#edf9ec"/>
<rect x="362.0" y="175.2" width="3" height="3" fill="#f0faef"/>
<rect x="365.0" y="175.2" width="3" height="3" fill="#f2fbf2"/>
<rect x="368.0" y="175.2" width="3" height="3" fill="#f4fbf3"/>
<rect x="371.0" y="175.2" width="3" height="3" fill="#f4fcf4"/>
<rect x="284.0" y="178.2" width="3" height="3" fill="#f4fcf4"/>
<rect x="287.0" y="178.2" width="3" height="3" fill="#f3fbf3"/>
<rect x="290.0" y="178.2" width="3" height="3" fill="#f2fbf2"/>
<rect x="293.0" y="178.2" width="3" height="3" fill="#f1faf0"/>
<rect x="296.0" y="178.2" width="3" height="3" fill="#f0faef"/>
<rect x="299.0" y="178.2" width="6" height="3" fill="#eff9ee"/>
<rect x="305.0" y="178.2" width="45" height="3" fill="#eef9ed"/>
<rect x="350.0" y="178.2" width="3" height="3" fill="#eff9ee"/>
<rect x="353.0" y="178.2" width="3" height="3" fill="#effaee"/>
<rect x="356.0" y="178.2" width="3" height="3" fill="#f0faef"/>
<rect x="359.0" y="178.2" width="3" height="3" fill="#f1faf1"/>
<rect x="362.0" y="178.2" width="3" height="3" fill="#f3fbf2"/>
<rect x="365.0" y="178.2" width="3" height="3" fill="#f4fbf3"/>
<rect x="368.0" y="178.2" width="3" height="3" fill="#f4fcf4"/>
<rect x="287.0" y="181.2" width="6" height="3" fill="#f4fcf4"/>
<rect x="293.0" y="181.2" width="6" height="3" fill="#f3fbf3"/>
<rect x="299.0" y="181.2" width="3" height="3" fill="#f3fbf2"/>
<rect x="302.0" y="181.2" width="51" height="3" fill="#f2fbf2"/>
<rect x="353.0" y="181.2" width="3" height="3" fill="#f3fbf2"/>
<rect x="356.0" y="181.2" width="3" height="3" fill="#f3fbf3"/>
<rect x="359.0" y="181.2" width="3" height="3" fill="#f4fbf3"/>
<rect x="362.0" y="181.2" width="3" height="3" fill="#f4fcf4"/>
<rect x="365.0" y="181.2" width="3" height="3" fill="#f5fcf4"/>
<rect x="293.0" y="184.2" width="3" height="3" fill="#f5fcf4"/>
<rect x="296.0" y="184.2" width="63" height="3" fill="#f4fcf4"/>
<rect x="359.0" y="184.2" width="3" height="3" fill="#f5fcf4"/>
</g></g>
<rect x="227.0" y="28.2" width="150.8" height="161.8" fill="none" stroke="#6a6a6a" stroke-width="0.8"/>
<line x1="227.0" y1="190.0" x2="227.0" y2="192.0" stroke="#666" stroke-width="0.6"/>
<text x="227.0" y="199.4" font-size="7.6" text-anchor="middle" fill="#222">1</text>
<line x1="260.1" y1="190.0" x2="260.1" y2="192.0" stroke="#666" stroke-width="0.6"/>
<text x="260.1" y="199.4" font-size="7.6" text-anchor="middle" fill="#222">2</text>
<line x1="293.2" y1="190.0" x2="293.2" y2="192.0" stroke="#666" stroke-width="0.6"/>
<text x="293.2" y="199.4" font-size="7.6" text-anchor="middle" fill="#222">3</text>
<line x1="326.3" y1="190.0" x2="326.3" y2="192.0" stroke="#666" stroke-width="0.6"/>
<text x="326.3" y="199.4" font-size="7.6" text-anchor="middle" fill="#222">4</text>
<line x1="359.4" y1="190.0" x2="359.4" y2="192.0" stroke="#666" stroke-width="0.6"/>
<text x="359.4" y="199.4" font-size="7.6" text-anchor="middle" fill="#222">5</text>
<line x1="225.0" y1="169.4" x2="227.0" y2="169.4" stroke="#666" stroke-width="0.6"/>
<text x="222.6" y="172.1" font-size="7.6" text-anchor="end" fill="#222">0</text>
<line x1="225.0" y1="129.2" x2="227.0" y2="129.2" stroke="#666" stroke-width="0.6"/>
<text x="222.6" y="131.9" font-size="7.6" text-anchor="end" fill="#222">1</text>
<line x1="225.0" y1="89.0" x2="227.0" y2="89.0" stroke="#666" stroke-width="0.6"/>
<text x="222.6" y="91.7" font-size="7.6" text-anchor="end" fill="#222">2</text>
<line x1="225.0" y1="48.8" x2="227.0" y2="48.8" stroke="#666" stroke-width="0.6"/>
<text x="222.6" y="51.5" font-size="7.6" text-anchor="end" fill="#222">3</text>
<text x="302.6" y="210.4" font-size="9.8" text-anchor="middle" fill="#222">CN(Ca-O<tspan font-size="6" dy="2">s</tspan><tspan dy="-2">)</tspan></text>
<text transform="translate(212.6,109) rotate(-90)" font-size="9.8" text-anchor="middle" fill="#222">CN(Ca-O<tspan font-size="6" dy="2">w</tspan><tspan dy="-2">)</tspan></text>
<defs><linearGradient id="cbg" x1="0" y1="0" x2="0" y2="1"><stop offset="0.00" stop-color="#f5fcf5"/><stop offset="0.10" stop-color="#e2f4df"/><stop offset="0.20" stop-color="#cdecc8"/><stop offset="0.30" stop-color="#b3e2bf"/><stop offset="0.40" stop-color="#98d6bc"/><stop offset="0.50" stop-color="#7ccac4"/><stop offset="0.60" stop-color="#62b6ca"/><stop offset="0.70" stop-color="#4ea2c6"/><stop offset="0.80" stop-color="#3f8bbd"/><stop offset="0.90" stop-color="#3473ae"/><stop offset="1.00" stop-color="#2d5b9b"/></linearGradient></defs>
<rect x="382.7" y="28.8" width="8.4" height="161.0" fill="url(#cbg)" stroke="#7a7a7a" stroke-width="0.8"/>
<line x1="391.1" y1="28.8" x2="393.1" y2="28.8" stroke="#666" stroke-width="0.6"/>
<text x="393.3" y="30.8" font-size="5.6" fill="#222">0.000</text>
<line x1="391.1" y1="61.0" x2="393.1" y2="61.0" stroke="#666" stroke-width="0.6"/>
<text x="393.3" y="63.0" font-size="5.6" fill="#222">-20.00</text>
<line x1="391.1" y1="93.2" x2="393.1" y2="93.2" stroke="#666" stroke-width="0.6"/>
<text x="393.3" y="95.2" font-size="5.6" fill="#222">-40.00</text>
<line x1="391.1" y1="125.4" x2="393.1" y2="125.4" stroke="#666" stroke-width="0.6"/>
<text x="393.3" y="127.4" font-size="5.6" fill="#222">-60.00</text>
<line x1="391.1" y1="157.6" x2="393.1" y2="157.6" stroke="#666" stroke-width="0.6"/>
<text x="393.3" y="159.6" font-size="5.6" fill="#222">-80.00</text>
<line x1="391.1" y1="189.8" x2="393.1" y2="189.8" stroke="#666" stroke-width="0.6"/>
<text x="393.3" y="191.8" font-size="5.6" fill="#222">-100.0</text>
<text transform="translate(421,108.5) rotate(-90)" font-size="8.3" text-anchor="middle" fill="#222">Free Energy(kJ/mol)</text>
<circle cx="357.4" cy="127.9" r="1.3" fill="#f0f0f0"/>
<circle cx="327.5" cy="89.6" r="1.3" fill="#f0f0f0"/>
<circle cx="295.9" cy="88.6" r="1.3" fill="#f0f0f0"/>
<circle cx="293.9" cy="51.3" r="1.3" fill="#f0f0f0"/>
<circle cx="265.2" cy="51.5" r="1.3" fill="#f0f0f0"/>
<path d="M357.4,126.5 C357.2,121 356,118 353,115 C349,112 345,110 343.2,105 C342,100 341.5,95 338,92.5 C336,91 334,90.2 331.5,89.8" fill="none" stroke="#f0f0f0" stroke-width="0.85" stroke-dasharray="2.2,1.0"/>
<path d="M327,89.6 L298.5,88.8" fill="none" stroke="#f0f0f0" stroke-width="0.85" stroke-dasharray="2.2,1.0"/>
<path d="M295.9,88 L294.2,54" fill="none" stroke="#f0f0f0" stroke-width="0.85" stroke-dasharray="2.2,1.0"/>
<path d="M327.5,88 C325,80 322,74 316.4,72 C311,70 312,62 310,56 C308,51 303,50 297,51.3" fill="none" stroke="#f0f0f0" stroke-width="0.85" stroke-dasharray="2.2,1.0"/>
<path d="M291.5,51.3 L268,51.5" fill="none" stroke="#f0f0f0" stroke-width="0.85" stroke-dasharray="2.2,1.0"/>
<polyline points="334.9,88.2 331,89.8 333.5,93.2" fill="none" stroke="#f0f0f0" stroke-width="0.9"/>
<polyline points="302.8,86.2 299.5,88.8 302.8,91.4" fill="none" stroke="#f0f0f0" stroke-width="0.9"/>
<polyline points="296.9,58.8 294.3,55.5 291.7,58.8" fill="none" stroke="#f0f0f0" stroke-width="0.9"/>
<polyline points="301.1,48.7 297.8,51.3 301.1,53.9" fill="none" stroke="#f0f0f0" stroke-width="0.9"/>
<polyline points="271.9,48.9 268.6,51.5 271.9,54.1" fill="none" stroke="#f0f0f0" stroke-width="0.9"/>
<text x="357.4" y="139.70000000000002" font-size="10.6" text-anchor="middle" fill="#e4e4e4">A</text>
<text x="327.8" y="102.0" font-size="10.6" text-anchor="middle" fill="#e4e4e4">B</text>
<text x="295.7" y="102.19999999999999" font-size="10.6" text-anchor="middle" fill="#e4e4e4">C</text>
<text x="293.3" y="47.599999999999994" font-size="10.6" text-anchor="middle" fill="#e4e4e4">D</text>
<text x="264.9" y="47.8" font-size="10.6" text-anchor="middle" fill="#e4e4e4">E</text>
<rect x="460.5" y="28.5" width="223.2" height="160.5" fill="none" stroke="#555" stroke-width="1"/>
<line x1="458.5" y1="177.4" x2="460.5" y2="177.4" stroke="#555" stroke-width="0.6"/>
<text x="456.2" y="180.1" font-size="7.6" text-anchor="end" fill="#222">-20</text>
<line x1="458.5" y1="160.2" x2="460.5" y2="160.2" stroke="#555" stroke-width="0.6"/>
<text x="456.2" y="162.8" font-size="7.6" text-anchor="end" fill="#222">-15</text>
<line x1="458.5" y1="142.9" x2="460.5" y2="142.9" stroke="#555" stroke-width="0.6"/>
<text x="456.2" y="145.6" font-size="7.6" text-anchor="end" fill="#222">-10</text>
<line x1="458.5" y1="125.7" x2="460.5" y2="125.7" stroke="#555" stroke-width="0.6"/>
<text x="456.2" y="128.3" font-size="7.6" text-anchor="end" fill="#222">-5</text>
<line x1="458.5" y1="108.4" x2="460.5" y2="108.4" stroke="#555" stroke-width="0.6"/>
<text x="456.2" y="111.1" font-size="7.6" text-anchor="end" fill="#222">0</text>
<line x1="458.5" y1="91.2" x2="460.5" y2="91.2" stroke="#555" stroke-width="0.6"/>
<text x="456.2" y="93.9" font-size="7.6" text-anchor="end" fill="#222">5</text>
<line x1="458.5" y1="73.9" x2="460.5" y2="73.9" stroke="#555" stroke-width="0.6"/>
<text x="456.2" y="76.6" font-size="7.6" text-anchor="end" fill="#222">10</text>
<line x1="458.5" y1="56.7" x2="460.5" y2="56.7" stroke="#555" stroke-width="0.6"/>
<text x="456.2" y="59.4" font-size="7.6" text-anchor="end" fill="#222">15</text>
<line x1="458.5" y1="39.4" x2="460.5" y2="39.4" stroke="#555" stroke-width="0.6"/>
<text x="456.2" y="42.1" font-size="7.6" text-anchor="end" fill="#222">20</text>
<text transform="translate(443,108) rotate(-90)" font-size="9.7" text-anchor="middle" fill="#222">Free Energy (kJ/mol)</text>
<text x="571.9" y="201.1" font-size="9.6" text-anchor="middle" fill="#222">Reaction Coordinate</text>
<line x1="481.6" y1="108.5" x2="486" y2="66.2" stroke="#9a9a9a" stroke-width="0.45"/>
<line x1="506.5" y1="66.2" x2="511.3" y2="124.5" stroke="#9a9a9a" stroke-width="0.45"/>
<line x1="532.1" y1="124.5" x2="536.2" y2="87.2" stroke="#9a9a9a" stroke-width="0.45"/>
<line x1="532.1" y1="124.5" x2="561.4" y2="66.9" stroke="#9a9a9a" stroke-width="0.45"/>
<line x1="557" y1="87.2" x2="561.4" y2="142.5" stroke="#9a9a9a" stroke-width="0.45"/>
<line x1="582.4" y1="66.9" x2="612.1" y2="169.9" stroke="#9a9a9a" stroke-width="0.45"/>
<line x1="582.4" y1="142.5" x2="586.8" y2="116.2" stroke="#9a9a9a" stroke-width="0.45"/>
<line x1="607.8" y1="116.2" x2="612.1" y2="169.9" stroke="#9a9a9a" stroke-width="0.45"/>
<line x1="632.3" y1="169.9" x2="637" y2="135.2" stroke="#9a9a9a" stroke-width="0.45"/>
<line x1="657.7" y1="135.2" x2="662" y2="136.7" stroke="#9a9a9a" stroke-width="0.45"/>
<line x1="460.5" y1="108.5" x2="481.6" y2="108.5" stroke="#7a7a7a" stroke-width="1.6"/>
<line x1="486" y1="66.2" x2="506.5" y2="66.2" stroke="#7a7a7a" stroke-width="1.6"/>
<line x1="511.3" y1="124.5" x2="532.1" y2="124.5" stroke="#7a7a7a" stroke-width="1.6"/>
<line x1="536.2" y1="87.2" x2="557" y2="87.2" stroke="#e8646a" stroke-width="1.6"/>
<line x1="561.4" y1="66.9" x2="582.4" y2="66.9" stroke="#7a7a7a" stroke-width="1.6"/>
<line x1="561.4" y1="142.5" x2="582.4" y2="142.5" stroke="#e8646a" stroke-width="1.6"/>
<line x1="586.8" y1="116.2" x2="607.8" y2="116.2" stroke="#e8646a" stroke-width="1.6"/>
<line x1="612.1" y1="169.9" x2="632.3" y2="169.9" stroke="#7a7a7a" stroke-width="1.6"/>
<line x1="637" y1="135.2" x2="657.7" y2="135.2" stroke="#7a7a7a" stroke-width="1.6"/>
<line x1="662" y1="136.7" x2="683" y2="136.7" stroke="#7a7a7a" stroke-width="1.6"/>
<text x="495.7" y="64.1" font-size="8.4" text-anchor="middle" fill="#222">TS1</text>
<text x="546.6" y="85.4" font-size="8.4" text-anchor="middle" fill="#222">TS4</text>
<text x="572" y="63.8" font-size="8.4" text-anchor="middle" fill="#222">TS2</text>
<text x="597" y="114.1" font-size="8.4" text-anchor="middle" fill="#222">TS5</text>
<text x="647.3" y="132.5" font-size="8.4" text-anchor="middle" fill="#222">TS3</text>
<text x="461" y="117.3" font-size="8.4" text-anchor="start" fill="#222">A(5,1)</text>
<text x="511.3" y="134.6" font-size="8.4" text-anchor="start" fill="#222">B(4,2)</text>
<text x="561.4" y="152.6" font-size="8.4" text-anchor="start" fill="#222">C(2,3)</text>
<text x="612.4" y="179.3" font-size="8.4" text-anchor="start" fill="#222">D(3,3)</text>
<text x="662" y="146.6" font-size="8.4" text-anchor="start" fill="#222">E(2,3)</text>
<defs><radialGradient id="gO" cx="0.38" cy="0.35" r="0.7"><stop offset="0" stop-color="#ff5a40"/><stop offset="0.45" stop-color="#ff1800"/><stop offset="1" stop-color="#d20000"/></radialGradient><radialGradient id="gD" cx="0.38" cy="0.35" r="0.7"><stop offset="0" stop-color="#e03020"/><stop offset="0.45" stop-color="#c81000"/><stop offset="1" stop-color="#8a0000"/></radialGradient><radialGradient id="gS" cx="0.38" cy="0.35" r="0.7"><stop offset="0" stop-color="#ffff90"/><stop offset="0.45" stop-color="#eef22c"/><stop offset="1" stop-color="#b8c010"/></radialGradient><radialGradient id="gT" cx="0.38" cy="0.35" r="0.7"><stop offset="0" stop-color="#a8f2f0"/><stop offset="0.45" stop-color="#5cc8c6"/><stop offset="1" stop-color="#2f9593"/></radialGradient><radialGradient id="gH" cx="0.38" cy="0.35" r="0.7"><stop offset="0" stop-color="#ffffff"/><stop offset="0.45" stop-color="#eeeeee"/><stop offset="1" stop-color="#b8b8b8"/></radialGradient></defs>
<clipPath id="mc0"><rect x="83" y="300" width="89.5" height="87.4"/></clipPath>
<g clip-path="url(#mc0)">
<line x1="124.0" y1="324.1" x2="126.0" y2="323.1" stroke="#e99aa2" stroke-width="1" opacity="0.7"/>
<line x1="126.0" y1="323.1" x2="128.0" y2="322.0" stroke="#e4e4e4" stroke-width="0.9" opacity="0.7"/>
<line x1="124.0" y1="324.1" x2="124.5" y2="326.3" stroke="#e99aa2" stroke-width="1" opacity="0.7"/>
<line x1="124.5" y1="326.3" x2="124.9" y2="328.5" stroke="#e4e4e4" stroke-width="0.9" opacity="0.7"/>
<line x1="135.3" y1="314.0" x2="132.8" y2="313.8" stroke="#e99aa2" stroke-width="1" opacity="0.7"/>
<line x1="132.8" y1="313.8" x2="130.3" y2="313.6" stroke="#e4e4e4" stroke-width="0.9" opacity="0.7"/>
<line x1="135.3" y1="314.0" x2="136.3" y2="311.6" stroke="#e99aa2" stroke-width="1" opacity="0.7"/>
<line x1="136.3" y1="311.6" x2="137.3" y2="309.3" stroke="#e4e4e4" stroke-width="0.9" opacity="0.7"/>
<line x1="93.9" y1="317.2" x2="96.0" y2="318.5" stroke="#e99aa2" stroke-width="1" opacity="0.7"/>
<line x1="96.0" y1="318.5" x2="98.0" y2="319.8" stroke="#e4e4e4" stroke-width="0.9" opacity="0.7"/>
<line x1="93.9" y1="317.2" x2="91.9" y2="318.6" stroke="#e99aa2" stroke-width="1" opacity="0.7"/>
<line x1="91.9" y1="318.6" x2="90.0" y2="320.1" stroke="#e4e4e4" stroke-width="0.9" opacity="0.7"/>
<line x1="89.5" y1="335.5" x2="91.8" y2="335.0" stroke="#e99aa2" stroke-width="1" opacity="0.7"/>
<line x1="91.8" y1="335.0" x2="94.1" y2="334.5" stroke="#e4e4e4" stroke-width="0.9" opacity="0.7"/>
<line x1="89.5" y1="335.5" x2="89.3" y2="337.9" stroke="#e99aa2" stroke-width="1" opacity="0.7"/>
<line x1="89.3" y1="337.9" x2="89.0" y2="340.2" stroke="#e4e4e4" stroke-width="0.9" opacity="0.7"/>
<line x1="99.2" y1="309.4" x2="97.3" y2="309.1" stroke="#e99aa2" stroke-width="1" opacity="0.7"/>
<line x1="97.3" y1="309.1" x2="95.4" y2="308.7" stroke="#e4e4e4" stroke-width="0.9" opacity="0.7"/>
<line x1="99.2" y1="309.4" x2="99.8" y2="307.6" stroke="#e99aa2" stroke-width="1" opacity="0.7"/>
<line x1="99.8" y1="307.6" x2="100.5" y2="305.7" stroke="#e4e4e4" stroke-width="0.9" opacity="0.7"/>
<line x1="106.3" y1="309.8" x2="103.8" y2="310.4" stroke="#e99aa2" stroke-width="1" opacity="0.7"/>
<line x1="103.8" y1="310.4" x2="101.3" y2="311.0" stroke="#e4e4e4" stroke-width="0.9" opacity="0.7"/>
<line x1="106.3" y1="309.8" x2="106.4" y2="307.2" stroke="#e99aa2" stroke-width="1" opacity="0.7"/>
<line x1="106.4" y1="307.2" x2="106.5" y2="304.6" stroke="#e4e4e4" stroke-width="0.9" opacity="0.7"/>
<line x1="129.6" y1="326.3" x2="127.4" y2="326.3" stroke="#e99aa2" stroke-width="1" opacity="0.7"/>
<line x1="127.4" y1="326.3" x2="125.2" y2="326.3" stroke="#e4e4e4" stroke-width="0.9" opacity="0.7"/>
<line x1="129.6" y1="326.3" x2="130.3" y2="324.2" stroke="#e99aa2" stroke-width="1" opacity="0.7"/>
<line x1="130.3" y1="324.2" x2="131.0" y2="322.1" stroke="#e4e4e4" stroke-width="0.9" opacity="0.7"/>
<line x1="109.4" y1="335.9" x2="111.8" y2="335.9" stroke="#e99aa2" stroke-width="1" opacity="0.7"/>
<line x1="111.8" y1="335.9" x2="114.3" y2="335.8" stroke="#e4e4e4" stroke-width="0.9" opacity="0.7"/>
<line x1="109.4" y1="335.9" x2="108.5" y2="338.2" stroke="#e99aa2" stroke-width="1" opacity="0.7"/>
<line x1="108.5" y1="338.2" x2="107.7" y2="340.5" stroke="#e4e4e4" stroke-width="0.9" opacity="0.7"/>
<line x1="112.5" y1="315.2" x2="111.9" y2="317.6" stroke="#e99aa2" stroke-width="1" opacity="0.7"/>
<line x1="111.9" y1="317.6" x2="111.3" y2="320.1" stroke="#e4e4e4" stroke-width="0.9" opacity="0.7"/>
<line x1="112.5" y1="315.2" x2="110.2" y2="314.2" stroke="#e99aa2" stroke-width="1" opacity="0.7"/>
<line x1="110.2" y1="314.2" x2="107.8" y2="313.3" stroke="#e4e4e4" stroke-width="0.9" opacity="0.7"/>
<line x1="119.6" y1="331.9" x2="117.7" y2="333.6" stroke="#e99aa2" stroke-width="1" opacity="0.7"/>
<line x1="117.7" y1="333.6" x2="115.7" y2="335.3" stroke="#e4e4e4" stroke-width="0.9" opacity="0.7"/>
<line x1="119.6" y1="331.9" x2="118.9" y2="329.4" stroke="#e99aa2" stroke-width="1" opacity="0.7"/>
<line x1="118.9" y1="329.4" x2="118.1" y2="326.9" stroke="#e4e4e4" stroke-width="0.9" opacity="0.7"/>
<line x1="86.0" y1="314.7" x2="88.4" y2="313.2" stroke="#e99aa2" stroke-width="1" opacity="0.7"/>
<line x1="88.4" y1="313.2" x2="90.7" y2="311.7" stroke="#e4e4e4" stroke-width="0.9" opacity="0.7"/>
<line x1="86.0" y1="314.7" x2="86.8" y2="317.3" stroke="#e99aa2" stroke-width="1" opacity="0.7"/>
<line x1="86.8" y1="317.3" x2="87.6" y2="319.9" stroke="#e4e4e4" stroke-width="0.9" opacity="0.7"/>
<line x1="119.4" y1="311.0" x2="118.0" y2="309.5" stroke="#e99aa2" stroke-width="1" opacity="0.7"/>
<line x1="118.0" y1="309.5" x2="116.6" y2="308.0" stroke="#e4e4e4" stroke-width="0.9" opacity="0.7"/>
<line x1="119.4" y1="311.0" x2="121.2" y2="310.2" stroke="#e99aa2" stroke-width="1" opacity="0.7"/>
<line x1="121.2" y1="310.2" x2="123.1" y2="309.4" stroke="#e4e4e4" stroke-width="0.9" opacity="0.7"/>
<line x1="93.3" y1="318.0" x2="95.1" y2="317.6" stroke="#e99aa2" stroke-width="1" opacity="0.7"/>
<line x1="95.1" y1="317.6" x2="97.0" y2="317.1" stroke="#e4e4e4" stroke-width="0.9" opacity="0.7"/>
<line x1="93.3" y1="318.0" x2="93.1" y2="319.8" stroke="#e99aa2" stroke-width="1" opacity="0.7"/>
<line x1="93.1" y1="319.8" x2="92.8" y2="321.7" stroke="#e4e4e4" stroke-width="0.9" opacity="0.7"/>
<line x1="106.7" y1="311.7" x2="108.5" y2="312.4" stroke="#e99aa2" stroke-width="1" opacity="0.7"/>
<line x1="108.5" y1="312.4" x2="110.3" y2="313.1" stroke="#e4e4e4" stroke-width="0.9" opacity="0.7"/>
<line x1="106.7" y1="311.7" x2="105.4" y2="313.1" stroke="#e99aa2" stroke-width="1" opacity="0.7"/>
<line x1="105.4" y1="313.1" x2="104.1" y2="314.6" stroke="#e4e4e4" stroke-width="0.9" opacity="0.7"/>
<line x1="133.0" y1="321.1" x2="133.7" y2="322.8" stroke="#e99aa2" stroke-width="1" opacity="0.7"/>
<line x1="133.7" y1="322.8" x2="134.4" y2="324.6" stroke="#e4e4e4" stroke-width="0.9" opacity="0.7"/>
<line x1="133.0" y1="321.1" x2="131.1" y2="321.1" stroke="#e99aa2" stroke-width="1" opacity="0.7"/>
<line x1="131.1" y1="321.1" x2="129.2" y2="321.2" stroke="#e4e4e4" stroke-width="0.9" opacity="0.7"/>
<line x1="140.1" y1="312.1" x2="138.3" y2="313.1" stroke="#e99aa2" stroke-width="1" opacity="0.7"/>
<line x1="138.3" y1="313.1" x2="136.5" y2="314.1" stroke="#e4e4e4" stroke-width="0.9" opacity="0.7"/>
<line x1="140.1" y1="312.1" x2="139.5" y2="310.2" stroke="#e99aa2" stroke-width="1" opacity="0.7"/>
<line x1="139.5" y1="310.2" x2="138.9" y2="308.3" stroke="#e4e4e4" stroke-width="0.9" opacity="0.7"/>
<line x1="167.6" y1="330.7" x2="166.9" y2="332.5" stroke="#e99aa2" stroke-width="1" opacity="0.7"/>
<line x1="166.9" y1="332.5" x2="166.2" y2="334.4" stroke="#e4e4e4" stroke-width="0.9" opacity="0.7"/>
<line x1="167.6" y1="330.7" x2="166.1" y2="329.4" stroke="#e99aa2" stroke-width="1" opacity="0.7"/>
<line x1="166.1" y1="329.4" x2="164.6" y2="328.1" stroke="#e4e4e4" stroke-width="0.9" opacity="0.7"/>
<line x1="119.1" y1="332.1" x2="117.4" y2="329.9" stroke="#e99aa2" stroke-width="1" opacity="0.7"/>
<line x1="117.4" y1="329.9" x2="115.7" y2="327.8" stroke="#e4e4e4" stroke-width="0.9" opacity="0.7"/>
<line x1="119.1" y1="332.1" x2="121.5" y2="330.7" stroke="#e99aa2" stroke-width="1" opacity="0.7"/>
<line x1="121.5" y1="330.7" x2="123.9" y2="329.3" stroke="#e4e4e4" stroke-width="0.9" opacity="0.7"/>
<line x1="103.9" y1="316.0" x2="104.2" y2="313.9" stroke="#e99aa2" stroke-width="1" opacity="0.7"/>
<line x1="104.2" y1="313.9" x2="104.5" y2="311.9" stroke="#e4e4e4" stroke-width="0.9" opacity="0.7"/>
<line x1="103.9" y1="316.0" x2="105.8" y2="316.7" stroke="#e99aa2" stroke-width="1" opacity="0.7"/>
<line x1="105.8" y1="316.7" x2="107.7" y2="317.5" stroke="#e4e4e4" stroke-width="0.9" opacity="0.7"/>
<line x1="92.2" y1="311.4" x2="90.1" y2="310.3" stroke="#e99aa2" stroke-width="1" opacity="0.7"/>
<line x1="90.1" y1="310.3" x2="88.1" y2="309.1" stroke="#e4e4e4" stroke-width="0.9" opacity="0.7"/>
<line x1="92.2" y1="311.4" x2="93.7" y2="309.7" stroke="#e99aa2" stroke-width="1" opacity="0.7"/>
<line x1="93.7" y1="309.7" x2="95.3" y2="307.9" stroke="#e4e4e4" stroke-width="0.9" opacity="0.7"/>
<line x1="117.2" y1="321.2" x2="119.5" y2="320.6" stroke="#e99aa2" stroke-width="1" opacity="0.7"/>
<line x1="119.5" y1="320.6" x2="121.7" y2="320.1" stroke="#e4e4e4" stroke-width="0.9" opacity="0.7"/>
<line x1="117.2" y1="321.2" x2="117.2" y2="323.6" stroke="#e99aa2" stroke-width="1" opacity="0.7"/>
<line x1="117.2" y1="323.6" x2="117.1" y2="325.9" stroke="#e4e4e4" stroke-width="0.9" opacity="0.7"/>
<line x1="158.8" y1="313.9" x2="160.2" y2="316.1" stroke="#e99aa2" stroke-width="1" opacity="0.7"/>
<line x1="160.2" y1="316.1" x2="161.7" y2="318.2" stroke="#e4e4e4" stroke-width="0.9" opacity="0.7"/>
<line x1="158.8" y1="313.9" x2="156.3" y2="314.4" stroke="#e99aa2" stroke-width="1" opacity="0.7"/>
<line x1="156.3" y1="314.4" x2="153.8" y2="315.0" stroke="#e4e4e4" stroke-width="0.9" opacity="0.7"/>
<line x1="107.0" y1="314.1" x2="106.8" y2="312.2" stroke="#e99aa2" stroke-width="1" opacity="0.7"/>
<line x1="106.8" y1="312.2" x2="106.7" y2="310.2" stroke="#e4e4e4" stroke-width="0.9" opacity="0.7"/>
<line x1="107.0" y1="314.1" x2="108.8" y2="314.8" stroke="#e99aa2" stroke-width="1" opacity="0.7"/>
<line x1="108.8" y1="314.8" x2="110.6" y2="315.4" stroke="#e4e4e4" stroke-width="0.9" opacity="0.7"/>
<line x1="165.8" y1="332.8" x2="164.3" y2="331.7" stroke="#e99aa2" stroke-width="1" opacity="0.7"/>
<line x1="164.3" y1="331.7" x2="162.9" y2="330.6" stroke="#e4e4e4" stroke-width="0.9" opacity="0.7"/>
<line x1="165.8" y1="332.8" x2="167.3" y2="331.7" stroke="#e99aa2" stroke-width="1" opacity="0.7"/>
<line x1="167.3" y1="331.7" x2="168.7" y2="330.5" stroke="#e4e4e4" stroke-width="0.9" opacity="0.7"/>
<line x1="89.3" y1="335.0" x2="89.4" y2="337.0" stroke="#e99aa2" stroke-width="1" opacity="0.7"/>
<line x1="89.4" y1="337.0" x2="89.5" y2="339.0" stroke="#e4e4e4" stroke-width="0.9" opacity="0.7"/>
<line x1="89.3" y1="335.0" x2="87.3" y2="334.5" stroke="#e99aa2" stroke-width="1" opacity="0.7"/>
<line x1="87.3" y1="334.5" x2="85.4" y2="333.9" stroke="#e4e4e4" stroke-width="0.9" opacity="0.7"/>
<line x1="155.2" y1="325.1" x2="154.5" y2="327.5" stroke="#e99aa2" stroke-width="1" opacity="0.7"/>
<line x1="154.5" y1="327.5" x2="153.9" y2="329.9" stroke="#e4e4e4" stroke-width="0.9" opacity="0.7"/>
<line x1="155.2" y1="325.1" x2="153.0" y2="324.0" stroke="#e99aa2" stroke-width="1" opacity="0.7"/>
<line x1="153.0" y1="324.0" x2="150.8" y2="322.9" stroke="#e4e4e4" stroke-width="0.9" opacity="0.7"/>
<line x1="91.8" y1="315.2" x2="89.6" y2="314.3" stroke="#e99aa2" stroke-width="1" opacity="0.7"/>
<line x1="89.6" y1="314.3" x2="87.4" y2="313.4" stroke="#e4e4e4" stroke-width="0.9" opacity="0.7"/>
<line x1="91.8" y1="315.2" x2="93.4" y2="313.4" stroke="#e99aa2" stroke-width="1" opacity="0.7"/>
<line x1="93.4" y1="313.4" x2="95.0" y2="311.7" stroke="#e4e4e4" stroke-width="0.9" opacity="0.7"/>
<line x1="109.5" y1="333.8" x2="110.1" y2="335.7" stroke="#e99aa2" stroke-width="1" opacity="0.7"/>
<line x1="110.1" y1="335.7" x2="110.7" y2="337.6" stroke="#e4e4e4" stroke-width="0.9" opacity="0.7"/>
<line x1="109.5" y1="333.8" x2="107.5" y2="334.1" stroke="#e99aa2" stroke-width="1" opacity="0.7"/>
<line x1="107.5" y1="334.1" x2="105.5" y2="334.4" stroke="#e4e4e4" stroke-width="0.9" opacity="0.7"/>
<line x1="123.4" y1="310.6" x2="124.5" y2="312.7" stroke="#e99aa2" stroke-width="1" opacity="0.7"/>
<line x1="124.5" y1="312.7" x2="125.5" y2="314.8" stroke="#e4e4e4" stroke-width="0.9" opacity="0.7"/>
<line x1="123.4" y1="310.6" x2="121.2" y2="311.1" stroke="#e99aa2" stroke-width="1" opacity="0.7"/>
<line x1="121.2" y1="311.1" x2="118.9" y2="311.7" stroke="#e4e4e4" stroke-width="0.9" opacity="0.7"/>
<line x1="97.1" y1="318.8" x2="98.9" y2="317.3" stroke="#e99aa2" stroke-width="1" opacity="0.7"/>
<line x1="98.9" y1="317.3" x2="100.8" y2="315.7" stroke="#e4e4e4" stroke-width="0.9" opacity="0.7"/>
<line x1="97.1" y1="318.8" x2="97.7" y2="321.1" stroke="#e99aa2" stroke-width="1" opacity="0.7"/>
<line x1="97.7" y1="321.1" x2="98.3" y2="323.4" stroke="#e4e4e4" stroke-width="0.9" opacity="0.7"/>
<line x1="96.3" y1="340" x2="100.7" y2="336.7" stroke="#e2e626" stroke-width="3.2"/>
<line x1="100.7" y1="336.7" x2="105" y2="333.4" stroke="#e01400" stroke-width="3.2"/>
<line x1="96.3" y1="340" x2="100.1" y2="340.8" stroke="#e2e626" stroke-width="3.2"/>
<line x1="100.1" y1="340.8" x2="103.9" y2="341.6" stroke="#e01400" stroke-width="3.2"/>
<line x1="96.3" y1="340" x2="91.7" y2="341.9" stroke="#e2e626" stroke-width="3.2"/>
<line x1="91.7" y1="341.9" x2="87" y2="343.7" stroke="#e01400" stroke-width="3.2"/>
<line x1="97.9" y1="353" x2="100.9" y2="347.3" stroke="#e2e626" stroke-width="3.2"/>
<line x1="100.9" y1="347.3" x2="103.9" y2="341.6" stroke="#e01400" stroke-width="3.2"/>
<line x1="97.9" y1="353" x2="92.5" y2="348.4" stroke="#e2e626" stroke-width="3.2"/>
<line x1="92.5" y1="348.4" x2="87" y2="343.7" stroke="#e01400" stroke-width="3.2"/>
<line x1="97.9" y1="353" x2="104.7" y2="350.2" stroke="#e2e626" stroke-width="3.2"/>
<line x1="104.7" y1="350.2" x2="111.5" y2="347.5" stroke="#e01400" stroke-width="3.2"/>
<line x1="97.9" y1="353" x2="104.7" y2="354.0" stroke="#e2e626" stroke-width="3.2"/>
<line x1="104.7" y1="354.0" x2="111.5" y2="355" stroke="#e01400" stroke-width="3.2"/>
<line x1="97.9" y1="353" x2="93.0" y2="354.4" stroke="#e2e626" stroke-width="3.2"/>
<line x1="93.0" y1="354.4" x2="88.1" y2="355.7" stroke="#e01400" stroke-width="3.2"/>
<line x1="153.7" y1="338.3" x2="148.6" y2="342.1" stroke="#e2e626" stroke-width="3.2"/>
<line x1="148.6" y1="342.1" x2="143.4" y2="345.9" stroke="#e01400" stroke-width="3.2"/>
<line x1="153.7" y1="338.3" x2="151.0" y2="342.9" stroke="#e2e626" stroke-width="3.2"/>
<line x1="151.0" y1="342.9" x2="148.3" y2="347.5" stroke="#e01400" stroke-width="3.2"/>
<line x1="153.7" y1="338.3" x2="159.1" y2="341.3" stroke="#e2e626" stroke-width="3.2"/>
<line x1="159.1" y1="341.3" x2="164.6" y2="344.3" stroke="#e01400" stroke-width="3.2"/>
<line x1="153.7" y1="353" x2="148.6" y2="349.4" stroke="#e2e626" stroke-width="3.2"/>
<line x1="148.6" y1="349.4" x2="143.4" y2="345.9" stroke="#e01400" stroke-width="3.2"/>
<line x1="153.7" y1="353" x2="151.0" y2="350.2" stroke="#e2e626" stroke-width="3.2"/>
<line x1="151.0" y1="350.2" x2="148.3" y2="347.5" stroke="#e01400" stroke-width="3.2"/>
<line x1="153.7" y1="353" x2="159.1" y2="348.6" stroke="#e2e626" stroke-width="3.2"/>
<line x1="159.1" y1="348.6" x2="164.6" y2="344.3" stroke="#e01400" stroke-width="3.2"/>
<line x1="90.3" y1="386.3" x2="87.6" y2="381.1" stroke="#e2e626" stroke-width="3.2"/>
<line x1="87.6" y1="381.1" x2="84.9" y2="376" stroke="#e01400" stroke-width="3.2"/>
<line x1="126.6" y1="384.6" x2="123.9" y2="378.4" stroke="#e2e626" stroke-width="3.2"/>
<line x1="123.9" y1="378.4" x2="121.2" y2="372.2" stroke="#e01400" stroke-width="3.2"/>
<line x1="126.6" y1="384.6" x2="132.8" y2="381.1" stroke="#e2e626" stroke-width="3.2"/>
<line x1="132.8" y1="381.1" x2="139.1" y2="377.7" stroke="#e01400" stroke-width="3.2"/>
<line x1="145.6" y1="386.3" x2="142.3" y2="382.0" stroke="#e2e626" stroke-width="3.2"/>
<line x1="142.3" y1="382.0" x2="139.1" y2="377.7" stroke="#e01400" stroke-width="3.2"/>
<line x1="100.6" y1="324.2" x2="104.3" y2="325.0" stroke="#e81400" stroke-width="3.6"/>
<line x1="104.3" y1="325.0" x2="108" y2="325.8" stroke="#dddddd" stroke-width="3.6"/>
<line x1="100.6" y1="324.2" x2="107.4" y2="324.8" stroke="#e81400" stroke-width="3.6"/>
<line x1="107.4" y1="324.8" x2="114.2" y2="325.3" stroke="#e81400" stroke-width="3.6"/>
<line x1="100.6" y1="324.2" x2="102.8" y2="328.8" stroke="#e81400" stroke-width="3.6"/>
<line x1="102.8" y1="328.8" x2="105" y2="333.4" stroke="#e81400" stroke-width="3.6"/>
<line x1="108" y1="325.8" x2="111.1" y2="325.6" stroke="#dddddd" stroke-width="3.6"/>
<line x1="111.1" y1="325.6" x2="114.2" y2="325.3" stroke="#e81400" stroke-width="3.6"/>
<line x1="108" y1="325.8" x2="106.5" y2="329.6" stroke="#dddddd" stroke-width="3.6"/>
<line x1="106.5" y1="329.6" x2="105" y2="333.4" stroke="#e81400" stroke-width="3.6"/>
<line x1="96.3" y1="340" x2="97.1" y2="346.5" stroke="#e2e626" stroke-width="3.6"/>
<line x1="97.1" y1="346.5" x2="97.9" y2="353" stroke="#e2e626" stroke-width="3.6"/>
<line x1="103.9" y1="341.6" x2="107.7" y2="344.6" stroke="#e81400" stroke-width="3.6"/>
<line x1="107.7" y1="344.6" x2="111.5" y2="347.5" stroke="#e81400" stroke-width="3.6"/>
<line x1="87" y1="343.7" x2="87.5" y2="349.7" stroke="#e81400" stroke-width="3.6"/>
<line x1="87.5" y1="349.7" x2="88.1" y2="355.7" stroke="#e81400" stroke-width="3.6"/>
<line x1="111.5" y1="347.5" x2="111.5" y2="351.2" stroke="#e81400" stroke-width="3.6"/>
<line x1="111.5" y1="351.2" x2="111.5" y2="355" stroke="#e81400" stroke-width="3.6"/>
<line x1="111.5" y1="355" x2="110.7" y2="359.6" stroke="#e81400" stroke-width="3.6"/>
<line x1="110.7" y1="359.6" x2="109.8" y2="364.1" stroke="#e81400" stroke-width="3.6"/>
<line x1="164.6" y1="344.3" x2="166.5" y2="347.0" stroke="#e81400" stroke-width="3.6"/>
<line x1="166.5" y1="347.0" x2="168.4" y2="349.7" stroke="#c00e00" stroke-width="3.6"/>
<line x1="157.5" y1="360.2" x2="161.3" y2="363.2" stroke="#50bcba" stroke-width="3.6"/>
<line x1="161.3" y1="363.2" x2="165.1" y2="366.3" stroke="#e81400" stroke-width="3.6"/>
<line x1="109.8" y1="364.1" x2="115.5" y2="368.1" stroke="#e81400" stroke-width="3.6"/>
<line x1="115.5" y1="368.1" x2="121.2" y2="372.2" stroke="#e81400" stroke-width="3.6"/>
<line x1="90.8" y1="375.2" x2="90.5" y2="380.8" stroke="#50bcba" stroke-width="3.6"/>
<line x1="90.5" y1="380.8" x2="90.3" y2="386.3" stroke="#e2e626" stroke-width="3.6"/>
<line x1="90.8" y1="375.2" x2="95.2" y2="380.2" stroke="#50bcba" stroke-width="3.6"/>
<line x1="95.2" y1="380.2" x2="99.5" y2="385.2" stroke="#50bcba" stroke-width="3.6"/>
<line x1="141.3" y1="362.5" x2="144.8" y2="364.9" stroke="#e81400" stroke-width="3.6"/>
<line x1="144.8" y1="364.9" x2="148.3" y2="367.4" stroke="#c00e00" stroke-width="3.6"/>
<line x1="148.3" y1="367.4" x2="147.8" y2="371.2" stroke="#c00e00" stroke-width="3.6"/>
<line x1="147.8" y1="371.2" x2="147.2" y2="375" stroke="#50bcba" stroke-width="3.6"/>
<line x1="148.3" y1="367.4" x2="143.7" y2="372.5" stroke="#c00e00" stroke-width="3.6"/>
<line x1="143.7" y1="372.5" x2="139.1" y2="377.7" stroke="#e81400" stroke-width="3.6"/>
<line x1="126.3" y1="345" x2="120.2" y2="335.1" stroke="#4fb8b6" stroke-width="3.8"/>
<line x1="120.2" y1="335.1" x2="114.2" y2="325.3" stroke="#e01400" stroke-width="3.8"/>
<line x1="126.3" y1="345" x2="118.9" y2="346.2" stroke="#4fb8b6" stroke-width="3.8"/>
<line x1="118.9" y1="346.2" x2="111.5" y2="347.5" stroke="#e01400" stroke-width="3.8"/>
<line x1="126.3" y1="345" x2="134.8" y2="345.4" stroke="#4fb8b6" stroke-width="3.8"/>
<line x1="134.8" y1="345.4" x2="143.4" y2="345.9" stroke="#e01400" stroke-width="3.8"/>
<line x1="126.3" y1="345" x2="123.8" y2="358.6" stroke="#4fb8b6" stroke-width="3.8"/>
<line x1="123.8" y1="358.6" x2="121.2" y2="372.2" stroke="#e01400" stroke-width="3.8"/>
<line x1="126.3" y1="345" x2="133.8" y2="353.8" stroke="#4fb8b6" stroke-width="3.8"/>
<line x1="133.8" y1="353.8" x2="141.3" y2="362.5" stroke="#e01400" stroke-width="3.8"/>
<line x1="126.3" y1="345" x2="118.9" y2="350.0" stroke="#4fb8b6" stroke-width="3.8"/>
<line x1="118.9" y1="350.0" x2="111.5" y2="355" stroke="#e01400" stroke-width="3.8"/>
<line x1="126.3" y1="345" x2="125.4" y2="351.5" stroke="#4fb8b6" stroke-width="3.8"/>
<line x1="125.4" y1="351.5" x2="124.5" y2="358" stroke="#e01400" stroke-width="3.8"/>
<circle cx="100.6" cy="324.2" r="3.92" fill="url(#gO)"/>
<circle cx="108" cy="325.8" r="2.30" fill="url(#gH)"/>
<circle cx="114.2" cy="325.3" r="3.92" fill="url(#gO)"/>
<circle cx="105" cy="333.4" r="4.03" fill="url(#gO)"/>
<circle cx="96.3" cy="340" r="4.30" fill="url(#gS)"/>
<circle cx="103.9" cy="341.6" r="3.92" fill="url(#gO)"/>
<circle cx="87" cy="343.7" r="3.92" fill="url(#gO)"/>
<circle cx="111.5" cy="347.5" r="4.03" fill="url(#gO)"/>
<circle cx="111.5" cy="355" r="4.03" fill="url(#gO)"/>
<circle cx="97.9" cy="353" r="4.60" fill="url(#gS)"/>
<circle cx="88.1" cy="355.7" r="4.03" fill="url(#gO)"/>
<circle cx="95.2" cy="362.3" r="3.95" fill="url(#gT)"/>
<circle cx="153.7" cy="338.3" r="4.60" fill="url(#gS)"/>
<circle cx="143.4" cy="345.9" r="4.59" fill="url(#gO)"/>
<circle cx="148.3" cy="347.5" r="4.03" fill="url(#gD)"/>
<circle cx="153.7" cy="353" r="4.80" fill="url(#gS)"/>
<circle cx="164.6" cy="344.3" r="4.59" fill="url(#gO)"/>
<circle cx="168.4" cy="349.7" r="3.92" fill="url(#gD)"/>
<circle cx="157.5" cy="360.2" r="3.64" fill="url(#gT)"/>
<circle cx="109.8" cy="364.1" r="4.59" fill="url(#gO)"/>
<circle cx="90.8" cy="375.2" r="3.74" fill="url(#gT)"/>
<circle cx="84.9" cy="376" r="2.91" fill="url(#gO)"/>
<circle cx="90.3" cy="386.3" r="4.00" fill="url(#gS)"/>
<circle cx="99.5" cy="385.2" r="3.64" fill="url(#gT)"/>
<circle cx="121.2" cy="372.2" r="4.59" fill="url(#gO)"/>
<circle cx="126.6" cy="384.6" r="4.00" fill="url(#gS)"/>
<circle cx="141.3" cy="362.5" r="4.59" fill="url(#gO)"/>
<circle cx="148.3" cy="367.4" r="4.48" fill="url(#gD)"/>
<circle cx="165.1" cy="366.3" r="4.59" fill="url(#gO)"/>
<circle cx="147.2" cy="375" r="3.64" fill="url(#gT)"/>
<circle cx="139.1" cy="377.7" r="4.59" fill="url(#gO)"/>
<circle cx="145.6" cy="386.3" r="4.20" fill="url(#gS)"/>
<circle cx="154.3" cy="385.2" r="3.64" fill="url(#gT)"/>
<circle cx="126.3" cy="345" r="6.84" fill="url(#gT)"/>
</g>
<clipPath id="mc1"><rect x="210.5" y="300" width="89.5" height="87.1"/></clipPath>
<g clip-path="url(#mc1)">
<line x1="258.5" y1="328.6" x2="256.3" y2="326.9" stroke="#e99aa2" stroke-width="1" opacity="0.7"/>
<line x1="256.3" y1="326.9" x2="254.2" y2="325.3" stroke="#e4e4e4" stroke-width="0.9" opacity="0.7"/>
<line x1="258.5" y1="328.6" x2="260.4" y2="326.7" stroke="#e99aa2" stroke-width="1" opacity="0.7"/>
<line x1="260.4" y1="326.7" x2="262.4" y2="324.8" stroke="#e4e4e4" stroke-width="0.9" opacity="0.7"/>
<line x1="256.8" y1="325.4" x2="257.5" y2="323.3" stroke="#e99aa2" stroke-width="1" opacity="0.7"/>
<line x1="257.5" y1="323.3" x2="258.2" y2="321.2" stroke="#e4e4e4" stroke-width="0.9" opacity="0.7"/>
<line x1="256.8" y1="325.4" x2="258.7" y2="326.7" stroke="#e99aa2" stroke-width="1" opacity="0.7"/>
<line x1="258.7" y1="326.7" x2="260.5" y2="328.0" stroke="#e4e4e4" stroke-width="0.9" opacity="0.7"/>
<line x1="271.4" y1="315.0" x2="268.7" y2="314.4" stroke="#e99aa2" stroke-width="1" opacity="0.7"/>
<line x1="268.7" y1="314.4" x2="266.1" y2="313.7" stroke="#e4e4e4" stroke-width="0.9" opacity="0.7"/>
<line x1="271.4" y1="315.0" x2="272.6" y2="312.7" stroke="#e99aa2" stroke-width="1" opacity="0.7"/>
<line x1="272.6" y1="312.7" x2="273.9" y2="310.3" stroke="#e4e4e4" stroke-width="0.9" opacity="0.7"/>
<line x1="290.6" y1="321.3" x2="288.5" y2="321.7" stroke="#e99aa2" stroke-width="1" opacity="0.7"/>
<line x1="288.5" y1="321.7" x2="286.3" y2="322.1" stroke="#e4e4e4" stroke-width="0.9" opacity="0.7"/>
<line x1="290.6" y1="321.3" x2="290.6" y2="319.2" stroke="#e99aa2" stroke-width="1" opacity="0.7"/>
<line x1="290.6" y1="319.2" x2="290.6" y2="317.0" stroke="#e4e4e4" stroke-width="0.9" opacity="0.7"/>
<line x1="281.7" y1="340.9" x2="279.8" y2="341.2" stroke="#e99aa2" stroke-width="1" opacity="0.7"/>
<line x1="279.8" y1="341.2" x2="277.9" y2="341.5" stroke="#e4e4e4" stroke-width="0.9" opacity="0.7"/>
<line x1="281.7" y1="340.9" x2="281.9" y2="339.0" stroke="#e99aa2" stroke-width="1" opacity="0.7"/>
<line x1="281.9" y1="339.0" x2="282.0" y2="337.0" stroke="#e4e4e4" stroke-width="0.9" opacity="0.7"/>
<line x1="265.3" y1="341.7" x2="266.5" y2="343.0" stroke="#e99aa2" stroke-width="1" opacity="0.7"/>
<line x1="266.5" y1="343.0" x2="267.7" y2="344.3" stroke="#e4e4e4" stroke-width="0.9" opacity="0.7"/>
<line x1="265.3" y1="341.7" x2="263.6" y2="342.4" stroke="#e99aa2" stroke-width="1" opacity="0.7"/>
<line x1="263.6" y1="342.4" x2="262.0" y2="343.0" stroke="#e4e4e4" stroke-width="0.9" opacity="0.7"/>
<line x1="230.1" y1="320.0" x2="229.3" y2="318.1" stroke="#e99aa2" stroke-width="1" opacity="0.7"/>
<line x1="229.3" y1="318.1" x2="228.5" y2="316.2" stroke="#e4e4e4" stroke-width="0.9" opacity="0.7"/>
<line x1="230.1" y1="320.0" x2="232.2" y2="319.7" stroke="#e99aa2" stroke-width="1" opacity="0.7"/>
<line x1="232.2" y1="319.7" x2="234.3" y2="319.3" stroke="#e4e4e4" stroke-width="0.9" opacity="0.7"/>
<line x1="265.4" y1="316.3" x2="265.2" y2="314.0" stroke="#e99aa2" stroke-width="1" opacity="0.7"/>
<line x1="265.2" y1="314.0" x2="264.9" y2="311.8" stroke="#e4e4e4" stroke-width="0.9" opacity="0.7"/>
<line x1="265.4" y1="316.3" x2="267.7" y2="316.4" stroke="#e99aa2" stroke-width="1" opacity="0.7"/>
<line x1="267.7" y1="316.4" x2="270.0" y2="316.5" stroke="#e4e4e4" stroke-width="0.9" opacity="0.7"/>
<line x1="234.8" y1="319.1" x2="232.7" y2="318.7" stroke="#e99aa2" stroke-width="1" opacity="0.7"/>
<line x1="232.7" y1="318.7" x2="230.6" y2="318.3" stroke="#e4e4e4" stroke-width="0.9" opacity="0.7"/>
<line x1="234.8" y1="319.1" x2="235.7" y2="317.2" stroke="#e99aa2" stroke-width="1" opacity="0.7"/>
<line x1="235.7" y1="317.2" x2="236.6" y2="315.3" stroke="#e4e4e4" stroke-width="0.9" opacity="0.7"/>
<line x1="248.3" y1="329.4" x2="249.6" y2="331.4" stroke="#e99aa2" stroke-width="1" opacity="0.7"/>
<line x1="249.6" y1="331.4" x2="250.9" y2="333.4" stroke="#e4e4e4" stroke-width="0.9" opacity="0.7"/>
<line x1="248.3" y1="329.4" x2="246.1" y2="330.3" stroke="#e99aa2" stroke-width="1" opacity="0.7"/>
<line x1="246.1" y1="330.3" x2="243.9" y2="331.2" stroke="#e4e4e4" stroke-width="0.9" opacity="0.7"/>
<line x1="267.0" y1="329.4" x2="268.5" y2="327.3" stroke="#e99aa2" stroke-width="1" opacity="0.7"/>
<line x1="268.5" y1="327.3" x2="270.1" y2="325.2" stroke="#e4e4e4" stroke-width="0.9" opacity="0.7"/>
<line x1="267.0" y1="329.4" x2="268.5" y2="331.5" stroke="#e99aa2" stroke-width="1" opacity="0.7"/>
<line x1="268.5" y1="331.5" x2="270.0" y2="333.7" stroke="#e4e4e4" stroke-width="0.9" opacity="0.7"/>
<line x1="233.3" y1="336.0" x2="234.1" y2="334.0" stroke="#e99aa2" stroke-width="1" opacity="0.7"/>
<line x1="234.1" y1="334.0" x2="234.8" y2="332.1" stroke="#e4e4e4" stroke-width="0.9" opacity="0.7"/>
<line x1="233.3" y1="336.0" x2="234.8" y2="337.4" stroke="#e99aa2" stroke-width="1" opacity="0.7"/>
<line x1="234.8" y1="337.4" x2="236.2" y2="338.9" stroke="#e4e4e4" stroke-width="0.9" opacity="0.7"/>
<line x1="240.1" y1="341.6" x2="240.7" y2="344.2" stroke="#e99aa2" stroke-width="1" opacity="0.7"/>
<line x1="240.7" y1="344.2" x2="241.2" y2="346.8" stroke="#e4e4e4" stroke-width="0.9" opacity="0.7"/>
<line x1="240.1" y1="341.6" x2="237.6" y2="341.0" stroke="#e99aa2" stroke-width="1" opacity="0.7"/>
<line x1="237.6" y1="341.0" x2="235.0" y2="340.4" stroke="#e4e4e4" stroke-width="0.9" opacity="0.7"/>
<line x1="225.1" y1="320.4" x2="224.8" y2="318.6" stroke="#e99aa2" stroke-width="1" opacity="0.7"/>
<line x1="224.8" y1="318.6" x2="224.6" y2="316.8" stroke="#e4e4e4" stroke-width="0.9" opacity="0.7"/>
<line x1="225.1" y1="320.4" x2="227.0" y2="320.5" stroke="#e99aa2" stroke-width="1" opacity="0.7"/>
<line x1="227.0" y1="320.5" x2="228.8" y2="320.6" stroke="#e4e4e4" stroke-width="0.9" opacity="0.7"/>
<line x1="283.1" y1="326.1" x2="283.6" y2="324.0" stroke="#e99aa2" stroke-width="1" opacity="0.7"/>
<line x1="283.6" y1="324.0" x2="284.1" y2="321.9" stroke="#e4e4e4" stroke-width="0.9" opacity="0.7"/>
<line x1="283.1" y1="326.1" x2="285.0" y2="326.9" stroke="#e99aa2" stroke-width="1" opacity="0.7"/>
<line x1="285.0" y1="326.9" x2="287.0" y2="327.8" stroke="#e4e4e4" stroke-width="0.9" opacity="0.7"/>
<line x1="270.9" y1="313.6" x2="271.7" y2="316.1" stroke="#e99aa2" stroke-width="1" opacity="0.7"/>
<line x1="271.7" y1="316.1" x2="272.5" y2="318.6" stroke="#e4e4e4" stroke-width="0.9" opacity="0.7"/>
<line x1="270.9" y1="313.6" x2="268.2" y2="313.5" stroke="#e99aa2" stroke-width="1" opacity="0.7"/>
<line x1="268.2" y1="313.5" x2="265.6" y2="313.4" stroke="#e4e4e4" stroke-width="0.9" opacity="0.7"/>
<line x1="294.4" y1="316.6" x2="292.1" y2="316.5" stroke="#e99aa2" stroke-width="1" opacity="0.7"/>
<line x1="292.1" y1="316.5" x2="289.9" y2="316.4" stroke="#e4e4e4" stroke-width="0.9" opacity="0.7"/>
<line x1="294.4" y1="316.6" x2="295.2" y2="314.5" stroke="#e99aa2" stroke-width="1" opacity="0.7"/>
<line x1="295.2" y1="314.5" x2="296.1" y2="312.4" stroke="#e4e4e4" stroke-width="0.9" opacity="0.7"/>
<line x1="270.9" y1="318.9" x2="272.5" y2="319.6" stroke="#e99aa2" stroke-width="1" opacity="0.7"/>
<line x1="272.5" y1="319.6" x2="274.1" y2="320.4" stroke="#e4e4e4" stroke-width="0.9" opacity="0.7"/>
<line x1="270.9" y1="318.9" x2="269.9" y2="320.3" stroke="#e99aa2" stroke-width="1" opacity="0.7"/>
<line x1="269.9" y1="320.3" x2="268.9" y2="321.8" stroke="#e4e4e4" stroke-width="0.9" opacity="0.7"/>
<line x1="259.8" y1="329.0" x2="258.0" y2="328.1" stroke="#e99aa2" stroke-width="1" opacity="0.7"/>
<line x1="258.0" y1="328.1" x2="256.3" y2="327.3" stroke="#e4e4e4" stroke-width="0.9" opacity="0.7"/>
<line x1="259.8" y1="329.0" x2="260.9" y2="327.4" stroke="#e99aa2" stroke-width="1" opacity="0.7"/>
<line x1="260.9" y1="327.4" x2="262.0" y2="325.8" stroke="#e4e4e4" stroke-width="0.9" opacity="0.7"/>
<line x1="230.9" y1="339.0" x2="232.8" y2="338.9" stroke="#e99aa2" stroke-width="1" opacity="0.7"/>
<line x1="232.8" y1="338.9" x2="234.6" y2="338.8" stroke="#e4e4e4" stroke-width="0.9" opacity="0.7"/>
<line x1="230.9" y1="339.0" x2="230.3" y2="340.8" stroke="#e99aa2" stroke-width="1" opacity="0.7"/>
<line x1="230.3" y1="340.8" x2="229.7" y2="342.5" stroke="#e4e4e4" stroke-width="0.9" opacity="0.7"/>
<line x1="219.1" y1="342.5" x2="217.1" y2="343.0" stroke="#e99aa2" stroke-width="1" opacity="0.7"/>
<line x1="217.1" y1="343.0" x2="215.1" y2="343.5" stroke="#e4e4e4" stroke-width="0.9" opacity="0.7"/>
<line x1="219.1" y1="342.5" x2="219.4" y2="340.4" stroke="#e99aa2" stroke-width="1" opacity="0.7"/>
<line x1="219.4" y1="340.4" x2="219.6" y2="338.4" stroke="#e4e4e4" stroke-width="0.9" opacity="0.7"/>
<line x1="252.8" y1="329.0" x2="251.2" y2="329.7" stroke="#e99aa2" stroke-width="1" opacity="0.7"/>
<line x1="251.2" y1="329.7" x2="249.6" y2="330.5" stroke="#e4e4e4" stroke-width="0.9" opacity="0.7"/>
<line x1="252.8" y1="329.0" x2="252.5" y2="327.2" stroke="#e99aa2" stroke-width="1" opacity="0.7"/>
<line x1="252.5" y1="327.2" x2="252.3" y2="325.5" stroke="#e4e4e4" stroke-width="0.9" opacity="0.7"/>
<line x1="272.2" y1="339.2" x2="273.2" y2="341.4" stroke="#e99aa2" stroke-width="1" opacity="0.7"/>
<line x1="273.2" y1="341.4" x2="274.3" y2="343.7" stroke="#e4e4e4" stroke-width="0.9" opacity="0.7"/>
<line x1="272.2" y1="339.2" x2="269.7" y2="339.6" stroke="#e99aa2" stroke-width="1" opacity="0.7"/>
<line x1="269.7" y1="339.6" x2="267.3" y2="340.0" stroke="#e4e4e4" stroke-width="0.9" opacity="0.7"/>
<line x1="247.6" y1="319.0" x2="248.5" y2="320.6" stroke="#e99aa2" stroke-width="1" opacity="0.7"/>
<line x1="248.5" y1="320.6" x2="249.4" y2="322.1" stroke="#e4e4e4" stroke-width="0.9" opacity="0.7"/>
<line x1="247.6" y1="319.0" x2="245.9" y2="319.5" stroke="#e99aa2" stroke-width="1" opacity="0.7"/>
<line x1="245.9" y1="319.5" x2="244.2" y2="319.9" stroke="#e4e4e4" stroke-width="0.9" opacity="0.7"/>
<line x1="288.1" y1="337.9" x2="287.5" y2="335.6" stroke="#e99aa2" stroke-width="1" opacity="0.7"/>
<line x1="287.5" y1="335.6" x2="286.8" y2="333.3" stroke="#e4e4e4" stroke-width="0.9" opacity="0.7"/>
<line x1="288.1" y1="337.9" x2="290.5" y2="338.1" stroke="#e99aa2" stroke-width="1" opacity="0.7"/>
<line x1="290.5" y1="338.1" x2="292.9" y2="338.3" stroke="#e4e4e4" stroke-width="0.9" opacity="0.7"/>
<line x1="247.6" y1="331.6" x2="245.0" y2="331.5" stroke="#e99aa2" stroke-width="1" opacity="0.7"/>
<line x1="245.0" y1="331.5" x2="242.5" y2="331.5" stroke="#e4e4e4" stroke-width="0.9" opacity="0.7"/>
<line x1="247.6" y1="331.6" x2="248.7" y2="329.3" stroke="#e99aa2" stroke-width="1" opacity="0.7"/>
<line x1="248.7" y1="329.3" x2="249.8" y2="327.0" stroke="#e4e4e4" stroke-width="0.9" opacity="0.7"/>
<line x1="235.4" y1="341.3" x2="235.3" y2="338.7" stroke="#e99aa2" stroke-width="1" opacity="0.7"/>
<line x1="235.3" y1="338.7" x2="235.3" y2="336.1" stroke="#e4e4e4" stroke-width="0.9" opacity="0.7"/>
<line x1="235.4" y1="341.3" x2="237.9" y2="342.1" stroke="#e99aa2" stroke-width="1" opacity="0.7"/>
<line x1="237.9" y1="342.1" x2="240.3" y2="342.9" stroke="#e4e4e4" stroke-width="0.9" opacity="0.7"/>
<line x1="247.7" y1="340.8" x2="249.5" y2="339.1" stroke="#e99aa2" stroke-width="1" opacity="0.7"/>
<line x1="249.5" y1="339.1" x2="251.3" y2="337.3" stroke="#e4e4e4" stroke-width="0.9" opacity="0.7"/>
<line x1="247.7" y1="340.8" x2="248.7" y2="343.1" stroke="#e99aa2" stroke-width="1" opacity="0.7"/>
<line x1="248.7" y1="343.1" x2="249.7" y2="345.4" stroke="#e4e4e4" stroke-width="0.9" opacity="0.7"/>
<line x1="277.5" y1="325.6" x2="277.2" y2="323.5" stroke="#e99aa2" stroke-width="1" opacity="0.7"/>
<line x1="277.2" y1="323.5" x2="276.8" y2="321.5" stroke="#e4e4e4" stroke-width="0.9" opacity="0.7"/>
<line x1="277.5" y1="325.6" x2="279.6" y2="325.5" stroke="#e99aa2" stroke-width="1" opacity="0.7"/>
<line x1="279.6" y1="325.5" x2="281.7" y2="325.5" stroke="#e4e4e4" stroke-width="0.9" opacity="0.7"/>
<line x1="252.9" y1="313.3" x2="251.5" y2="315.2" stroke="#e99aa2" stroke-width="1" opacity="0.7"/>
<line x1="251.5" y1="315.2" x2="250.0" y2="317.1" stroke="#e4e4e4" stroke-width="0.9" opacity="0.7"/>
<line x1="252.9" y1="313.3" x2="251.6" y2="311.4" stroke="#e99aa2" stroke-width="1" opacity="0.7"/>
<line x1="251.6" y1="311.4" x2="250.3" y2="309.4" stroke="#e4e4e4" stroke-width="0.9" opacity="0.7"/>
<line x1="221.6" y1="348.7" x2="225.6" y2="348.4" stroke="#e2e626" stroke-width="3.2"/>
<line x1="225.6" y1="348.4" x2="229.7" y2="348.2" stroke="#e01400" stroke-width="3.2"/>
<line x1="221.6" y1="348.7" x2="217.2" y2="350.6" stroke="#e2e626" stroke-width="3.2"/>
<line x1="217.2" y1="350.6" x2="212.9" y2="352.5" stroke="#e01400" stroke-width="3.2"/>
<line x1="221.6" y1="348.7" x2="216.9" y2="353.9" stroke="#e2e626" stroke-width="3.2"/>
<line x1="216.9" y1="353.9" x2="212.3" y2="359" stroke="#e01400" stroke-width="3.2"/>
<line x1="223.7" y1="360.1" x2="226.7" y2="354.1" stroke="#e2e626" stroke-width="3.2"/>
<line x1="226.7" y1="354.1" x2="229.7" y2="348.2" stroke="#e01400" stroke-width="3.2"/>
<line x1="223.7" y1="360.1" x2="228.8" y2="359.1" stroke="#e2e626" stroke-width="3.2"/>
<line x1="228.8" y1="359.1" x2="234" y2="358" stroke="#e01400" stroke-width="3.2"/>
<line x1="223.7" y1="360.1" x2="229.9" y2="362.3" stroke="#e2e626" stroke-width="3.2"/>
<line x1="229.9" y1="362.3" x2="236.2" y2="364.5" stroke="#e01400" stroke-width="3.2"/>
<line x1="223.7" y1="360.1" x2="218.3" y2="356.3" stroke="#e2e626" stroke-width="3.2"/>
<line x1="218.3" y1="356.3" x2="212.9" y2="352.5" stroke="#e01400" stroke-width="3.2"/>
<line x1="223.7" y1="360.1" x2="218.0" y2="359.6" stroke="#e2e626" stroke-width="3.2"/>
<line x1="218.0" y1="359.6" x2="212.3" y2="359" stroke="#e01400" stroke-width="3.2"/>
<line x1="223.7" y1="360.1" x2="220.4" y2="365.8" stroke="#e2e626" stroke-width="3.2"/>
<line x1="220.4" y1="365.8" x2="217.2" y2="371.4" stroke="#e01400" stroke-width="3.2"/>
<line x1="223.7" y1="360.1" x2="230.2" y2="362.8" stroke="#e2e626" stroke-width="3.2"/>
<line x1="230.2" y1="362.8" x2="236.7" y2="365.4" stroke="#e01400" stroke-width="3.2"/>
<line x1="281.3" y1="344.4" x2="275.4" y2="342.2" stroke="#e2e626" stroke-width="3.2"/>
<line x1="275.4" y1="342.2" x2="269.4" y2="340.1" stroke="#e01400" stroke-width="3.2"/>
<line x1="281.3" y1="344.4" x2="286.5" y2="347.1" stroke="#e2e626" stroke-width="3.2"/>
<line x1="286.5" y1="347.1" x2="291.6" y2="349.8" stroke="#e01400" stroke-width="3.2"/>
<line x1="280.7" y1="359" x2="286.1" y2="354.4" stroke="#e2e626" stroke-width="3.2"/>
<line x1="286.1" y1="354.4" x2="291.6" y2="349.8" stroke="#e01400" stroke-width="3.2"/>
<line x1="280.7" y1="359" x2="273.9" y2="355.8" stroke="#e2e626" stroke-width="3.2"/>
<line x1="273.9" y1="355.8" x2="267.2" y2="352.5" stroke="#e01400" stroke-width="3.2"/>
<line x1="280.7" y1="359" x2="279.4" y2="360.1" stroke="#e2e626" stroke-width="3.2"/>
<line x1="279.4" y1="360.1" x2="278" y2="361.2" stroke="#e01400" stroke-width="3.2"/>
<line x1="280.7" y1="359" x2="285.0" y2="358.8" stroke="#e2e626" stroke-width="3.2"/>
<line x1="285.0" y1="358.8" x2="289.4" y2="358.5" stroke="#e01400" stroke-width="3.2"/>
<line x1="280.7" y1="359" x2="275.5" y2="362.3" stroke="#e2e626" stroke-width="3.2"/>
<line x1="275.5" y1="362.3" x2="270.4" y2="365.6" stroke="#e01400" stroke-width="3.2"/>
<line x1="280.7" y1="359" x2="275.0" y2="362.2" stroke="#e2e626" stroke-width="3.2"/>
<line x1="275.0" y1="362.2" x2="269.4" y2="365.4" stroke="#e01400" stroke-width="3.2"/>
<line x1="227" y1="375.2" x2="231.6" y2="369.9" stroke="#e2e626" stroke-width="3.2"/>
<line x1="231.6" y1="369.9" x2="236.2" y2="364.5" stroke="#e01400" stroke-width="3.2"/>
<line x1="227" y1="375.2" x2="222.1" y2="373.3" stroke="#e2e626" stroke-width="3.2"/>
<line x1="222.1" y1="373.3" x2="217.2" y2="371.4" stroke="#e01400" stroke-width="3.2"/>
<line x1="227" y1="375.2" x2="232.4" y2="379.8" stroke="#e2e626" stroke-width="3.2"/>
<line x1="232.4" y1="379.8" x2="237.8" y2="384.4" stroke="#e01400" stroke-width="3.2"/>
<line x1="227" y1="375.2" x2="231.8" y2="370.3" stroke="#e2e626" stroke-width="3.2"/>
<line x1="231.8" y1="370.3" x2="236.7" y2="365.4" stroke="#e01400" stroke-width="3.2"/>
<line x1="279.1" y1="371.4" x2="278.6" y2="366.3" stroke="#e2e626" stroke-width="3.2"/>
<line x1="278.6" y1="366.3" x2="278" y2="361.2" stroke="#e01400" stroke-width="3.2"/>
<line x1="279.1" y1="371.4" x2="274.8" y2="368.5" stroke="#e2e626" stroke-width="3.2"/>
<line x1="274.8" y1="368.5" x2="270.4" y2="365.6" stroke="#e01400" stroke-width="3.2"/>
<line x1="279.1" y1="371.4" x2="274.2" y2="368.4" stroke="#e2e626" stroke-width="3.2"/>
<line x1="274.2" y1="368.4" x2="269.4" y2="365.4" stroke="#e01400" stroke-width="3.2"/>
<line x1="225.4" y1="331.9" x2="229.4" y2="334.9" stroke="#e81400" stroke-width="3.6"/>
<line x1="229.4" y1="334.9" x2="233.5" y2="337.9" stroke="#dddddd" stroke-width="3.6"/>
<line x1="225.4" y1="331.9" x2="227.2" y2="337.9" stroke="#e81400" stroke-width="3.6"/>
<line x1="227.2" y1="337.9" x2="229.1" y2="343.9" stroke="#50bcba" stroke-width="3.6"/>
<line x1="233.5" y1="337.9" x2="231.6" y2="343.0" stroke="#dddddd" stroke-width="3.6"/>
<line x1="231.6" y1="343.0" x2="229.7" y2="348.2" stroke="#e81400" stroke-width="3.6"/>
<line x1="221.6" y1="348.7" x2="222.6" y2="354.4" stroke="#e2e626" stroke-width="3.6"/>
<line x1="222.6" y1="354.4" x2="223.7" y2="360.1" stroke="#e2e626" stroke-width="3.6"/>
<line x1="229.7" y1="348.2" x2="231.8" y2="353.1" stroke="#e81400" stroke-width="3.6"/>
<line x1="231.8" y1="353.1" x2="234" y2="358" stroke="#e81400" stroke-width="3.6"/>
<line x1="234" y1="358" x2="240.0" y2="361.2" stroke="#e81400" stroke-width="3.6"/>
<line x1="240.0" y1="361.2" x2="246" y2="364.5" stroke="#50bcba" stroke-width="3.6"/>
<line x1="234" y1="358" x2="235.3" y2="361.7" stroke="#e81400" stroke-width="3.6"/>
<line x1="235.3" y1="361.7" x2="236.7" y2="365.4" stroke="#e81400" stroke-width="3.6"/>
<line x1="212.9" y1="352.5" x2="212.6" y2="355.8" stroke="#e81400" stroke-width="3.6"/>
<line x1="212.6" y1="355.8" x2="212.3" y2="359" stroke="#e81400" stroke-width="3.6"/>
<line x1="212.3" y1="359" x2="214.8" y2="365.2" stroke="#e81400" stroke-width="3.6"/>
<line x1="214.8" y1="365.2" x2="217.2" y2="371.4" stroke="#e81400" stroke-width="3.6"/>
<line x1="246" y1="364.5" x2="247.3" y2="369.9" stroke="#50bcba" stroke-width="3.6"/>
<line x1="247.3" y1="369.9" x2="248.7" y2="375.2" stroke="#50bcba" stroke-width="3.6"/>
<line x1="269.4" y1="340.1" x2="274.0" y2="343.4" stroke="#e81400" stroke-width="3.6"/>
<line x1="274.0" y1="343.4" x2="278.6" y2="346.6" stroke="#dddddd" stroke-width="3.6"/>
<line x1="269.4" y1="340.1" x2="268.3" y2="346.3" stroke="#e81400" stroke-width="3.6"/>
<line x1="268.3" y1="346.3" x2="267.2" y2="352.5" stroke="#c00e00" stroke-width="3.6"/>
<line x1="278.6" y1="346.6" x2="285.1" y2="348.2" stroke="#dddddd" stroke-width="3.6"/>
<line x1="285.1" y1="348.2" x2="291.6" y2="349.8" stroke="#e81400" stroke-width="3.6"/>
<line x1="278.6" y1="346.6" x2="279.6" y2="352.8" stroke="#dddddd" stroke-width="3.6"/>
<line x1="279.6" y1="352.8" x2="280.7" y2="359" stroke="#e2e626" stroke-width="3.6"/>
<line x1="291.6" y1="349.8" x2="294.1" y2="354.1" stroke="#e81400" stroke-width="3.6"/>
<line x1="294.1" y1="354.1" x2="296.5" y2="358.5" stroke="#e81400" stroke-width="3.6"/>
<line x1="267.2" y1="352.5" x2="272.6" y2="356.9" stroke="#c00e00" stroke-width="3.6"/>
<line x1="272.6" y1="356.9" x2="278" y2="361.2" stroke="#e81400" stroke-width="3.6"/>
<line x1="267.2" y1="352.5" x2="268.3" y2="358.9" stroke="#c00e00" stroke-width="3.6"/>
<line x1="268.3" y1="358.9" x2="269.4" y2="365.4" stroke="#e81400" stroke-width="3.6"/>
<line x1="280.7" y1="359" x2="279.9" y2="365.2" stroke="#e2e626" stroke-width="3.6"/>
<line x1="279.9" y1="365.2" x2="279.1" y2="371.4" stroke="#e2e626" stroke-width="3.6"/>
<line x1="278" y1="361.2" x2="283.7" y2="359.9" stroke="#e81400" stroke-width="3.6"/>
<line x1="283.7" y1="359.9" x2="289.4" y2="358.5" stroke="#e81400" stroke-width="3.6"/>
<line x1="278" y1="361.2" x2="274.2" y2="363.4" stroke="#e81400" stroke-width="3.6"/>
<line x1="274.2" y1="363.4" x2="270.4" y2="365.6" stroke="#e81400" stroke-width="3.6"/>
<line x1="278" y1="361.2" x2="273.7" y2="363.3" stroke="#e81400" stroke-width="3.6"/>
<line x1="273.7" y1="363.3" x2="269.4" y2="365.4" stroke="#e81400" stroke-width="3.6"/>
<line x1="289.4" y1="358.5" x2="292.9" y2="358.5" stroke="#e81400" stroke-width="3.6"/>
<line x1="292.9" y1="358.5" x2="296.5" y2="358.5" stroke="#e81400" stroke-width="3.6"/>
<line x1="237.8" y1="384.4" x2="243.2" y2="383.9" stroke="#e81400" stroke-width="3.6"/>
<line x1="243.2" y1="383.9" x2="248.7" y2="383.3" stroke="#c00e00" stroke-width="3.6"/>
<line x1="284" y1="378.4" x2="287.2" y2="380.6" stroke="#50bcba" stroke-width="3.6"/>
<line x1="287.2" y1="380.6" x2="290.5" y2="382.8" stroke="#e81400" stroke-width="3.6"/>
<line x1="267.2" y1="383.3" x2="270.4" y2="384.4" stroke="#e81400" stroke-width="3.6"/>
<line x1="270.4" y1="384.4" x2="273.7" y2="385.5" stroke="#50bcba" stroke-width="3.6"/>
<line x1="255.5" y1="357" x2="248.0" y2="347.2" stroke="#4fb8b6" stroke-width="3.8"/>
<line x1="248.0" y1="347.2" x2="240.5" y2="337.4" stroke="#e01400" stroke-width="3.8"/>
<line x1="255.5" y1="357" x2="262.4" y2="348.6" stroke="#4fb8b6" stroke-width="3.8"/>
<line x1="262.4" y1="348.6" x2="269.4" y2="340.1" stroke="#e01400" stroke-width="3.8"/>
<line x1="255.5" y1="357" x2="244.8" y2="357.5" stroke="#4fb8b6" stroke-width="3.8"/>
<line x1="244.8" y1="357.5" x2="234" y2="358" stroke="#e01400" stroke-width="3.8"/>
<line x1="255.5" y1="357" x2="261.4" y2="354.8" stroke="#4fb8b6" stroke-width="3.8"/>
<line x1="261.4" y1="354.8" x2="267.2" y2="352.5" stroke="#e01400" stroke-width="3.8"/>
<line x1="255.5" y1="357" x2="262.4" y2="361.2" stroke="#4fb8b6" stroke-width="3.8"/>
<line x1="262.4" y1="361.2" x2="269.4" y2="365.4" stroke="#e01400" stroke-width="3.8"/>
<line x1="255.5" y1="357" x2="246.1" y2="361.2" stroke="#4fb8b6" stroke-width="3.8"/>
<line x1="246.1" y1="361.2" x2="236.7" y2="365.4" stroke="#e01400" stroke-width="3.8"/>
<line x1="255.5" y1="357" x2="258.1" y2="360.6" stroke="#4fb8b6" stroke-width="3.8"/>
<line x1="258.1" y1="360.6" x2="260.7" y2="364.3" stroke="#e01400" stroke-width="3.8"/>
<circle cx="225.4" cy="331.9" r="4.03" fill="url(#gO)"/>
<circle cx="233.5" cy="337.9" r="2.40" fill="url(#gH)"/>
<circle cx="240.5" cy="337.4" r="4.03" fill="url(#gO)"/>
<circle cx="229.1" cy="343.9" r="3.64" fill="url(#gT)"/>
<circle cx="221.6" cy="348.7" r="4.60" fill="url(#gS)"/>
<circle cx="229.7" cy="348.2" r="4.03" fill="url(#gO)"/>
<circle cx="223.7" cy="360.1" r="4.60" fill="url(#gS)"/>
<circle cx="234" cy="358" r="4.48" fill="url(#gO)"/>
<circle cx="236.2" cy="364.5" r="4.48" fill="url(#gO)"/>
<circle cx="212.9" cy="352.5" r="2.91" fill="url(#gO)"/>
<circle cx="212.3" cy="359" r="2.91" fill="url(#gO)"/>
<circle cx="246" cy="364.5" r="3.64" fill="url(#gT)"/>
<circle cx="269.4" cy="340.1" r="4.48" fill="url(#gO)"/>
<circle cx="281.3" cy="344.4" r="4.50" fill="url(#gS)"/>
<circle cx="278.6" cy="346.6" r="2.40" fill="url(#gH)"/>
<circle cx="291.6" cy="349.8" r="4.59" fill="url(#gO)"/>
<circle cx="267.2" cy="352.5" r="4.48" fill="url(#gD)"/>
<circle cx="280.7" cy="359" r="4.60" fill="url(#gS)"/>
<circle cx="278" cy="361.2" r="4.48" fill="url(#gO)"/>
<circle cx="289.4" cy="358.5" r="4.59" fill="url(#gO)"/>
<circle cx="296.5" cy="358.5" r="3.92" fill="url(#gO)"/>
<circle cx="270.4" cy="365.6" r="4.48" fill="url(#gO)"/>
<circle cx="217.2" cy="371.4" r="4.59" fill="url(#gO)"/>
<circle cx="219.9" cy="373.6" r="3.12" fill="url(#gT)"/>
<circle cx="227" cy="375.2" r="5.00" fill="url(#gS)"/>
<circle cx="237.8" cy="384.4" r="4.48" fill="url(#gO)"/>
<circle cx="213.4" cy="385.5" r="3.36" fill="url(#gO)"/>
<circle cx="248.7" cy="375.2" r="3.74" fill="url(#gT)"/>
<circle cx="248.7" cy="383.3" r="4.48" fill="url(#gD)"/>
<circle cx="236.7" cy="365.4" r="4.48" fill="url(#gO)"/>
<circle cx="269.4" cy="365.4" r="4.48" fill="url(#gO)"/>
<circle cx="279.1" cy="371.4" r="5.00" fill="url(#gS)"/>
<circle cx="284" cy="378.4" r="3.74" fill="url(#gT)"/>
<circle cx="290.5" cy="382.8" r="4.59" fill="url(#gO)"/>
<circle cx="267.2" cy="383.3" r="4.59" fill="url(#gO)"/>
<circle cx="273.7" cy="385.5" r="3.64" fill="url(#gT)"/>
<circle cx="255.5" cy="357" r="7.32" fill="url(#gT)"/>
</g>
<clipPath id="mc2"><rect x="339" y="255" width="88.5" height="78.0"/></clipPath>
<g clip-path="url(#mc2)">
<line x1="383.0" y1="275.2" x2="382.5" y2="272.6" stroke="#e99aa2" stroke-width="1" opacity="0.7"/>
<line x1="382.5" y1="272.6" x2="382.0" y2="270.0" stroke="#e4e4e4" stroke-width="0.9" opacity="0.7"/>
<line x1="383.0" y1="275.2" x2="385.6" y2="275.6" stroke="#e99aa2" stroke-width="1" opacity="0.7"/>
<line x1="385.6" y1="275.6" x2="388.2" y2="276.0" stroke="#e4e4e4" stroke-width="0.9" opacity="0.7"/>
<line x1="376.1" y1="284.4" x2="374.8" y2="282.2" stroke="#e99aa2" stroke-width="1" opacity="0.7"/>
<line x1="374.8" y1="282.2" x2="373.5" y2="280.0" stroke="#e4e4e4" stroke-width="0.9" opacity="0.7"/>
<line x1="376.1" y1="284.4" x2="378.6" y2="284.1" stroke="#e99aa2" stroke-width="1" opacity="0.7"/>
<line x1="378.6" y1="284.1" x2="381.1" y2="283.7" stroke="#e4e4e4" stroke-width="0.9" opacity="0.7"/>
<line x1="411.2" y1="286.4" x2="413.4" y2="285.8" stroke="#e99aa2" stroke-width="1" opacity="0.7"/>
<line x1="413.4" y1="285.8" x2="415.6" y2="285.2" stroke="#e4e4e4" stroke-width="0.9" opacity="0.7"/>
<line x1="411.2" y1="286.4" x2="411.1" y2="288.7" stroke="#e99aa2" stroke-width="1" opacity="0.7"/>
<line x1="411.1" y1="288.7" x2="411.0" y2="291.0" stroke="#e4e4e4" stroke-width="0.9" opacity="0.7"/>
<line x1="400.9" y1="283.7" x2="399.3" y2="284.6" stroke="#e99aa2" stroke-width="1" opacity="0.7"/>
<line x1="399.3" y1="284.6" x2="397.6" y2="285.5" stroke="#e4e4e4" stroke-width="0.9" opacity="0.7"/>
<line x1="400.9" y1="283.7" x2="400.5" y2="281.8" stroke="#e99aa2" stroke-width="1" opacity="0.7"/>
<line x1="400.5" y1="281.8" x2="400.0" y2="280.0" stroke="#e4e4e4" stroke-width="0.9" opacity="0.7"/>
<line x1="403.5" y1="289.7" x2="402.1" y2="291.1" stroke="#e99aa2" stroke-width="1" opacity="0.7"/>
<line x1="402.1" y1="291.1" x2="400.7" y2="292.5" stroke="#e4e4e4" stroke-width="0.9" opacity="0.7"/>
<line x1="403.5" y1="289.7" x2="402.4" y2="288.1" stroke="#e99aa2" stroke-width="1" opacity="0.7"/>
<line x1="402.4" y1="288.1" x2="401.3" y2="286.5" stroke="#e4e4e4" stroke-width="0.9" opacity="0.7"/>
<line x1="377.3" y1="267.3" x2="379.3" y2="267.0" stroke="#e99aa2" stroke-width="1" opacity="0.7"/>
<line x1="379.3" y1="267.0" x2="381.3" y2="266.6" stroke="#e4e4e4" stroke-width="0.9" opacity="0.7"/>
<line x1="377.3" y1="267.3" x2="377.4" y2="269.4" stroke="#e99aa2" stroke-width="1" opacity="0.7"/>
<line x1="377.4" y1="269.4" x2="377.4" y2="271.5" stroke="#e4e4e4" stroke-width="0.9" opacity="0.7"/>
<line x1="351.5" y1="278.7" x2="351.8" y2="276.9" stroke="#e99aa2" stroke-width="1" opacity="0.7"/>
<line x1="351.8" y1="276.9" x2="352.1" y2="275.2" stroke="#e4e4e4" stroke-width="0.9" opacity="0.7"/>
<line x1="351.5" y1="278.7" x2="353.2" y2="279.3" stroke="#e99aa2" stroke-width="1" opacity="0.7"/>
<line x1="353.2" y1="279.3" x2="354.9" y2="280.0" stroke="#e4e4e4" stroke-width="0.9" opacity="0.7"/>
<line x1="380.1" y1="276.7" x2="381.6" y2="275.7" stroke="#e99aa2" stroke-width="1" opacity="0.7"/>
<line x1="381.6" y1="275.7" x2="383.2" y2="274.7" stroke="#e4e4e4" stroke-width="0.9" opacity="0.7"/>
<line x1="380.1" y1="276.7" x2="380.9" y2="278.4" stroke="#e99aa2" stroke-width="1" opacity="0.7"/>
<line x1="380.9" y1="278.4" x2="381.6" y2="280.1" stroke="#e4e4e4" stroke-width="0.9" opacity="0.7"/>
<line x1="357.3" y1="265.0" x2="357.5" y2="267.3" stroke="#e99aa2" stroke-width="1" opacity="0.7"/>
<line x1="357.5" y1="267.3" x2="357.7" y2="269.6" stroke="#e4e4e4" stroke-width="0.9" opacity="0.7"/>
<line x1="357.3" y1="265.0" x2="355.0" y2="264.4" stroke="#e99aa2" stroke-width="1" opacity="0.7"/>
<line x1="355.0" y1="264.4" x2="352.8" y2="263.8" stroke="#e4e4e4" stroke-width="0.9" opacity="0.7"/>
<line x1="360.6" y1="263.9" x2="360.1" y2="266.4" stroke="#e99aa2" stroke-width="1" opacity="0.7"/>
<line x1="360.1" y1="266.4" x2="359.6" y2="268.8" stroke="#e4e4e4" stroke-width="0.9" opacity="0.7"/>
<line x1="360.6" y1="263.9" x2="358.3" y2="263.0" stroke="#e99aa2" stroke-width="1" opacity="0.7"/>
<line x1="358.3" y1="263.0" x2="355.9" y2="262.1" stroke="#e4e4e4" stroke-width="0.9" opacity="0.7"/>
<line x1="367.9" y1="275.5" x2="368.7" y2="273.7" stroke="#e99aa2" stroke-width="1" opacity="0.7"/>
<line x1="368.7" y1="273.7" x2="369.5" y2="271.9" stroke="#e4e4e4" stroke-width="0.9" opacity="0.7"/>
<line x1="367.9" y1="275.5" x2="369.4" y2="276.8" stroke="#e99aa2" stroke-width="1" opacity="0.7"/>
<line x1="369.4" y1="276.8" x2="371.0" y2="278.1" stroke="#e4e4e4" stroke-width="0.9" opacity="0.7"/>
<line x1="415.7" y1="287.3" x2="414.2" y2="289.5" stroke="#e99aa2" stroke-width="1" opacity="0.7"/>
<line x1="414.2" y1="289.5" x2="412.7" y2="291.8" stroke="#e4e4e4" stroke-width="0.9" opacity="0.7"/>
<line x1="415.7" y1="287.3" x2="413.9" y2="285.2" stroke="#e99aa2" stroke-width="1" opacity="0.7"/>
<line x1="413.9" y1="285.2" x2="412.2" y2="283.1" stroke="#e4e4e4" stroke-width="0.9" opacity="0.7"/>
<line x1="382.1" y1="265.1" x2="384.5" y2="265.9" stroke="#e99aa2" stroke-width="1" opacity="0.7"/>
<line x1="384.5" y1="265.9" x2="386.9" y2="266.6" stroke="#e4e4e4" stroke-width="0.9" opacity="0.7"/>
<line x1="382.1" y1="265.1" x2="380.4" y2="267.0" stroke="#e99aa2" stroke-width="1" opacity="0.7"/>
<line x1="380.4" y1="267.0" x2="378.7" y2="268.9" stroke="#e4e4e4" stroke-width="0.9" opacity="0.7"/>
<line x1="374.0" y1="274.9" x2="371.2" y2="274.6" stroke="#e99aa2" stroke-width="1" opacity="0.7"/>
<line x1="371.2" y1="274.6" x2="368.5" y2="274.3" stroke="#e4e4e4" stroke-width="0.9" opacity="0.7"/>
<line x1="374.0" y1="274.9" x2="374.8" y2="272.3" stroke="#e99aa2" stroke-width="1" opacity="0.7"/>
<line x1="374.8" y1="272.3" x2="375.6" y2="269.7" stroke="#e4e4e4" stroke-width="0.9" opacity="0.7"/>
<line x1="396.6" y1="265.6" x2="398.7" y2="265.7" stroke="#e99aa2" stroke-width="1" opacity="0.7"/>
<line x1="398.7" y1="265.7" x2="400.8" y2="265.9" stroke="#e4e4e4" stroke-width="0.9" opacity="0.7"/>
<line x1="396.6" y1="265.6" x2="395.9" y2="267.6" stroke="#e99aa2" stroke-width="1" opacity="0.7"/>
<line x1="395.9" y1="267.6" x2="395.2" y2="269.6" stroke="#e4e4e4" stroke-width="0.9" opacity="0.7"/>
<line x1="408.1" y1="280.8" x2="406.6" y2="279.6" stroke="#e99aa2" stroke-width="1" opacity="0.7"/>
<line x1="406.6" y1="279.6" x2="405.1" y2="278.5" stroke="#e4e4e4" stroke-width="0.9" opacity="0.7"/>
<line x1="408.1" y1="280.8" x2="409.6" y2="279.6" stroke="#e99aa2" stroke-width="1" opacity="0.7"/>
<line x1="409.6" y1="279.6" x2="411.0" y2="278.3" stroke="#e4e4e4" stroke-width="0.9" opacity="0.7"/>
<line x1="368.7" y1="266.3" x2="370.3" y2="264.6" stroke="#e99aa2" stroke-width="1" opacity="0.7"/>
<line x1="370.3" y1="264.6" x2="372.0" y2="262.8" stroke="#e4e4e4" stroke-width="0.9" opacity="0.7"/>
<line x1="368.7" y1="266.3" x2="369.9" y2="268.4" stroke="#e99aa2" stroke-width="1" opacity="0.7"/>
<line x1="369.9" y1="268.4" x2="371.2" y2="270.4" stroke="#e4e4e4" stroke-width="0.9" opacity="0.7"/>
<line x1="424.4" y1="266.5" x2="422.0" y2="266.0" stroke="#e99aa2" stroke-width="1" opacity="0.7"/>
<line x1="422.0" y1="266.0" x2="419.5" y2="265.4" stroke="#e4e4e4" stroke-width="0.9" opacity="0.7"/>
<line x1="424.4" y1="266.5" x2="425.4" y2="264.2" stroke="#e99aa2" stroke-width="1" opacity="0.7"/>
<line x1="425.4" y1="264.2" x2="426.4" y2="261.9" stroke="#e4e4e4" stroke-width="0.9" opacity="0.7"/>
<line x1="342.1" y1="284.3" x2="343.2" y2="282.8" stroke="#e99aa2" stroke-width="1" opacity="0.7"/>
<line x1="343.2" y1="282.8" x2="344.2" y2="281.3" stroke="#e4e4e4" stroke-width="0.9" opacity="0.7"/>
<line x1="342.1" y1="284.3" x2="343.1" y2="285.8" stroke="#e99aa2" stroke-width="1" opacity="0.7"/>
<line x1="343.1" y1="285.8" x2="344.2" y2="287.3" stroke="#e4e4e4" stroke-width="0.9" opacity="0.7"/>
<line x1="364.4" y1="280.9" x2="366.2" y2="282.2" stroke="#e99aa2" stroke-width="1" opacity="0.7"/>
<line x1="366.2" y1="282.2" x2="368.0" y2="283.5" stroke="#e4e4e4" stroke-width="0.9" opacity="0.7"/>
<line x1="364.4" y1="280.9" x2="362.7" y2="282.3" stroke="#e99aa2" stroke-width="1" opacity="0.7"/>
<line x1="362.7" y1="282.3" x2="361.0" y2="283.7" stroke="#e4e4e4" stroke-width="0.9" opacity="0.7"/>
<line x1="421.3" y1="276.8" x2="422.9" y2="274.8" stroke="#e99aa2" stroke-width="1" opacity="0.7"/>
<line x1="422.9" y1="274.8" x2="424.5" y2="272.8" stroke="#e4e4e4" stroke-width="0.9" opacity="0.7"/>
<line x1="421.3" y1="276.8" x2="422.9" y2="278.8" stroke="#e99aa2" stroke-width="1" opacity="0.7"/>
<line x1="422.9" y1="278.8" x2="424.5" y2="280.7" stroke="#e4e4e4" stroke-width="0.9" opacity="0.7"/>
<line x1="376.6" y1="287.3" x2="378.3" y2="288.4" stroke="#e99aa2" stroke-width="1" opacity="0.7"/>
<line x1="378.3" y1="288.4" x2="379.9" y2="289.5" stroke="#e4e4e4" stroke-width="0.9" opacity="0.7"/>
<line x1="376.6" y1="287.3" x2="375.0" y2="288.5" stroke="#e99aa2" stroke-width="1" opacity="0.7"/>
<line x1="375.0" y1="288.5" x2="373.4" y2="289.6" stroke="#e4e4e4" stroke-width="0.9" opacity="0.7"/>
<line x1="387.1" y1="274.8" x2="388.2" y2="276.5" stroke="#e99aa2" stroke-width="1" opacity="0.7"/>
<line x1="388.2" y1="276.5" x2="389.4" y2="278.3" stroke="#e4e4e4" stroke-width="0.9" opacity="0.7"/>
<line x1="387.1" y1="274.8" x2="385.1" y2="275.2" stroke="#e99aa2" stroke-width="1" opacity="0.7"/>
<line x1="385.1" y1="275.2" x2="383.1" y2="275.6" stroke="#e4e4e4" stroke-width="0.9" opacity="0.7"/>
<line x1="367.8" y1="260.4" x2="366.9" y2="262.7" stroke="#e99aa2" stroke-width="1" opacity="0.7"/>
<line x1="366.9" y1="262.7" x2="366.1" y2="265.1" stroke="#e4e4e4" stroke-width="0.9" opacity="0.7"/>
<line x1="367.8" y1="260.4" x2="365.8" y2="259.0" stroke="#e99aa2" stroke-width="1" opacity="0.7"/>
<line x1="365.8" y1="259.0" x2="363.8" y2="257.6" stroke="#e4e4e4" stroke-width="0.9" opacity="0.7"/>
<line x1="371.9" y1="280.0" x2="373.6" y2="281.4" stroke="#e99aa2" stroke-width="1" opacity="0.7"/>
<line x1="373.6" y1="281.4" x2="375.3" y2="282.7" stroke="#e4e4e4" stroke-width="0.9" opacity="0.7"/>
<line x1="371.9" y1="280.0" x2="370.1" y2="281.3" stroke="#e99aa2" stroke-width="1" opacity="0.7"/>
<line x1="370.1" y1="281.3" x2="368.4" y2="282.7" stroke="#e4e4e4" stroke-width="0.9" opacity="0.7"/>
<line x1="422.3" y1="284.6" x2="421.0" y2="282.8" stroke="#e99aa2" stroke-width="1" opacity="0.7"/>
<line x1="421.0" y1="282.8" x2="419.8" y2="281.0" stroke="#e4e4e4" stroke-width="0.9" opacity="0.7"/>
<line x1="422.3" y1="284.6" x2="424.1" y2="283.6" stroke="#e99aa2" stroke-width="1" opacity="0.7"/>
<line x1="424.1" y1="283.6" x2="426.0" y2="282.6" stroke="#e4e4e4" stroke-width="0.9" opacity="0.7"/>
<line x1="400.9" y1="265.6" x2="399.3" y2="264.9" stroke="#e99aa2" stroke-width="1" opacity="0.7"/>
<line x1="399.3" y1="264.9" x2="397.7" y2="264.2" stroke="#e4e4e4" stroke-width="0.9" opacity="0.7"/>
<line x1="400.9" y1="265.6" x2="402.0" y2="264.2" stroke="#e99aa2" stroke-width="1" opacity="0.7"/>
<line x1="402.0" y1="264.2" x2="403.1" y2="262.8" stroke="#e4e4e4" stroke-width="0.9" opacity="0.7"/>
<line x1="424.3" y1="283.6" x2="424.9" y2="285.5" stroke="#e99aa2" stroke-width="1" opacity="0.7"/>
<line x1="424.9" y1="285.5" x2="425.4" y2="287.5" stroke="#e4e4e4" stroke-width="0.9" opacity="0.7"/>
<line x1="424.3" y1="283.6" x2="422.3" y2="283.5" stroke="#e99aa2" stroke-width="1" opacity="0.7"/>
<line x1="422.3" y1="283.5" x2="420.2" y2="283.4" stroke="#e4e4e4" stroke-width="0.9" opacity="0.7"/>
<line x1="373.2" y1="275.3" x2="372.6" y2="277.3" stroke="#e99aa2" stroke-width="1" opacity="0.7"/>
<line x1="372.6" y1="277.3" x2="371.9" y2="279.4" stroke="#e4e4e4" stroke-width="0.9" opacity="0.7"/>
<line x1="373.2" y1="275.3" x2="371.4" y2="274.2" stroke="#e99aa2" stroke-width="1" opacity="0.7"/>
<line x1="371.4" y1="274.2" x2="369.5" y2="273.1" stroke="#e4e4e4" stroke-width="0.9" opacity="0.7"/>
<line x1="397.3" y1="266.2" x2="398.0" y2="268.2" stroke="#e99aa2" stroke-width="1" opacity="0.7"/>
<line x1="398.0" y1="268.2" x2="398.6" y2="270.2" stroke="#e4e4e4" stroke-width="0.9" opacity="0.7"/>
<line x1="397.3" y1="266.2" x2="395.3" y2="266.1" stroke="#e99aa2" stroke-width="1" opacity="0.7"/>
<line x1="395.3" y1="266.1" x2="393.2" y2="266.1" stroke="#e4e4e4" stroke-width="0.9" opacity="0.7"/>
<line x1="356" y1="294.6" x2="354.9" y2="291.6" stroke="#e2e626" stroke-width="3.2"/>
<line x1="354.9" y1="291.6" x2="353.8" y2="288.6" stroke="#e01400" stroke-width="3.2"/>
<line x1="356" y1="294.6" x2="349.2" y2="297.1" stroke="#e2e626" stroke-width="3.2"/>
<line x1="349.2" y1="297.1" x2="342.4" y2="299.5" stroke="#e01400" stroke-width="3.2"/>
<line x1="356" y1="294.6" x2="361.7" y2="298.6" stroke="#e2e626" stroke-width="3.2"/>
<line x1="361.7" y1="298.6" x2="367.4" y2="302.7" stroke="#e01400" stroke-width="3.2"/>
<line x1="356" y1="294.6" x2="357.6" y2="300.8" stroke="#e2e626" stroke-width="3.2"/>
<line x1="357.6" y1="300.8" x2="359.2" y2="307" stroke="#e01400" stroke-width="3.2"/>
<line x1="350.6" y1="304.3" x2="346.5" y2="301.9" stroke="#e2e626" stroke-width="3.2"/>
<line x1="346.5" y1="301.9" x2="342.4" y2="299.5" stroke="#e01400" stroke-width="3.2"/>
<line x1="350.6" y1="304.3" x2="354.9" y2="305.6" stroke="#e2e626" stroke-width="3.2"/>
<line x1="354.9" y1="305.6" x2="359.2" y2="307" stroke="#e01400" stroke-width="3.2"/>
<line x1="350.6" y1="304.3" x2="348.1" y2="309.0" stroke="#e2e626" stroke-width="3.2"/>
<line x1="348.1" y1="309.0" x2="345.7" y2="313.6" stroke="#e01400" stroke-width="3.2"/>
<line x1="350.6" y1="304.3" x2="348.1" y2="309.8" stroke="#e2e626" stroke-width="3.2"/>
<line x1="348.1" y1="309.8" x2="345.7" y2="315.3" stroke="#e01400" stroke-width="3.2"/>
<line x1="350.6" y1="304.3" x2="357.1" y2="307.9" stroke="#e2e626" stroke-width="3.2"/>
<line x1="357.1" y1="307.9" x2="363.6" y2="311.5" stroke="#e01400" stroke-width="3.2"/>
<line x1="407.1" y1="290.8" x2="402.2" y2="287.0" stroke="#e2e626" stroke-width="3.2"/>
<line x1="402.2" y1="287.0" x2="397.4" y2="283.2" stroke="#e01400" stroke-width="3.2"/>
<line x1="407.1" y1="290.8" x2="401.1" y2="294.1" stroke="#e2e626" stroke-width="3.2"/>
<line x1="401.1" y1="294.1" x2="395.2" y2="297.3" stroke="#e01400" stroke-width="3.2"/>
<line x1="407.1" y1="290.8" x2="413.4" y2="294.1" stroke="#e2e626" stroke-width="3.2"/>
<line x1="413.4" y1="294.1" x2="419.6" y2="297.3" stroke="#e01400" stroke-width="3.2"/>
<line x1="407.1" y1="290.8" x2="405.5" y2="297.9" stroke="#e2e626" stroke-width="3.2"/>
<line x1="405.5" y1="297.9" x2="403.9" y2="304.9" stroke="#e01400" stroke-width="3.2"/>
<line x1="409.3" y1="303.8" x2="414.5" y2="300.6" stroke="#e2e626" stroke-width="3.2"/>
<line x1="414.5" y1="300.6" x2="419.6" y2="297.3" stroke="#e01400" stroke-width="3.2"/>
<line x1="409.3" y1="303.8" x2="413.6" y2="303.2" stroke="#e2e626" stroke-width="3.2"/>
<line x1="413.6" y1="303.2" x2="418" y2="302.7" stroke="#e01400" stroke-width="3.2"/>
<line x1="409.3" y1="303.8" x2="406.6" y2="304.4" stroke="#e2e626" stroke-width="3.2"/>
<line x1="406.6" y1="304.4" x2="403.9" y2="304.9" stroke="#e01400" stroke-width="3.2"/>
<line x1="409.3" y1="303.8" x2="405.5" y2="307.1" stroke="#e2e626" stroke-width="3.2"/>
<line x1="405.5" y1="307.1" x2="401.7" y2="310.3" stroke="#e01400" stroke-width="3.2"/>
<line x1="409.8" y1="315.8" x2="406.9" y2="310.4" stroke="#e2e626" stroke-width="3.2"/>
<line x1="406.9" y1="310.4" x2="403.9" y2="304.9" stroke="#e01400" stroke-width="3.2"/>
<line x1="409.8" y1="315.8" x2="405.8" y2="313.1" stroke="#e2e626" stroke-width="3.2"/>
<line x1="405.8" y1="313.1" x2="401.7" y2="310.3" stroke="#e01400" stroke-width="3.2"/>
<line x1="409.8" y1="315.8" x2="406.3" y2="319.4" stroke="#e2e626" stroke-width="3.2"/>
<line x1="406.3" y1="319.4" x2="402.8" y2="322.9" stroke="#e01400" stroke-width="3.2"/>
<line x1="352.7" y1="319.6" x2="355.9" y2="313.3" stroke="#e2e626" stroke-width="3.2"/>
<line x1="355.9" y1="313.3" x2="359.2" y2="307" stroke="#e01400" stroke-width="3.2"/>
<line x1="352.7" y1="319.6" x2="349.2" y2="316.6" stroke="#e2e626" stroke-width="3.2"/>
<line x1="349.2" y1="316.6" x2="345.7" y2="313.6" stroke="#e01400" stroke-width="3.2"/>
<line x1="352.7" y1="319.6" x2="349.2" y2="317.5" stroke="#e2e626" stroke-width="3.2"/>
<line x1="349.2" y1="317.5" x2="345.7" y2="315.3" stroke="#e01400" stroke-width="3.2"/>
<line x1="352.7" y1="319.6" x2="358.1" y2="324.5" stroke="#e2e626" stroke-width="3.2"/>
<line x1="358.1" y1="324.5" x2="363.6" y2="329.4" stroke="#e01400" stroke-width="3.2"/>
<line x1="352.7" y1="319.6" x2="348.1" y2="325.1" stroke="#e2e626" stroke-width="3.2"/>
<line x1="348.1" y1="325.1" x2="343.5" y2="330.5" stroke="#e01400" stroke-width="3.2"/>
<line x1="352.7" y1="319.6" x2="358.1" y2="315.6" stroke="#e2e626" stroke-width="3.2"/>
<line x1="358.1" y1="315.6" x2="363.6" y2="311.5" stroke="#e01400" stroke-width="3.2"/>
<line x1="354.4" y1="277.2" x2="360.0" y2="277.5" stroke="#e81400" stroke-width="3.6"/>
<line x1="360.0" y1="277.5" x2="365.7" y2="277.8" stroke="#e81400" stroke-width="3.6"/>
<line x1="354.4" y1="277.2" x2="354.1" y2="282.9" stroke="#e81400" stroke-width="3.6"/>
<line x1="354.1" y1="282.9" x2="353.8" y2="288.6" stroke="#e81400" stroke-width="3.6"/>
<line x1="359.8" y1="281.6" x2="362.8" y2="279.7" stroke="#dddddd" stroke-width="3.6"/>
<line x1="362.8" y1="279.7" x2="365.7" y2="277.8" stroke="#e81400" stroke-width="3.6"/>
<line x1="359.8" y1="281.6" x2="356.8" y2="285.1" stroke="#dddddd" stroke-width="3.6"/>
<line x1="356.8" y1="285.1" x2="353.8" y2="288.6" stroke="#e81400" stroke-width="3.6"/>
<line x1="359.8" y1="281.6" x2="357.9" y2="288.1" stroke="#dddddd" stroke-width="3.6"/>
<line x1="357.9" y1="288.1" x2="356" y2="294.6" stroke="#e2e626" stroke-width="3.6"/>
<line x1="356" y1="294.6" x2="353.3" y2="299.5" stroke="#e2e626" stroke-width="3.6"/>
<line x1="353.3" y1="299.5" x2="350.6" y2="304.3" stroke="#e2e626" stroke-width="3.6"/>
<line x1="367.4" y1="302.7" x2="363.3" y2="304.9" stroke="#e81400" stroke-width="3.6"/>
<line x1="363.3" y1="304.9" x2="359.2" y2="307" stroke="#e81400" stroke-width="3.6"/>
<line x1="367.4" y1="302.7" x2="367.9" y2="306.2" stroke="#e81400" stroke-width="3.6"/>
<line x1="367.9" y1="306.2" x2="368.5" y2="309.8" stroke="#e81400" stroke-width="3.6"/>
<line x1="359.2" y1="307" x2="361.4" y2="309.2" stroke="#e81400" stroke-width="3.6"/>
<line x1="361.4" y1="309.2" x2="363.6" y2="311.5" stroke="#c00e00" stroke-width="3.6"/>
<line x1="378.8" y1="309.2" x2="378.5" y2="314.9" stroke="#50bcba" stroke-width="3.6"/>
<line x1="378.5" y1="314.9" x2="378.2" y2="320.7" stroke="#e81400" stroke-width="3.6"/>
<line x1="368.5" y1="309.8" x2="366.1" y2="310.6" stroke="#e81400" stroke-width="3.6"/>
<line x1="366.1" y1="310.6" x2="363.6" y2="311.5" stroke="#c00e00" stroke-width="3.6"/>
<line x1="406" y1="274.5" x2="403.6" y2="275.1" stroke="#e81400" stroke-width="3.6"/>
<line x1="403.6" y1="275.1" x2="401.1" y2="275.6" stroke="#dddddd" stroke-width="3.6"/>
<line x1="406" y1="274.5" x2="401.7" y2="278.9" stroke="#e81400" stroke-width="3.6"/>
<line x1="401.7" y1="278.9" x2="397.4" y2="283.2" stroke="#e81400" stroke-width="3.6"/>
<line x1="401.1" y1="275.6" x2="399.2" y2="279.4" stroke="#dddddd" stroke-width="3.6"/>
<line x1="399.2" y1="279.4" x2="397.4" y2="283.2" stroke="#e81400" stroke-width="3.6"/>
<line x1="397.4" y1="283.2" x2="401.4" y2="287.0" stroke="#e81400" stroke-width="3.6"/>
<line x1="401.4" y1="287.0" x2="405.5" y2="290.8" stroke="#dddddd" stroke-width="3.6"/>
<line x1="405.5" y1="290.8" x2="400.4" y2="294.1" stroke="#dddddd" stroke-width="3.6"/>
<line x1="400.4" y1="294.1" x2="395.2" y2="297.3" stroke="#c00e00" stroke-width="3.6"/>
<line x1="405.5" y1="290.8" x2="407.4" y2="297.3" stroke="#dddddd" stroke-width="3.6"/>
<line x1="407.4" y1="297.3" x2="409.3" y2="303.8" stroke="#e2e626" stroke-width="3.6"/>
<line x1="395.2" y1="297.3" x2="399.5" y2="301.1" stroke="#c00e00" stroke-width="3.6"/>
<line x1="399.5" y1="301.1" x2="403.9" y2="304.9" stroke="#e81400" stroke-width="3.6"/>
<line x1="395.2" y1="297.3" x2="394.1" y2="303.2" stroke="#c00e00" stroke-width="3.6"/>
<line x1="394.1" y1="303.2" x2="393" y2="309.2" stroke="#e81400" stroke-width="3.6"/>
<line x1="419.6" y1="297.3" x2="418.8" y2="300.0" stroke="#e81400" stroke-width="3.6"/>
<line x1="418.8" y1="300.0" x2="418" y2="302.7" stroke="#e81400" stroke-width="3.6"/>
<line x1="419.6" y1="297.3" x2="422.1" y2="300.8" stroke="#e81400" stroke-width="3.6"/>
<line x1="422.1" y1="300.8" x2="424.5" y2="304.3" stroke="#c00e00" stroke-width="3.6"/>
<line x1="418" y1="302.7" x2="421.2" y2="303.5" stroke="#e81400" stroke-width="3.6"/>
<line x1="421.2" y1="303.5" x2="424.5" y2="304.3" stroke="#c00e00" stroke-width="3.6"/>
<line x1="409.3" y1="303.8" x2="409.6" y2="309.8" stroke="#e2e626" stroke-width="3.6"/>
<line x1="409.6" y1="309.8" x2="409.8" y2="315.8" stroke="#e2e626" stroke-width="3.6"/>
<line x1="403.9" y1="304.9" x2="398.4" y2="307.0" stroke="#e81400" stroke-width="3.6"/>
<line x1="398.4" y1="307.0" x2="393" y2="309.2" stroke="#e81400" stroke-width="3.6"/>
<line x1="396.8" y1="326.7" x2="399.8" y2="324.8" stroke="#e81400" stroke-width="3.6"/>
<line x1="399.8" y1="324.8" x2="402.8" y2="322.9" stroke="#e81400" stroke-width="3.6"/>
<line x1="396.8" y1="326.7" x2="399.8" y2="328.6" stroke="#e81400" stroke-width="3.6"/>
<line x1="399.8" y1="328.6" x2="402.8" y2="330.5" stroke="#50bcba" stroke-width="3.6"/>
<line x1="402.8" y1="322.9" x2="402.8" y2="326.7" stroke="#e81400" stroke-width="3.6"/>
<line x1="402.8" y1="326.7" x2="402.8" y2="330.5" stroke="#50bcba" stroke-width="3.6"/>
<line x1="402.8" y1="322.9" x2="398.5" y2="325.6" stroke="#e81400" stroke-width="3.6"/>
<line x1="398.5" y1="325.6" x2="394.1" y2="328.3" stroke="#e81400" stroke-width="3.6"/>
<line x1="363.6" y1="329.4" x2="369.6" y2="329.4" stroke="#e81400" stroke-width="3.6"/>
<line x1="369.6" y1="329.4" x2="375.5" y2="329.4" stroke="#e81400" stroke-width="3.6"/>
<line x1="378.2" y1="310.4" x2="378.2" y2="315.5" stroke="#50bcba" stroke-width="3.6"/>
<line x1="378.2" y1="315.5" x2="378.2" y2="320.7" stroke="#50bcba" stroke-width="3.6"/>
<line x1="378.2" y1="320.7" x2="376.9" y2="325.0" stroke="#e81400" stroke-width="3.6"/>
<line x1="376.9" y1="325.0" x2="375.5" y2="329.4" stroke="#e81400" stroke-width="3.6"/>
<line x1="381.5" y1="299.5" x2="373.6" y2="288.6" stroke="#4fb8b6" stroke-width="3.8"/>
<line x1="373.6" y1="288.6" x2="365.7" y2="277.8" stroke="#e01400" stroke-width="3.8"/>
<line x1="381.5" y1="299.5" x2="389.4" y2="291.4" stroke="#4fb8b6" stroke-width="3.8"/>
<line x1="389.4" y1="291.4" x2="397.4" y2="283.2" stroke="#e01400" stroke-width="3.8"/>
<line x1="381.5" y1="299.5" x2="374.4" y2="301.1" stroke="#4fb8b6" stroke-width="3.8"/>
<line x1="374.4" y1="301.1" x2="367.4" y2="302.7" stroke="#e01400" stroke-width="3.8"/>
<line x1="381.5" y1="299.5" x2="388.4" y2="298.4" stroke="#4fb8b6" stroke-width="3.8"/>
<line x1="388.4" y1="298.4" x2="395.2" y2="297.3" stroke="#e01400" stroke-width="3.8"/>
<line x1="381.5" y1="299.5" x2="387.2" y2="304.4" stroke="#4fb8b6" stroke-width="3.8"/>
<line x1="387.2" y1="304.4" x2="393" y2="309.2" stroke="#e01400" stroke-width="3.8"/>
<line x1="381.5" y1="299.5" x2="375.0" y2="304.6" stroke="#4fb8b6" stroke-width="3.8"/>
<line x1="375.0" y1="304.6" x2="368.5" y2="309.8" stroke="#e01400" stroke-width="3.8"/>
<circle cx="354.4" cy="277.2" r="4.03" fill="url(#gO)"/>
<circle cx="359.8" cy="281.6" r="2.40" fill="url(#gH)"/>
<circle cx="365.7" cy="277.8" r="4.03" fill="url(#gO)"/>
<circle cx="353.8" cy="288.6" r="4.48" fill="url(#gO)"/>
<circle cx="356" cy="294.6" r="4.20" fill="url(#gS)"/>
<circle cx="342.4" cy="299.5" r="3.36" fill="url(#gO)"/>
<circle cx="350.6" cy="304.3" r="5.00" fill="url(#gS)"/>
<circle cx="367.4" cy="302.7" r="4.48" fill="url(#gO)"/>
<circle cx="359.2" cy="307" r="4.48" fill="url(#gO)"/>
<circle cx="345.7" cy="313.6" r="4.26" fill="url(#gO)"/>
<circle cx="378.8" cy="309.2" r="3.12" fill="url(#gT)"/>
<circle cx="368.5" cy="309.8" r="4.48" fill="url(#gO)"/>
<circle cx="406" cy="274.5" r="4.03" fill="url(#gO)"/>
<circle cx="401.1" cy="275.6" r="2.10" fill="url(#gH)"/>
<circle cx="397.4" cy="283.2" r="4.48" fill="url(#gO)"/>
<circle cx="407.1" cy="290.8" r="4.60" fill="url(#gS)"/>
<circle cx="405.5" cy="290.8" r="2.10" fill="url(#gH)"/>
<circle cx="395.2" cy="297.3" r="4.48" fill="url(#gD)"/>
<circle cx="419.6" cy="297.3" r="4.48" fill="url(#gO)"/>
<circle cx="418" cy="302.7" r="4.48" fill="url(#gO)"/>
<circle cx="424.5" cy="304.3" r="3.92" fill="url(#gD)"/>
<circle cx="409.3" cy="303.8" r="5.00" fill="url(#gS)"/>
<circle cx="403.9" cy="304.9" r="4.48" fill="url(#gO)"/>
<circle cx="393" cy="309.2" r="4.48" fill="url(#gO)"/>
<circle cx="401.7" cy="310.3" r="4.48" fill="url(#gO)"/>
<circle cx="409.8" cy="315.8" r="5.00" fill="url(#gS)"/>
<circle cx="413.1" cy="324.5" r="3.74" fill="url(#gT)"/>
<circle cx="420.7" cy="328.3" r="4.48" fill="url(#gO)"/>
<circle cx="396.8" cy="326.7" r="4.48" fill="url(#gO)"/>
<circle cx="402.8" cy="322.9" r="4.48" fill="url(#gO)"/>
<circle cx="402.8" cy="330.5" r="3.64" fill="url(#gT)"/>
<circle cx="394.1" cy="328.3" r="4.48" fill="url(#gO)"/>
<circle cx="345.7" cy="315.3" r="4.48" fill="url(#gO)"/>
<circle cx="352.7" cy="319.6" r="5.00" fill="url(#gS)"/>
<circle cx="363.6" cy="329.4" r="4.48" fill="url(#gO)"/>
<circle cx="343.5" cy="330.5" r="4.03" fill="url(#gO)"/>
<circle cx="363.6" cy="311.5" r="4.48" fill="url(#gD)"/>
<circle cx="378.2" cy="310.4" r="3.74" fill="url(#gT)"/>
<circle cx="378.2" cy="320.7" r="4.48" fill="url(#gO)"/>
<circle cx="378.2" cy="320.7" r="3.33" fill="url(#gT)"/>
<circle cx="375.5" cy="329.4" r="4.26" fill="url(#gO)"/>
<circle cx="375.8" cy="330.5" r="3.12" fill="url(#gT)"/>
<circle cx="381.5" cy="299.5" r="7.32" fill="url(#gT)"/>
</g>
<clipPath id="mc3"><rect x="339" y="385" width="88.5" height="73.2"/></clipPath>
<g clip-path="url(#mc3)">
<line x1="384.9" y1="403.2" x2="386.2" y2="401.3" stroke="#e99aa2" stroke-width="1" opacity="0.7"/>
<line x1="386.2" y1="401.3" x2="387.5" y2="399.4" stroke="#e4e4e4" stroke-width="0.9" opacity="0.7"/>
<line x1="384.9" y1="403.2" x2="386.2" y2="405.0" stroke="#e99aa2" stroke-width="1" opacity="0.7"/>
<line x1="386.2" y1="405.0" x2="387.6" y2="406.8" stroke="#e4e4e4" stroke-width="0.9" opacity="0.7"/>
<line x1="421.0" y1="391.9" x2="421.4" y2="389.6" stroke="#e99aa2" stroke-width="1" opacity="0.7"/>
<line x1="421.4" y1="389.6" x2="421.9" y2="387.3" stroke="#e4e4e4" stroke-width="0.9" opacity="0.7"/>
<line x1="421.0" y1="391.9" x2="423.2" y2="392.8" stroke="#e99aa2" stroke-width="1" opacity="0.7"/>
<line x1="423.2" y1="392.8" x2="425.4" y2="393.6" stroke="#e4e4e4" stroke-width="0.9" opacity="0.7"/>
<line x1="361.5" y1="401.0" x2="361.9" y2="398.5" stroke="#e99aa2" stroke-width="1" opacity="0.7"/>
<line x1="361.9" y1="398.5" x2="362.3" y2="395.9" stroke="#e4e4e4" stroke-width="0.9" opacity="0.7"/>
<line x1="361.5" y1="401.0" x2="363.8" y2="402.2" stroke="#e99aa2" stroke-width="1" opacity="0.7"/>
<line x1="363.8" y1="402.2" x2="366.0" y2="403.5" stroke="#e4e4e4" stroke-width="0.9" opacity="0.7"/>
<line x1="361.6" y1="402.6" x2="362.0" y2="404.8" stroke="#e99aa2" stroke-width="1" opacity="0.7"/>
<line x1="362.0" y1="404.8" x2="362.4" y2="407.1" stroke="#e4e4e4" stroke-width="0.9" opacity="0.7"/>
<line x1="361.6" y1="402.6" x2="359.4" y2="402.4" stroke="#e99aa2" stroke-width="1" opacity="0.7"/>
<line x1="359.4" y1="402.4" x2="357.1" y2="402.1" stroke="#e4e4e4" stroke-width="0.9" opacity="0.7"/>
<line x1="344.9" y1="406.3" x2="344.4" y2="403.7" stroke="#e99aa2" stroke-width="1" opacity="0.7"/>
<line x1="344.4" y1="403.7" x2="343.8" y2="401.2" stroke="#e4e4e4" stroke-width="0.9" opacity="0.7"/>
<line x1="344.9" y1="406.3" x2="347.5" y2="406.5" stroke="#e99aa2" stroke-width="1" opacity="0.7"/>
<line x1="347.5" y1="406.5" x2="350.2" y2="406.7" stroke="#e4e4e4" stroke-width="0.9" opacity="0.7"/>
<line x1="356.9" y1="391.2" x2="359.1" y2="391.4" stroke="#e99aa2" stroke-width="1" opacity="0.7"/>
<line x1="359.1" y1="391.4" x2="361.3" y2="391.6" stroke="#e4e4e4" stroke-width="0.9" opacity="0.7"/>
<line x1="356.9" y1="391.2" x2="356.1" y2="393.2" stroke="#e99aa2" stroke-width="1" opacity="0.7"/>
<line x1="356.1" y1="393.2" x2="355.3" y2="395.2" stroke="#e4e4e4" stroke-width="0.9" opacity="0.7"/>
<line x1="378.7" y1="394.9" x2="379.5" y2="392.4" stroke="#e99aa2" stroke-width="1" opacity="0.7"/>
<line x1="379.5" y1="392.4" x2="380.3" y2="389.9" stroke="#e4e4e4" stroke-width="0.9" opacity="0.7"/>
<line x1="378.7" y1="394.9" x2="381.0" y2="396.1" stroke="#e99aa2" stroke-width="1" opacity="0.7"/>
<line x1="381.0" y1="396.1" x2="383.4" y2="397.3" stroke="#e4e4e4" stroke-width="0.9" opacity="0.7"/>
<line x1="389.2" y1="404.5" x2="389.7" y2="402.6" stroke="#e99aa2" stroke-width="1" opacity="0.7"/>
<line x1="389.7" y1="402.6" x2="390.2" y2="400.8" stroke="#e4e4e4" stroke-width="0.9" opacity="0.7"/>
<line x1="389.2" y1="404.5" x2="390.9" y2="405.3" stroke="#e99aa2" stroke-width="1" opacity="0.7"/>
<line x1="390.9" y1="405.3" x2="392.6" y2="406.2" stroke="#e4e4e4" stroke-width="0.9" opacity="0.7"/>
<line x1="367.8" y1="387.4" x2="366.9" y2="389.5" stroke="#e99aa2" stroke-width="1" opacity="0.7"/>
<line x1="366.9" y1="389.5" x2="366.0" y2="391.6" stroke="#e4e4e4" stroke-width="0.9" opacity="0.7"/>
<line x1="367.8" y1="387.4" x2="366.1" y2="385.9" stroke="#e99aa2" stroke-width="1" opacity="0.7"/>
<line x1="366.1" y1="385.9" x2="364.4" y2="384.4" stroke="#e4e4e4" stroke-width="0.9" opacity="0.7"/>
<line x1="364.0" y1="406.0" x2="365.6" y2="407.0" stroke="#e99aa2" stroke-width="1" opacity="0.7"/>
<line x1="365.6" y1="407.0" x2="367.2" y2="408.0" stroke="#e4e4e4" stroke-width="0.9" opacity="0.7"/>
<line x1="364.0" y1="406.0" x2="362.4" y2="407.2" stroke="#e99aa2" stroke-width="1" opacity="0.7"/>
<line x1="362.4" y1="407.2" x2="360.9" y2="408.3" stroke="#e4e4e4" stroke-width="0.9" opacity="0.7"/>
<line x1="363.2" y1="391.4" x2="362.2" y2="389.1" stroke="#e99aa2" stroke-width="1" opacity="0.7"/>
<line x1="362.2" y1="389.1" x2="361.3" y2="386.7" stroke="#e4e4e4" stroke-width="0.9" opacity="0.7"/>
<line x1="363.2" y1="391.4" x2="365.7" y2="391.4" stroke="#e99aa2" stroke-width="1" opacity="0.7"/>
<line x1="365.7" y1="391.4" x2="368.2" y2="391.5" stroke="#e4e4e4" stroke-width="0.9" opacity="0.7"/>
<line x1="347.1" y1="400.0" x2="345.3" y2="402.0" stroke="#e99aa2" stroke-width="1" opacity="0.7"/>
<line x1="345.3" y1="402.0" x2="343.5" y2="404.1" stroke="#e4e4e4" stroke-width="0.9" opacity="0.7"/>
<line x1="347.1" y1="400.0" x2="345.4" y2="397.8" stroke="#e99aa2" stroke-width="1" opacity="0.7"/>
<line x1="345.4" y1="397.8" x2="343.7" y2="395.7" stroke="#e4e4e4" stroke-width="0.9" opacity="0.7"/>
<line x1="345.5" y1="402.6" x2="345.6" y2="400.8" stroke="#e99aa2" stroke-width="1" opacity="0.7"/>
<line x1="345.6" y1="400.8" x2="345.8" y2="398.9" stroke="#e4e4e4" stroke-width="0.9" opacity="0.7"/>
<line x1="345.5" y1="402.6" x2="347.2" y2="403.5" stroke="#e99aa2" stroke-width="1" opacity="0.7"/>
<line x1="347.2" y1="403.5" x2="348.8" y2="404.4" stroke="#e4e4e4" stroke-width="0.9" opacity="0.7"/>
<line x1="379.8" y1="411.3" x2="382.4" y2="412.0" stroke="#e99aa2" stroke-width="1" opacity="0.7"/>
<line x1="382.4" y1="412.0" x2="384.9" y2="412.6" stroke="#e4e4e4" stroke-width="0.9" opacity="0.7"/>
<line x1="379.8" y1="411.3" x2="378.6" y2="413.7" stroke="#e99aa2" stroke-width="1" opacity="0.7"/>
<line x1="378.6" y1="413.7" x2="377.5" y2="416.1" stroke="#e4e4e4" stroke-width="0.9" opacity="0.7"/>
<line x1="353.7" y1="399.4" x2="353.2" y2="401.1" stroke="#e99aa2" stroke-width="1" opacity="0.7"/>
<line x1="353.2" y1="401.1" x2="352.7" y2="402.8" stroke="#e4e4e4" stroke-width="0.9" opacity="0.7"/>
<line x1="353.7" y1="399.4" x2="352.2" y2="398.4" stroke="#e99aa2" stroke-width="1" opacity="0.7"/>
<line x1="352.2" y1="398.4" x2="350.7" y2="397.4" stroke="#e4e4e4" stroke-width="0.9" opacity="0.7"/>
<line x1="344.8" y1="419.9" x2="345.0" y2="417.9" stroke="#e99aa2" stroke-width="1" opacity="0.7"/>
<line x1="345.0" y1="417.9" x2="345.2" y2="415.9" stroke="#e4e4e4" stroke-width="0.9" opacity="0.7"/>
<line x1="344.8" y1="419.9" x2="346.6" y2="420.7" stroke="#e99aa2" stroke-width="1" opacity="0.7"/>
<line x1="346.6" y1="420.7" x2="348.4" y2="421.5" stroke="#e4e4e4" stroke-width="0.9" opacity="0.7"/>
<line x1="363.0" y1="404.8" x2="363.2" y2="407.4" stroke="#e99aa2" stroke-width="1" opacity="0.7"/>
<line x1="363.2" y1="407.4" x2="363.3" y2="410.1" stroke="#e4e4e4" stroke-width="0.9" opacity="0.7"/>
<line x1="363.0" y1="404.8" x2="360.4" y2="404.2" stroke="#e99aa2" stroke-width="1" opacity="0.7"/>
<line x1="360.4" y1="404.2" x2="357.8" y2="403.6" stroke="#e4e4e4" stroke-width="0.9" opacity="0.7"/>
<line x1="372.2" y1="397.5" x2="374.0" y2="397.2" stroke="#e99aa2" stroke-width="1" opacity="0.7"/>
<line x1="374.0" y1="397.2" x2="375.8" y2="397.0" stroke="#e4e4e4" stroke-width="0.9" opacity="0.7"/>
<line x1="372.2" y1="397.5" x2="371.9" y2="399.2" stroke="#e99aa2" stroke-width="1" opacity="0.7"/>
<line x1="371.9" y1="399.2" x2="371.5" y2="401.0" stroke="#e4e4e4" stroke-width="0.9" opacity="0.7"/>
<line x1="375.5" y1="408.1" x2="377.7" y2="409.0" stroke="#e99aa2" stroke-width="1" opacity="0.7"/>
<line x1="377.7" y1="409.0" x2="380.0" y2="409.9" stroke="#e4e4e4" stroke-width="0.9" opacity="0.7"/>
<line x1="375.5" y1="408.1" x2="374.1" y2="410.1" stroke="#e99aa2" stroke-width="1" opacity="0.7"/>
<line x1="374.1" y1="410.1" x2="372.7" y2="412.1" stroke="#e4e4e4" stroke-width="0.9" opacity="0.7"/>
<line x1="413.7" y1="406.1" x2="415.4" y2="404.7" stroke="#e99aa2" stroke-width="1" opacity="0.7"/>
<line x1="415.4" y1="404.7" x2="417.0" y2="403.3" stroke="#e4e4e4" stroke-width="0.9" opacity="0.7"/>
<line x1="413.7" y1="406.1" x2="414.7" y2="408.0" stroke="#e99aa2" stroke-width="1" opacity="0.7"/>
<line x1="414.7" y1="408.0" x2="415.6" y2="409.9" stroke="#e4e4e4" stroke-width="0.9" opacity="0.7"/>
<line x1="412.0" y1="399.0" x2="412.4" y2="396.9" stroke="#e99aa2" stroke-width="1" opacity="0.7"/>
<line x1="412.4" y1="396.9" x2="412.8" y2="394.8" stroke="#e4e4e4" stroke-width="0.9" opacity="0.7"/>
<line x1="412.0" y1="399.0" x2="413.9" y2="399.8" stroke="#e99aa2" stroke-width="1" opacity="0.7"/>
<line x1="413.9" y1="399.8" x2="415.9" y2="400.6" stroke="#e4e4e4" stroke-width="0.9" opacity="0.7"/>
<line x1="357.2" y1="404.7" x2="358.3" y2="406.4" stroke="#e99aa2" stroke-width="1" opacity="0.7"/>
<line x1="358.3" y1="406.4" x2="359.3" y2="408.1" stroke="#e4e4e4" stroke-width="0.9" opacity="0.7"/>
<line x1="357.2" y1="404.7" x2="355.4" y2="405.4" stroke="#e99aa2" stroke-width="1" opacity="0.7"/>
<line x1="355.4" y1="405.4" x2="353.6" y2="406.0" stroke="#e4e4e4" stroke-width="0.9" opacity="0.7"/>
<line x1="380.8" y1="396.5" x2="378.5" y2="397.3" stroke="#e99aa2" stroke-width="1" opacity="0.7"/>
<line x1="378.5" y1="397.3" x2="376.2" y2="398.1" stroke="#e4e4e4" stroke-width="0.9" opacity="0.7"/>
<line x1="380.8" y1="396.5" x2="381.1" y2="394.1" stroke="#e99aa2" stroke-width="1" opacity="0.7"/>
<line x1="381.1" y1="394.1" x2="381.3" y2="391.7" stroke="#e4e4e4" stroke-width="0.9" opacity="0.7"/>
<line x1="413.6" y1="393.0" x2="411.8" y2="394.6" stroke="#e99aa2" stroke-width="1" opacity="0.7"/>
<line x1="411.8" y1="394.6" x2="410.0" y2="396.2" stroke="#e4e4e4" stroke-width="0.9" opacity="0.7"/>
<line x1="413.6" y1="393.0" x2="412.3" y2="390.9" stroke="#e99aa2" stroke-width="1" opacity="0.7"/>
<line x1="412.3" y1="390.9" x2="410.9" y2="388.9" stroke="#e4e4e4" stroke-width="0.9" opacity="0.7"/>
<line x1="372.1" y1="395.3" x2="374.1" y2="395.6" stroke="#e99aa2" stroke-width="1" opacity="0.7"/>
<line x1="374.1" y1="395.6" x2="376.1" y2="395.8" stroke="#e4e4e4" stroke-width="0.9" opacity="0.7"/>
<line x1="372.1" y1="395.3" x2="371.5" y2="397.3" stroke="#e99aa2" stroke-width="1" opacity="0.7"/>
<line x1="371.5" y1="397.3" x2="370.9" y2="399.2" stroke="#e4e4e4" stroke-width="0.9" opacity="0.7"/>
<line x1="374.6" y1="417.4" x2="374.2" y2="415.3" stroke="#e99aa2" stroke-width="1" opacity="0.7"/>
<line x1="374.2" y1="415.3" x2="373.7" y2="413.3" stroke="#e4e4e4" stroke-width="0.9" opacity="0.7"/>
<line x1="374.6" y1="417.4" x2="376.7" y2="417.4" stroke="#e99aa2" stroke-width="1" opacity="0.7"/>
<line x1="376.7" y1="417.4" x2="378.8" y2="417.4" stroke="#e4e4e4" stroke-width="0.9" opacity="0.7"/>
<line x1="354.7" y1="417.8" x2="353.2" y2="419.8" stroke="#e99aa2" stroke-width="1" opacity="0.7"/>
<line x1="353.2" y1="419.8" x2="351.6" y2="421.7" stroke="#e4e4e4" stroke-width="0.9" opacity="0.7"/>
<line x1="354.7" y1="417.8" x2="353.5" y2="415.7" stroke="#e99aa2" stroke-width="1" opacity="0.7"/>
<line x1="353.5" y1="415.7" x2="352.3" y2="413.6" stroke="#e4e4e4" stroke-width="0.9" opacity="0.7"/>
<line x1="417.3" y1="386.7" x2="416.5" y2="388.3" stroke="#e99aa2" stroke-width="1" opacity="0.7"/>
<line x1="416.5" y1="388.3" x2="415.7" y2="390.0" stroke="#e4e4e4" stroke-width="0.9" opacity="0.7"/>
<line x1="417.3" y1="386.7" x2="415.9" y2="385.5" stroke="#e99aa2" stroke-width="1" opacity="0.7"/>
<line x1="415.9" y1="385.5" x2="414.5" y2="384.3" stroke="#e4e4e4" stroke-width="0.9" opacity="0.7"/>
<line x1="415.2" y1="397.1" x2="415.5" y2="395.3" stroke="#e99aa2" stroke-width="1" opacity="0.7"/>
<line x1="415.5" y1="395.3" x2="415.7" y2="393.5" stroke="#e4e4e4" stroke-width="0.9" opacity="0.7"/>
<line x1="415.2" y1="397.1" x2="416.9" y2="397.8" stroke="#e99aa2" stroke-width="1" opacity="0.7"/>
<line x1="416.9" y1="397.8" x2="418.5" y2="398.5" stroke="#e4e4e4" stroke-width="0.9" opacity="0.7"/>
<line x1="374.7" y1="394.1" x2="377.0" y2="394.7" stroke="#e99aa2" stroke-width="1" opacity="0.7"/>
<line x1="377.0" y1="394.7" x2="379.2" y2="395.3" stroke="#e4e4e4" stroke-width="0.9" opacity="0.7"/>
<line x1="374.7" y1="394.1" x2="373.7" y2="396.2" stroke="#e99aa2" stroke-width="1" opacity="0.7"/>
<line x1="373.7" y1="396.2" x2="372.7" y2="398.4" stroke="#e4e4e4" stroke-width="0.9" opacity="0.7"/>
<line x1="347.3" y1="420" x2="351.6" y2="418.6" stroke="#e2e626" stroke-width="3.2"/>
<line x1="351.6" y1="418.6" x2="356" y2="417.2" stroke="#e01400" stroke-width="3.2"/>
<line x1="347.3" y1="420" x2="344.1" y2="425.6" stroke="#e2e626" stroke-width="3.2"/>
<line x1="344.1" y1="425.6" x2="340.8" y2="431.3" stroke="#e01400" stroke-width="3.2"/>
<line x1="352.2" y1="431.3" x2="354.1" y2="424.2" stroke="#e2e626" stroke-width="3.2"/>
<line x1="354.1" y1="424.2" x2="356" y2="417.2" stroke="#e01400" stroke-width="3.2"/>
<line x1="352.2" y1="431.3" x2="357.4" y2="431.1" stroke="#e2e626" stroke-width="3.2"/>
<line x1="357.4" y1="431.1" x2="362.5" y2="430.8" stroke="#e01400" stroke-width="3.2"/>
<line x1="352.2" y1="431.3" x2="346.5" y2="431.3" stroke="#e2e626" stroke-width="3.2"/>
<line x1="346.5" y1="431.3" x2="340.8" y2="431.3" stroke="#e01400" stroke-width="3.2"/>
<line x1="352.2" y1="431.3" x2="357.6" y2="434.9" stroke="#e2e626" stroke-width="3.2"/>
<line x1="357.6" y1="434.9" x2="363" y2="438.4" stroke="#e01400" stroke-width="3.2"/>
<line x1="352.2" y1="431.3" x2="349.8" y2="436.5" stroke="#e2e626" stroke-width="3.2"/>
<line x1="349.8" y1="436.5" x2="347.3" y2="441.6" stroke="#e01400" stroke-width="3.2"/>
<line x1="352.2" y1="431.3" x2="349.0" y2="437.0" stroke="#e2e626" stroke-width="3.2"/>
<line x1="349.0" y1="437.0" x2="345.8" y2="442.6" stroke="#e01400" stroke-width="3.2"/>
<line x1="402.2" y1="415.1" x2="399.5" y2="414.6" stroke="#e2e626" stroke-width="3.2"/>
<line x1="399.5" y1="414.6" x2="396.8" y2="414" stroke="#e01400" stroke-width="3.2"/>
<line x1="402.2" y1="415.1" x2="397.0" y2="418.9" stroke="#e2e626" stroke-width="3.2"/>
<line x1="397.0" y1="418.9" x2="391.9" y2="422.7" stroke="#e01400" stroke-width="3.2"/>
<line x1="406" y1="433" x2="403.3" y2="433.2" stroke="#e2e626" stroke-width="3.2"/>
<line x1="403.3" y1="433.2" x2="400.6" y2="433.5" stroke="#e01400" stroke-width="3.2"/>
<line x1="406" y1="433" x2="412.0" y2="433.0" stroke="#e2e626" stroke-width="3.2"/>
<line x1="412.0" y1="433.0" x2="418" y2="433" stroke="#e01400" stroke-width="3.2"/>
<line x1="406" y1="433" x2="401.7" y2="437.3" stroke="#e2e626" stroke-width="3.2"/>
<line x1="401.7" y1="437.3" x2="397.4" y2="441.6" stroke="#e01400" stroke-width="3.2"/>
<line x1="406" y1="433" x2="400.7" y2="437.4" stroke="#e2e626" stroke-width="3.2"/>
<line x1="400.7" y1="437.4" x2="395.4" y2="441.9" stroke="#e01400" stroke-width="3.2"/>
<line x1="410.4" y1="441.6" x2="405.5" y2="437.6" stroke="#e2e626" stroke-width="3.2"/>
<line x1="405.5" y1="437.6" x2="400.6" y2="433.5" stroke="#e01400" stroke-width="3.2"/>
<line x1="410.4" y1="441.6" x2="414.2" y2="437.3" stroke="#e2e626" stroke-width="3.2"/>
<line x1="414.2" y1="437.3" x2="418" y2="433" stroke="#e01400" stroke-width="3.2"/>
<line x1="410.4" y1="441.6" x2="403.9" y2="441.6" stroke="#e2e626" stroke-width="3.2"/>
<line x1="403.9" y1="441.6" x2="397.4" y2="441.6" stroke="#e01400" stroke-width="3.2"/>
<line x1="357.4" y1="448.5" x2="360.2" y2="443.4" stroke="#e2e626" stroke-width="3.2"/>
<line x1="360.2" y1="443.4" x2="363" y2="438.4" stroke="#e01400" stroke-width="3.2"/>
<line x1="357.4" y1="448.5" x2="352.4" y2="445.1" stroke="#e2e626" stroke-width="3.2"/>
<line x1="352.4" y1="445.1" x2="347.3" y2="441.6" stroke="#e01400" stroke-width="3.2"/>
<line x1="357.4" y1="448.5" x2="351.6" y2="445.6" stroke="#e2e626" stroke-width="3.2"/>
<line x1="351.6" y1="445.6" x2="345.8" y2="442.6" stroke="#e01400" stroke-width="3.2"/>
<line x1="357.4" y1="448.5" x2="362.5" y2="443.8" stroke="#e2e626" stroke-width="3.2"/>
<line x1="362.5" y1="443.8" x2="367.7" y2="439" stroke="#e01400" stroke-width="3.2"/>
<line x1="408.5" y1="446.3" x2="402.9" y2="444.0" stroke="#e2e626" stroke-width="3.2"/>
<line x1="402.9" y1="444.0" x2="397.4" y2="441.6" stroke="#e01400" stroke-width="3.2"/>
<line x1="408.5" y1="446.3" x2="401.9" y2="444.1" stroke="#e2e626" stroke-width="3.2"/>
<line x1="401.9" y1="444.1" x2="395.4" y2="441.9" stroke="#e01400" stroke-width="3.2"/>
<line x1="408.5" y1="446.3" x2="402.7" y2="449.2" stroke="#e2e626" stroke-width="3.2"/>
<line x1="402.7" y1="449.2" x2="396.9" y2="452.1" stroke="#e01400" stroke-width="3.2"/>
<line x1="351.6" y1="404.2" x2="355.7" y2="405.0" stroke="#e81400" stroke-width="3.6"/>
<line x1="355.7" y1="405.0" x2="359.8" y2="405.8" stroke="#dddddd" stroke-width="3.6"/>
<line x1="351.6" y1="404.2" x2="357.3" y2="407.8" stroke="#e81400" stroke-width="3.6"/>
<line x1="357.3" y1="407.8" x2="363" y2="411.3" stroke="#dddddd" stroke-width="3.6"/>
<line x1="351.6" y1="404.2" x2="353.8" y2="410.7" stroke="#e81400" stroke-width="3.6"/>
<line x1="353.8" y1="410.7" x2="356" y2="417.2" stroke="#e81400" stroke-width="3.6"/>
<line x1="359.8" y1="405.8" x2="361.4" y2="408.6" stroke="#dddddd" stroke-width="3.6"/>
<line x1="361.4" y1="408.6" x2="363" y2="411.3" stroke="#dddddd" stroke-width="3.6"/>
<line x1="359.8" y1="405.8" x2="363.6" y2="406.1" stroke="#dddddd" stroke-width="3.6"/>
<line x1="363.6" y1="406.1" x2="367.4" y2="406.4" stroke="#e81400" stroke-width="3.6"/>
<line x1="359.8" y1="405.8" x2="357.9" y2="411.5" stroke="#dddddd" stroke-width="3.6"/>
<line x1="357.9" y1="411.5" x2="356" y2="417.2" stroke="#e81400" stroke-width="3.6"/>
<line x1="363" y1="411.3" x2="365.2" y2="408.9" stroke="#dddddd" stroke-width="3.6"/>
<line x1="365.2" y1="408.9" x2="367.4" y2="406.4" stroke="#e81400" stroke-width="3.6"/>
<line x1="363" y1="411.3" x2="359.5" y2="414.2" stroke="#dddddd" stroke-width="3.6"/>
<line x1="359.5" y1="414.2" x2="356" y2="417.2" stroke="#e81400" stroke-width="3.6"/>
<line x1="347.3" y1="420" x2="349.8" y2="425.6" stroke="#e2e626" stroke-width="3.6"/>
<line x1="349.8" y1="425.6" x2="352.2" y2="431.3" stroke="#e2e626" stroke-width="3.6"/>
<line x1="362.5" y1="430.8" x2="362.8" y2="434.6" stroke="#e81400" stroke-width="3.6"/>
<line x1="362.8" y1="434.6" x2="363" y2="438.4" stroke="#e81400" stroke-width="3.6"/>
<line x1="362.5" y1="430.8" x2="365.1" y2="434.9" stroke="#e81400" stroke-width="3.6"/>
<line x1="365.1" y1="434.9" x2="367.7" y2="439" stroke="#e81400" stroke-width="3.6"/>
<line x1="340.8" y1="431.3" x2="344.1" y2="436.5" stroke="#e81400" stroke-width="3.6"/>
<line x1="344.1" y1="436.5" x2="347.3" y2="441.6" stroke="#e81400" stroke-width="3.6"/>
<line x1="340.8" y1="431.3" x2="343.3" y2="437.0" stroke="#e81400" stroke-width="3.6"/>
<line x1="343.3" y1="437.0" x2="345.8" y2="442.6" stroke="#e81400" stroke-width="3.6"/>
<line x1="388.7" y1="405.3" x2="392.8" y2="409.6" stroke="#e81400" stroke-width="3.6"/>
<line x1="392.8" y1="409.6" x2="396.8" y2="414" stroke="#e81400" stroke-width="3.6"/>
<line x1="396.8" y1="414" x2="401.1" y2="417.8" stroke="#e81400" stroke-width="3.6"/>
<line x1="401.1" y1="417.8" x2="405.5" y2="421.6" stroke="#dddddd" stroke-width="3.6"/>
<line x1="402.2" y1="415.1" x2="403.9" y2="418.4" stroke="#e2e626" stroke-width="3.6"/>
<line x1="403.9" y1="418.4" x2="405.5" y2="421.6" stroke="#dddddd" stroke-width="3.6"/>
<line x1="405.5" y1="421.6" x2="398.7" y2="422.1" stroke="#dddddd" stroke-width="3.6"/>
<line x1="398.7" y1="422.1" x2="391.9" y2="422.7" stroke="#c00e00" stroke-width="3.6"/>
<line x1="400.6" y1="433.5" x2="399.0" y2="437.6" stroke="#e81400" stroke-width="3.6"/>
<line x1="399.0" y1="437.6" x2="397.4" y2="441.6" stroke="#e81400" stroke-width="3.6"/>
<line x1="400.6" y1="433.5" x2="398.0" y2="437.7" stroke="#e81400" stroke-width="3.6"/>
<line x1="398.0" y1="437.7" x2="395.4" y2="441.9" stroke="#e81400" stroke-width="3.6"/>
<line x1="406" y1="433" x2="408.2" y2="437.3" stroke="#e2e626" stroke-width="3.6"/>
<line x1="408.2" y1="437.3" x2="410.4" y2="441.6" stroke="#e2e626" stroke-width="3.6"/>
<line x1="406" y1="433" x2="407.2" y2="439.6" stroke="#e2e626" stroke-width="3.6"/>
<line x1="407.2" y1="439.6" x2="408.5" y2="446.3" stroke="#e2e626" stroke-width="3.6"/>
<line x1="397.4" y1="441.6" x2="397.1" y2="446.9" stroke="#e81400" stroke-width="3.6"/>
<line x1="397.1" y1="446.9" x2="396.9" y2="452.1" stroke="#c00e00" stroke-width="3.6"/>
<line x1="410.4" y1="441.6" x2="409.4" y2="444.0" stroke="#e2e626" stroke-width="3.6"/>
<line x1="409.4" y1="444.0" x2="408.5" y2="446.3" stroke="#e2e626" stroke-width="3.6"/>
<line x1="383.7" y1="453.6" x2="390.3" y2="452.9" stroke="#e81400" stroke-width="3.6"/>
<line x1="390.3" y1="452.9" x2="396.9" y2="452.1" stroke="#c00e00" stroke-width="3.6"/>
<line x1="372" y1="448.5" x2="369.9" y2="443.8" stroke="#50bcba" stroke-width="3.6"/>
<line x1="369.9" y1="443.8" x2="367.7" y2="439" stroke="#e81400" stroke-width="3.6"/>
<line x1="395.4" y1="441.9" x2="396.1" y2="447.0" stroke="#e81400" stroke-width="3.6"/>
<line x1="396.1" y1="447.0" x2="396.9" y2="452.1" stroke="#c00e00" stroke-width="3.6"/>
<line x1="415.8" y1="455" x2="419.1" y2="455.4" stroke="#50bcba" stroke-width="3.6"/>
<line x1="419.1" y1="455.4" x2="422.4" y2="455.8" stroke="#e81400" stroke-width="3.6"/>
<line x1="380" y1="424.5" x2="373.7" y2="415.4" stroke="#4fb8b6" stroke-width="3.8"/>
<line x1="373.7" y1="415.4" x2="367.4" y2="406.4" stroke="#e01400" stroke-width="3.8"/>
<line x1="380" y1="424.5" x2="384.4" y2="414.9" stroke="#4fb8b6" stroke-width="3.8"/>
<line x1="384.4" y1="414.9" x2="388.7" y2="405.3" stroke="#e01400" stroke-width="3.8"/>
<line x1="380" y1="424.5" x2="371.2" y2="427.6" stroke="#4fb8b6" stroke-width="3.8"/>
<line x1="371.2" y1="427.6" x2="362.5" y2="430.8" stroke="#e01400" stroke-width="3.8"/>
<line x1="380" y1="424.5" x2="385.9" y2="423.6" stroke="#4fb8b6" stroke-width="3.8"/>
<line x1="385.9" y1="423.6" x2="391.9" y2="422.7" stroke="#e01400" stroke-width="3.8"/>
<line x1="380" y1="424.5" x2="390.3" y2="429.0" stroke="#4fb8b6" stroke-width="3.8"/>
<line x1="390.3" y1="429.0" x2="400.6" y2="433.5" stroke="#e01400" stroke-width="3.8"/>
<line x1="380" y1="424.5" x2="374.8" y2="422.5" stroke="#4fb8b6" stroke-width="3.8"/>
<line x1="374.8" y1="422.5" x2="369.5" y2="420.5" stroke="#e01400" stroke-width="3.8"/>
<circle cx="351.6" cy="404.2" r="4.48" fill="url(#gO)"/>
<circle cx="359.8" cy="405.8" r="2.40" fill="url(#gH)"/>
<circle cx="363" cy="411.3" r="2.40" fill="url(#gH)"/>
<circle cx="367.4" cy="406.4" r="4.48" fill="url(#gO)"/>
<circle cx="347.3" cy="420" r="5.00" fill="url(#gS)"/>
<circle cx="356" cy="417.2" r="4.48" fill="url(#gO)"/>
<circle cx="369.5" cy="420.5" r="3.74" fill="url(#gT)"/>
<circle cx="352.2" cy="431.3" r="5.00" fill="url(#gS)"/>
<circle cx="362.5" cy="430.8" r="4.48" fill="url(#gO)"/>
<circle cx="340.8" cy="431.3" r="3.36" fill="url(#gO)"/>
<circle cx="363" cy="438.4" r="4.48" fill="url(#gO)"/>
<circle cx="377.7" cy="440.6" r="3.74" fill="url(#gT)"/>
<circle cx="347.3" cy="441.6" r="4.03" fill="url(#gO)"/>
<circle cx="388.7" cy="405.3" r="4.48" fill="url(#gO)"/>
<circle cx="396.8" cy="414" r="4.48" fill="url(#gO)"/>
<circle cx="402.2" cy="415.1" r="4.00" fill="url(#gS)"/>
<circle cx="405.5" cy="421.6" r="2.10" fill="url(#gH)"/>
<circle cx="391.9" cy="422.7" r="4.48" fill="url(#gD)"/>
<circle cx="400.6" cy="433.5" r="4.48" fill="url(#gO)"/>
<circle cx="406" cy="433" r="4.50" fill="url(#gS)"/>
<circle cx="418" cy="433" r="5.04" fill="url(#gO)"/>
<circle cx="397.4" cy="441.6" r="5.04" fill="url(#gO)"/>
<circle cx="410.4" cy="441.6" r="4.00" fill="url(#gS)"/>
<circle cx="426.1" cy="437.3" r="3.12" fill="url(#gT)"/>
<circle cx="345.8" cy="442.6" r="4.48" fill="url(#gO)"/>
<circle cx="345" cy="446.5" r="3.12" fill="url(#gT)"/>
<circle cx="357.4" cy="448.5" r="5.00" fill="url(#gS)"/>
<circle cx="372" cy="455.8" r="4.48" fill="url(#gO)"/>
<circle cx="383.7" cy="453.6" r="4.48" fill="url(#gO)"/>
<circle cx="377.9" cy="440.4" r="3.74" fill="url(#gT)"/>
<circle cx="372" cy="448.5" r="3.74" fill="url(#gT)"/>
<circle cx="367.7" cy="439" r="4.48" fill="url(#gO)"/>
<circle cx="395.4" cy="441.9" r="5.04" fill="url(#gO)"/>
<circle cx="396.9" cy="452.1" r="5.04" fill="url(#gD)"/>
<circle cx="408.5" cy="446.3" r="5.00" fill="url(#gS)"/>
<circle cx="415.8" cy="455" r="3.74" fill="url(#gT)"/>
<circle cx="422.4" cy="455.8" r="4.03" fill="url(#gO)"/>
<circle cx="380" cy="424.5" r="7.79" fill="url(#gT)"/>
</g>
<clipPath id="mc4"><rect x="471.5" y="300" width="89.0" height="87.4"/></clipPath>
<g clip-path="url(#mc4)">
<line x1="518.3" y1="338.9" x2="518.9" y2="336.8" stroke="#e99aa2" stroke-width="1" opacity="0.7"/>
<line x1="518.9" y1="336.8" x2="519.4" y2="334.8" stroke="#e4e4e4" stroke-width="0.9" opacity="0.7"/>
<line x1="518.3" y1="338.9" x2="520.0" y2="340.2" stroke="#e99aa2" stroke-width="1" opacity="0.7"/>
<line x1="520.0" y1="340.2" x2="521.8" y2="341.4" stroke="#e4e4e4" stroke-width="0.9" opacity="0.7"/>
<line x1="541.5" y1="339.5" x2="541.7" y2="337.6" stroke="#e99aa2" stroke-width="1" opacity="0.7"/>
<line x1="541.7" y1="337.6" x2="541.9" y2="335.8" stroke="#e4e4e4" stroke-width="0.9" opacity="0.7"/>
<line x1="541.5" y1="339.5" x2="543.0" y2="340.4" stroke="#e99aa2" stroke-width="1" opacity="0.7"/>
<line x1="543.0" y1="340.4" x2="544.6" y2="341.4" stroke="#e4e4e4" stroke-width="0.9" opacity="0.7"/>
<line x1="553.8" y1="325.9" x2="553.1" y2="323.3" stroke="#e99aa2" stroke-width="1" opacity="0.7"/>
<line x1="553.1" y1="323.3" x2="552.4" y2="320.8" stroke="#e4e4e4" stroke-width="0.9" opacity="0.7"/>
<line x1="553.8" y1="325.9" x2="556.5" y2="325.7" stroke="#e99aa2" stroke-width="1" opacity="0.7"/>
<line x1="556.5" y1="325.7" x2="559.1" y2="325.5" stroke="#e4e4e4" stroke-width="0.9" opacity="0.7"/>
<line x1="476.0" y1="331.5" x2="476.3" y2="333.6" stroke="#e99aa2" stroke-width="1" opacity="0.7"/>
<line x1="476.3" y1="333.6" x2="476.6" y2="335.7" stroke="#e4e4e4" stroke-width="0.9" opacity="0.7"/>
<line x1="476.0" y1="331.5" x2="473.9" y2="331.2" stroke="#e99aa2" stroke-width="1" opacity="0.7"/>
<line x1="473.9" y1="331.2" x2="471.8" y2="331.0" stroke="#e4e4e4" stroke-width="0.9" opacity="0.7"/>
<line x1="529.2" y1="338.9" x2="527.8" y2="340.5" stroke="#e99aa2" stroke-width="1" opacity="0.7"/>
<line x1="527.8" y1="340.5" x2="526.4" y2="342.1" stroke="#e4e4e4" stroke-width="0.9" opacity="0.7"/>
<line x1="529.2" y1="338.9" x2="528.1" y2="337.1" stroke="#e99aa2" stroke-width="1" opacity="0.7"/>
<line x1="528.1" y1="337.1" x2="527.1" y2="335.3" stroke="#e4e4e4" stroke-width="0.9" opacity="0.7"/>
<line x1="497.5" y1="342.0" x2="496.5" y2="343.8" stroke="#e99aa2" stroke-width="1" opacity="0.7"/>
<line x1="496.5" y1="343.8" x2="495.6" y2="345.7" stroke="#e4e4e4" stroke-width="0.9" opacity="0.7"/>
<line x1="497.5" y1="342.0" x2="495.7" y2="340.8" stroke="#e99aa2" stroke-width="1" opacity="0.7"/>
<line x1="495.7" y1="340.8" x2="494.0" y2="339.6" stroke="#e4e4e4" stroke-width="0.9" opacity="0.7"/>
<line x1="536.3" y1="319.8" x2="536.2" y2="317.3" stroke="#e99aa2" stroke-width="1" opacity="0.7"/>
<line x1="536.2" y1="317.3" x2="536.1" y2="314.9" stroke="#e4e4e4" stroke-width="0.9" opacity="0.7"/>
<line x1="536.3" y1="319.8" x2="538.7" y2="320.4" stroke="#e99aa2" stroke-width="1" opacity="0.7"/>
<line x1="538.7" y1="320.4" x2="541.0" y2="321.0" stroke="#e4e4e4" stroke-width="0.9" opacity="0.7"/>
<line x1="488.9" y1="316.4" x2="490.3" y2="318.1" stroke="#e99aa2" stroke-width="1" opacity="0.7"/>
<line x1="490.3" y1="318.1" x2="491.6" y2="319.8" stroke="#e4e4e4" stroke-width="0.9" opacity="0.7"/>
<line x1="488.9" y1="316.4" x2="486.9" y2="317.3" stroke="#e99aa2" stroke-width="1" opacity="0.7"/>
<line x1="486.9" y1="317.3" x2="484.9" y2="318.2" stroke="#e4e4e4" stroke-width="0.9" opacity="0.7"/>
<line x1="474.8" y1="329.1" x2="472.9" y2="330.4" stroke="#e99aa2" stroke-width="1" opacity="0.7"/>
<line x1="472.9" y1="330.4" x2="471.0" y2="331.7" stroke="#e4e4e4" stroke-width="0.9" opacity="0.7"/>
<line x1="474.8" y1="329.1" x2="473.9" y2="327.0" stroke="#e99aa2" stroke-width="1" opacity="0.7"/>
<line x1="473.9" y1="327.0" x2="473.1" y2="324.8" stroke="#e4e4e4" stroke-width="0.9" opacity="0.7"/>
<line x1="554.0" y1="319.5" x2="555.8" y2="317.8" stroke="#e99aa2" stroke-width="1" opacity="0.7"/>
<line x1="555.8" y1="317.8" x2="557.7" y2="316.1" stroke="#e4e4e4" stroke-width="0.9" opacity="0.7"/>
<line x1="554.0" y1="319.5" x2="555.2" y2="321.7" stroke="#e99aa2" stroke-width="1" opacity="0.7"/>
<line x1="555.2" y1="321.7" x2="556.5" y2="323.9" stroke="#e4e4e4" stroke-width="0.9" opacity="0.7"/>
<line x1="483.1" y1="344.6" x2="481.3" y2="345.4" stroke="#e99aa2" stroke-width="1" opacity="0.7"/>
<line x1="481.3" y1="345.4" x2="479.5" y2="346.3" stroke="#e4e4e4" stroke-width="0.9" opacity="0.7"/>
<line x1="483.1" y1="344.6" x2="483.1" y2="342.6" stroke="#e99aa2" stroke-width="1" opacity="0.7"/>
<line x1="483.1" y1="342.6" x2="483.0" y2="340.7" stroke="#e4e4e4" stroke-width="0.9" opacity="0.7"/>
<line x1="508.3" y1="335.6" x2="509.4" y2="337.8" stroke="#e99aa2" stroke-width="1" opacity="0.7"/>
<line x1="509.4" y1="337.8" x2="510.4" y2="340.0" stroke="#e4e4e4" stroke-width="0.9" opacity="0.7"/>
<line x1="508.3" y1="335.6" x2="505.9" y2="336.2" stroke="#e99aa2" stroke-width="1" opacity="0.7"/>
<line x1="505.9" y1="336.2" x2="503.6" y2="336.8" stroke="#e4e4e4" stroke-width="0.9" opacity="0.7"/>
<line x1="553.6" y1="323.3" x2="554.7" y2="325.8" stroke="#e99aa2" stroke-width="1" opacity="0.7"/>
<line x1="554.7" y1="325.8" x2="555.8" y2="328.3" stroke="#e4e4e4" stroke-width="0.9" opacity="0.7"/>
<line x1="553.6" y1="323.3" x2="550.9" y2="323.8" stroke="#e99aa2" stroke-width="1" opacity="0.7"/>
<line x1="550.9" y1="323.8" x2="548.2" y2="324.3" stroke="#e4e4e4" stroke-width="0.9" opacity="0.7"/>
<line x1="486.4" y1="333.3" x2="485.0" y2="334.7" stroke="#e99aa2" stroke-width="1" opacity="0.7"/>
<line x1="485.0" y1="334.7" x2="483.6" y2="336.0" stroke="#e4e4e4" stroke-width="0.9" opacity="0.7"/>
<line x1="486.4" y1="333.3" x2="485.6" y2="331.5" stroke="#e99aa2" stroke-width="1" opacity="0.7"/>
<line x1="485.6" y1="331.5" x2="484.8" y2="329.8" stroke="#e4e4e4" stroke-width="0.9" opacity="0.7"/>
<line x1="525.8" y1="341.4" x2="527.2" y2="339.6" stroke="#e99aa2" stroke-width="1" opacity="0.7"/>
<line x1="527.2" y1="339.6" x2="528.6" y2="337.9" stroke="#e4e4e4" stroke-width="0.9" opacity="0.7"/>
<line x1="525.8" y1="341.4" x2="527.0" y2="343.3" stroke="#e99aa2" stroke-width="1" opacity="0.7"/>
<line x1="527.0" y1="343.3" x2="528.3" y2="345.2" stroke="#e4e4e4" stroke-width="0.9" opacity="0.7"/>
<line x1="521.7" y1="316.7" x2="522.8" y2="314.8" stroke="#e99aa2" stroke-width="1" opacity="0.7"/>
<line x1="522.8" y1="314.8" x2="524.0" y2="312.9" stroke="#e4e4e4" stroke-width="0.9" opacity="0.7"/>
<line x1="521.7" y1="316.7" x2="523.1" y2="318.4" stroke="#e99aa2" stroke-width="1" opacity="0.7"/>
<line x1="523.1" y1="318.4" x2="524.5" y2="320.1" stroke="#e4e4e4" stroke-width="0.9" opacity="0.7"/>
<line x1="529.9" y1="326.4" x2="528.1" y2="328.0" stroke="#e99aa2" stroke-width="1" opacity="0.7"/>
<line x1="528.1" y1="328.0" x2="526.4" y2="329.5" stroke="#e4e4e4" stroke-width="0.9" opacity="0.7"/>
<line x1="529.9" y1="326.4" x2="528.7" y2="324.4" stroke="#e99aa2" stroke-width="1" opacity="0.7"/>
<line x1="528.7" y1="324.4" x2="527.5" y2="322.4" stroke="#e4e4e4" stroke-width="0.9" opacity="0.7"/>
<line x1="522.1" y1="329.5" x2="524.3" y2="329.9" stroke="#e99aa2" stroke-width="1" opacity="0.7"/>
<line x1="524.3" y1="329.9" x2="526.4" y2="330.4" stroke="#e4e4e4" stroke-width="0.9" opacity="0.7"/>
<line x1="522.1" y1="329.5" x2="521.0" y2="331.4" stroke="#e99aa2" stroke-width="1" opacity="0.7"/>
<line x1="521.0" y1="331.4" x2="519.9" y2="333.3" stroke="#e4e4e4" stroke-width="0.9" opacity="0.7"/>
<line x1="523.8" y1="332.0" x2="525.9" y2="331.1" stroke="#e99aa2" stroke-width="1" opacity="0.7"/>
<line x1="525.9" y1="331.1" x2="527.9" y2="330.2" stroke="#e4e4e4" stroke-width="0.9" opacity="0.7"/>
<line x1="523.8" y1="332.0" x2="524.4" y2="334.2" stroke="#e99aa2" stroke-width="1" opacity="0.7"/>
<line x1="524.4" y1="334.2" x2="525.0" y2="336.3" stroke="#e4e4e4" stroke-width="0.9" opacity="0.7"/>
<line x1="557.4" y1="336.6" x2="556.3" y2="339.1" stroke="#e99aa2" stroke-width="1" opacity="0.7"/>
<line x1="556.3" y1="339.1" x2="555.3" y2="341.7" stroke="#e4e4e4" stroke-width="0.9" opacity="0.7"/>
<line x1="557.4" y1="336.6" x2="555.4" y2="334.8" stroke="#e99aa2" stroke-width="1" opacity="0.7"/>
<line x1="555.4" y1="334.8" x2="553.4" y2="332.9" stroke="#e4e4e4" stroke-width="0.9" opacity="0.7"/>
<line x1="507.8" y1="340.8" x2="509.3" y2="342.4" stroke="#e99aa2" stroke-width="1" opacity="0.7"/>
<line x1="509.3" y1="342.4" x2="510.9" y2="344.0" stroke="#e4e4e4" stroke-width="0.9" opacity="0.7"/>
<line x1="507.8" y1="340.8" x2="505.7" y2="341.5" stroke="#e99aa2" stroke-width="1" opacity="0.7"/>
<line x1="505.7" y1="341.5" x2="503.6" y2="342.3" stroke="#e4e4e4" stroke-width="0.9" opacity="0.7"/>
<line x1="493.7" y1="339.9" x2="492.1" y2="337.8" stroke="#e99aa2" stroke-width="1" opacity="0.7"/>
<line x1="492.1" y1="337.8" x2="490.6" y2="335.7" stroke="#e4e4e4" stroke-width="0.9" opacity="0.7"/>
<line x1="493.7" y1="339.9" x2="496.2" y2="339.3" stroke="#e99aa2" stroke-width="1" opacity="0.7"/>
<line x1="496.2" y1="339.3" x2="498.7" y2="338.7" stroke="#e4e4e4" stroke-width="0.9" opacity="0.7"/>
<line x1="541.0" y1="329.4" x2="543.6" y2="329.3" stroke="#e99aa2" stroke-width="1" opacity="0.7"/>
<line x1="543.6" y1="329.3" x2="546.2" y2="329.2" stroke="#e4e4e4" stroke-width="0.9" opacity="0.7"/>
<line x1="541.0" y1="329.4" x2="540.7" y2="332.0" stroke="#e99aa2" stroke-width="1" opacity="0.7"/>
<line x1="540.7" y1="332.0" x2="540.4" y2="334.6" stroke="#e4e4e4" stroke-width="0.9" opacity="0.7"/>
<line x1="533.8" y1="321.0" x2="534.6" y2="318.9" stroke="#e99aa2" stroke-width="1" opacity="0.7"/>
<line x1="534.6" y1="318.9" x2="535.4" y2="316.7" stroke="#e4e4e4" stroke-width="0.9" opacity="0.7"/>
<line x1="533.8" y1="321.0" x2="535.6" y2="322.4" stroke="#e99aa2" stroke-width="1" opacity="0.7"/>
<line x1="535.6" y1="322.4" x2="537.5" y2="323.7" stroke="#e4e4e4" stroke-width="0.9" opacity="0.7"/>
<line x1="546.7" y1="319.3" x2="546.4" y2="321.1" stroke="#e99aa2" stroke-width="1" opacity="0.7"/>
<line x1="546.4" y1="321.1" x2="546.0" y2="322.9" stroke="#e4e4e4" stroke-width="0.9" opacity="0.7"/>
<line x1="546.7" y1="319.3" x2="545.1" y2="318.4" stroke="#e99aa2" stroke-width="1" opacity="0.7"/>
<line x1="545.1" y1="318.4" x2="543.5" y2="317.5" stroke="#e4e4e4" stroke-width="0.9" opacity="0.7"/>
<line x1="520.6" y1="338.2" x2="518.1" y2="338.3" stroke="#e99aa2" stroke-width="1" opacity="0.7"/>
<line x1="518.1" y1="338.3" x2="515.5" y2="338.5" stroke="#e4e4e4" stroke-width="0.9" opacity="0.7"/>
<line x1="520.6" y1="338.2" x2="521.0" y2="335.7" stroke="#e99aa2" stroke-width="1" opacity="0.7"/>
<line x1="521.0" y1="335.7" x2="521.3" y2="333.1" stroke="#e4e4e4" stroke-width="0.9" opacity="0.7"/>
<line x1="545.8" y1="337.7" x2="543.4" y2="336.9" stroke="#e99aa2" stroke-width="1" opacity="0.7"/>
<line x1="543.4" y1="336.9" x2="541.0" y2="336.1" stroke="#e4e4e4" stroke-width="0.9" opacity="0.7"/>
<line x1="545.8" y1="337.7" x2="547.5" y2="335.7" stroke="#e99aa2" stroke-width="1" opacity="0.7"/>
<line x1="547.5" y1="335.7" x2="549.1" y2="333.8" stroke="#e4e4e4" stroke-width="0.9" opacity="0.7"/>
<line x1="486.7" y1="324.7" x2="488.4" y2="325.9" stroke="#e99aa2" stroke-width="1" opacity="0.7"/>
<line x1="488.4" y1="325.9" x2="490.1" y2="327.2" stroke="#e4e4e4" stroke-width="0.9" opacity="0.7"/>
<line x1="486.7" y1="324.7" x2="485.3" y2="326.2" stroke="#e99aa2" stroke-width="1" opacity="0.7"/>
<line x1="485.3" y1="326.2" x2="483.8" y2="327.7" stroke="#e4e4e4" stroke-width="0.9" opacity="0.7"/>
<line x1="546.6" y1="339.7" x2="548.2" y2="341.1" stroke="#e99aa2" stroke-width="1" opacity="0.7"/>
<line x1="548.2" y1="341.1" x2="549.8" y2="342.6" stroke="#e4e4e4" stroke-width="0.9" opacity="0.7"/>
<line x1="546.6" y1="339.7" x2="544.9" y2="341.0" stroke="#e99aa2" stroke-width="1" opacity="0.7"/>
<line x1="544.9" y1="341.0" x2="543.2" y2="342.3" stroke="#e4e4e4" stroke-width="0.9" opacity="0.7"/>
<line x1="545.3" y1="332.7" x2="547.6" y2="331.2" stroke="#e99aa2" stroke-width="1" opacity="0.7"/>
<line x1="547.6" y1="331.2" x2="549.8" y2="329.6" stroke="#e4e4e4" stroke-width="0.9" opacity="0.7"/>
<line x1="545.3" y1="332.7" x2="546.6" y2="335.2" stroke="#e99aa2" stroke-width="1" opacity="0.7"/>
<line x1="546.6" y1="335.2" x2="547.8" y2="337.6" stroke="#e4e4e4" stroke-width="0.9" opacity="0.7"/>
<line x1="480.8" y1="343.3" x2="484.4" y2="340.6" stroke="#e2e626" stroke-width="3.2"/>
<line x1="484.4" y1="340.6" x2="487.9" y2="337.9" stroke="#e01400" stroke-width="3.2"/>
<line x1="480.8" y1="343.3" x2="477.1" y2="349.6" stroke="#e2e626" stroke-width="3.2"/>
<line x1="477.1" y1="349.6" x2="473.3" y2="355.8" stroke="#e01400" stroke-width="3.2"/>
<line x1="485.2" y1="354.7" x2="490.6" y2="354.1" stroke="#e2e626" stroke-width="3.2"/>
<line x1="490.6" y1="354.1" x2="496" y2="353.6" stroke="#e01400" stroke-width="3.2"/>
<line x1="485.2" y1="354.7" x2="479.2" y2="355.2" stroke="#e2e626" stroke-width="3.2"/>
<line x1="479.2" y1="355.2" x2="473.3" y2="355.8" stroke="#e01400" stroke-width="3.2"/>
<line x1="485.2" y1="354.7" x2="483.0" y2="359.0" stroke="#e2e626" stroke-width="3.2"/>
<line x1="483.0" y1="359.0" x2="480.8" y2="363.4" stroke="#e01400" stroke-width="3.2"/>
<line x1="485.2" y1="354.7" x2="491.7" y2="357.9" stroke="#e2e626" stroke-width="3.2"/>
<line x1="491.7" y1="357.9" x2="498.2" y2="361.2" stroke="#e01400" stroke-width="3.2"/>
<line x1="535.6" y1="339" x2="532.1" y2="338.2" stroke="#e2e626" stroke-width="3.2"/>
<line x1="532.1" y1="338.2" x2="528.6" y2="337.4" stroke="#e01400" stroke-width="3.2"/>
<line x1="535.6" y1="339" x2="530.5" y2="342.8" stroke="#e2e626" stroke-width="3.2"/>
<line x1="530.5" y1="342.8" x2="525.3" y2="346.6" stroke="#e01400" stroke-width="3.2"/>
<line x1="538.3" y1="353.6" x2="531.8" y2="350.1" stroke="#e2e626" stroke-width="3.2"/>
<line x1="531.8" y1="350.1" x2="525.3" y2="346.6" stroke="#e01400" stroke-width="3.2"/>
<line x1="538.3" y1="353.6" x2="544.8" y2="353.6" stroke="#e2e626" stroke-width="3.2"/>
<line x1="544.8" y1="353.6" x2="551.3" y2="353.6" stroke="#e01400" stroke-width="3.2"/>
<line x1="538.3" y1="353.6" x2="535.8" y2="355.2" stroke="#e2e626" stroke-width="3.2"/>
<line x1="535.8" y1="355.2" x2="533.4" y2="356.9" stroke="#e01400" stroke-width="3.2"/>
<line x1="538.3" y1="353.6" x2="535.6" y2="358.5" stroke="#e2e626" stroke-width="3.2"/>
<line x1="535.6" y1="358.5" x2="532.9" y2="363.4" stroke="#e01400" stroke-width="3.2"/>
<line x1="538.3" y1="353.6" x2="535.5" y2="358.7" stroke="#e2e626" stroke-width="3.2"/>
<line x1="535.5" y1="358.7" x2="532.8" y2="363.8" stroke="#e01400" stroke-width="3.2"/>
<line x1="542.1" y1="365.6" x2="537.8" y2="361.2" stroke="#e2e626" stroke-width="3.2"/>
<line x1="537.8" y1="361.2" x2="533.4" y2="356.9" stroke="#e01400" stroke-width="3.2"/>
<line x1="542.1" y1="365.6" x2="537.5" y2="364.5" stroke="#e2e626" stroke-width="3.2"/>
<line x1="537.5" y1="364.5" x2="532.9" y2="363.4" stroke="#e01400" stroke-width="3.2"/>
<line x1="542.1" y1="365.6" x2="537.5" y2="364.7" stroke="#e2e626" stroke-width="3.2"/>
<line x1="537.5" y1="364.7" x2="532.8" y2="363.8" stroke="#e01400" stroke-width="3.2"/>
<line x1="542.1" y1="365.6" x2="536.0" y2="369.8" stroke="#e2e626" stroke-width="3.2"/>
<line x1="536.0" y1="369.8" x2="529.9" y2="374" stroke="#e01400" stroke-width="3.2"/>
<line x1="492.6" y1="371.8" x2="486.7" y2="367.6" stroke="#e2e626" stroke-width="3.2"/>
<line x1="486.7" y1="367.6" x2="480.8" y2="363.4" stroke="#e01400" stroke-width="3.2"/>
<line x1="492.6" y1="371.8" x2="495.4" y2="366.5" stroke="#e2e626" stroke-width="3.2"/>
<line x1="495.4" y1="366.5" x2="498.2" y2="361.2" stroke="#e01400" stroke-width="3.2"/>
<line x1="492.6" y1="371.8" x2="497.0" y2="368.5" stroke="#e2e626" stroke-width="3.2"/>
<line x1="497.0" y1="368.5" x2="501.4" y2="365.2" stroke="#e01400" stroke-width="3.2"/>
<line x1="492.6" y1="371.8" x2="499.2" y2="374.4" stroke="#e2e626" stroke-width="3.2"/>
<line x1="499.2" y1="374.4" x2="505.8" y2="376.9" stroke="#e01400" stroke-width="3.2"/>
<line x1="521.1" y1="386.4" x2="515.2" y2="385.6" stroke="#e2e626" stroke-width="3.2"/>
<line x1="515.2" y1="385.6" x2="509.4" y2="384.9" stroke="#e01400" stroke-width="3.2"/>
<line x1="521.1" y1="386.4" x2="518.9" y2="380.9" stroke="#e2e626" stroke-width="3.2"/>
<line x1="518.9" y1="380.9" x2="516.7" y2="375.4" stroke="#e01400" stroke-width="3.2"/>
<line x1="541.5" y1="368.1" x2="537.5" y2="362.5" stroke="#e2e626" stroke-width="3.2"/>
<line x1="537.5" y1="362.5" x2="533.4" y2="356.9" stroke="#e01400" stroke-width="3.2"/>
<line x1="541.5" y1="368.1" x2="537.2" y2="365.8" stroke="#e2e626" stroke-width="3.2"/>
<line x1="537.2" y1="365.8" x2="532.9" y2="363.4" stroke="#e01400" stroke-width="3.2"/>
<line x1="541.5" y1="368.1" x2="537.1" y2="366.0" stroke="#e2e626" stroke-width="3.2"/>
<line x1="537.1" y1="366.0" x2="532.8" y2="363.8" stroke="#e01400" stroke-width="3.2"/>
<line x1="541.5" y1="368.1" x2="535.7" y2="371.1" stroke="#e2e626" stroke-width="3.2"/>
<line x1="535.7" y1="371.1" x2="529.9" y2="374" stroke="#e01400" stroke-width="3.2"/>
<line x1="485.7" y1="327.6" x2="489.2" y2="329.8" stroke="#e81400" stroke-width="3.6"/>
<line x1="489.2" y1="329.8" x2="492.8" y2="331.9" stroke="#dddddd" stroke-width="3.6"/>
<line x1="485.7" y1="327.6" x2="486.8" y2="332.8" stroke="#e81400" stroke-width="3.6"/>
<line x1="486.8" y1="332.8" x2="487.9" y2="337.9" stroke="#e81400" stroke-width="3.6"/>
<line x1="492.8" y1="331.9" x2="496.3" y2="331.6" stroke="#dddddd" stroke-width="3.6"/>
<line x1="496.3" y1="331.6" x2="499.8" y2="331.4" stroke="#e81400" stroke-width="3.6"/>
<line x1="492.8" y1="331.9" x2="490.4" y2="334.9" stroke="#dddddd" stroke-width="3.6"/>
<line x1="490.4" y1="334.9" x2="487.9" y2="337.9" stroke="#e81400" stroke-width="3.6"/>
<line x1="499.8" y1="331.4" x2="493.9" y2="334.6" stroke="#e81400" stroke-width="3.6"/>
<line x1="493.9" y1="334.6" x2="487.9" y2="337.9" stroke="#e81400" stroke-width="3.6"/>
<line x1="516.6" y1="330.3" x2="515.0" y2="326.8" stroke="#e81400" stroke-width="3.6"/>
<line x1="515.0" y1="326.8" x2="513.4" y2="323.3" stroke="#dddddd" stroke-width="3.6"/>
<line x1="516.6" y1="330.3" x2="522.6" y2="333.9" stroke="#e81400" stroke-width="3.6"/>
<line x1="522.6" y1="333.9" x2="528.6" y2="337.4" stroke="#e81400" stroke-width="3.6"/>
<line x1="480.8" y1="343.3" x2="483.0" y2="349.0" stroke="#e2e626" stroke-width="3.6"/>
<line x1="483.0" y1="349.0" x2="485.2" y2="354.7" stroke="#e2e626" stroke-width="3.6"/>
<line x1="496" y1="353.6" x2="497.1" y2="357.4" stroke="#e81400" stroke-width="3.6"/>
<line x1="497.1" y1="357.4" x2="498.2" y2="361.2" stroke="#e81400" stroke-width="3.6"/>
<line x1="496" y1="353.6" x2="498.7" y2="359.4" stroke="#e81400" stroke-width="3.6"/>
<line x1="498.7" y1="359.4" x2="501.4" y2="365.2" stroke="#e81400" stroke-width="3.6"/>
<line x1="473.3" y1="355.8" x2="477.1" y2="359.6" stroke="#e81400" stroke-width="3.6"/>
<line x1="477.1" y1="359.6" x2="480.8" y2="363.4" stroke="#e81400" stroke-width="3.6"/>
<line x1="473.3" y1="355.8" x2="474.9" y2="360.1" stroke="#e81400" stroke-width="3.6"/>
<line x1="474.9" y1="360.1" x2="476.5" y2="364.5" stroke="#50bcba" stroke-width="3.6"/>
<line x1="480.8" y1="363.4" x2="479.4" y2="366.1" stroke="#e81400" stroke-width="3.6"/>
<line x1="479.4" y1="366.1" x2="478" y2="368.9" stroke="#50bcba" stroke-width="3.6"/>
<line x1="498.2" y1="361.2" x2="499.8" y2="363.2" stroke="#e81400" stroke-width="3.6"/>
<line x1="499.8" y1="363.2" x2="501.4" y2="365.2" stroke="#e81400" stroke-width="3.6"/>
<line x1="528.6" y1="337.4" x2="533.5" y2="340.9" stroke="#e81400" stroke-width="3.6"/>
<line x1="533.5" y1="340.9" x2="538.3" y2="344.4" stroke="#dddddd" stroke-width="3.6"/>
<line x1="528.6" y1="337.4" x2="527.0" y2="342.0" stroke="#e81400" stroke-width="3.6"/>
<line x1="527.0" y1="342.0" x2="525.3" y2="346.6" stroke="#c00e00" stroke-width="3.6"/>
<line x1="538.3" y1="344.4" x2="531.8" y2="345.5" stroke="#dddddd" stroke-width="3.6"/>
<line x1="531.8" y1="345.5" x2="525.3" y2="346.6" stroke="#c00e00" stroke-width="3.6"/>
<line x1="525.3" y1="346.6" x2="529.3" y2="351.8" stroke="#c00e00" stroke-width="3.6"/>
<line x1="529.3" y1="351.8" x2="533.4" y2="356.9" stroke="#e81400" stroke-width="3.6"/>
<line x1="538.3" y1="353.6" x2="540.2" y2="359.6" stroke="#e2e626" stroke-width="3.6"/>
<line x1="540.2" y1="359.6" x2="542.1" y2="365.6" stroke="#e2e626" stroke-width="3.6"/>
<line x1="533.4" y1="356.9" x2="533.1" y2="360.1" stroke="#e81400" stroke-width="3.6"/>
<line x1="533.1" y1="360.1" x2="532.9" y2="363.4" stroke="#e81400" stroke-width="3.6"/>
<line x1="533.4" y1="356.9" x2="533.1" y2="360.4" stroke="#e81400" stroke-width="3.6"/>
<line x1="533.1" y1="360.4" x2="532.8" y2="363.8" stroke="#e81400" stroke-width="3.6"/>
<line x1="532.9" y1="363.4" x2="530.6" y2="365.0" stroke="#e81400" stroke-width="3.6"/>
<line x1="530.6" y1="365.0" x2="528.4" y2="366.7" stroke="#50bcba" stroke-width="3.6"/>
<line x1="532.9" y1="363.4" x2="531.4" y2="368.7" stroke="#e81400" stroke-width="3.6"/>
<line x1="531.4" y1="368.7" x2="529.9" y2="374" stroke="#e81400" stroke-width="3.6"/>
<line x1="492.6" y1="371.8" x2="499.2" y2="370.7" stroke="#e2e626" stroke-width="3.6"/>
<line x1="499.2" y1="370.7" x2="505.8" y2="369.6" stroke="#50bcba" stroke-width="3.6"/>
<line x1="501.4" y1="365.2" x2="503.6" y2="371.0" stroke="#e81400" stroke-width="3.6"/>
<line x1="503.6" y1="371.0" x2="505.8" y2="376.9" stroke="#c00e00" stroke-width="3.6"/>
<line x1="505.8" y1="376.9" x2="504.7" y2="380.2" stroke="#c00e00" stroke-width="3.6"/>
<line x1="504.7" y1="380.2" x2="503.6" y2="383.5" stroke="#e81400" stroke-width="3.6"/>
<line x1="505.8" y1="376.9" x2="511.2" y2="376.1" stroke="#c00e00" stroke-width="3.6"/>
<line x1="511.2" y1="376.1" x2="516.7" y2="375.4" stroke="#e81400" stroke-width="3.6"/>
<line x1="509.4" y1="384.9" x2="513.0" y2="380.1" stroke="#e81400" stroke-width="3.6"/>
<line x1="513.0" y1="380.1" x2="516.7" y2="375.4" stroke="#e81400" stroke-width="3.6"/>
<line x1="516.7" y1="375.4" x2="523.3" y2="374.7" stroke="#e81400" stroke-width="3.6"/>
<line x1="523.3" y1="374.7" x2="529.9" y2="374" stroke="#e81400" stroke-width="3.6"/>
<line x1="528.4" y1="366.7" x2="530.6" y2="365.2" stroke="#50bcba" stroke-width="3.6"/>
<line x1="530.6" y1="365.2" x2="532.8" y2="363.8" stroke="#e81400" stroke-width="3.6"/>
<line x1="529.9" y1="374" x2="530.6" y2="377.6" stroke="#e81400" stroke-width="3.6"/>
<line x1="530.6" y1="377.6" x2="531.3" y2="381.3" stroke="#50bcba" stroke-width="3.6"/>
<line x1="541.5" y1="368.1" x2="545.1" y2="372.1" stroke="#e2e626" stroke-width="3.6"/>
<line x1="545.1" y1="372.1" x2="548.8" y2="376.2" stroke="#50bcba" stroke-width="3.6"/>
<line x1="548.8" y1="376.2" x2="553.2" y2="379.9" stroke="#50bcba" stroke-width="3.6"/>
<line x1="553.2" y1="379.9" x2="557.6" y2="383.5" stroke="#c00e00" stroke-width="3.6"/>
<line x1="514.5" y1="351.5" x2="507.1" y2="341.4" stroke="#4fb8b6" stroke-width="3.8"/>
<line x1="507.1" y1="341.4" x2="499.8" y2="331.4" stroke="#e01400" stroke-width="3.8"/>
<line x1="514.5" y1="351.5" x2="515.5" y2="340.9" stroke="#4fb8b6" stroke-width="3.8"/>
<line x1="515.5" y1="340.9" x2="516.6" y2="330.3" stroke="#e01400" stroke-width="3.8"/>
<line x1="514.5" y1="351.5" x2="505.2" y2="352.6" stroke="#4fb8b6" stroke-width="3.8"/>
<line x1="505.2" y1="352.6" x2="496" y2="353.6" stroke="#e01400" stroke-width="3.8"/>
<line x1="514.5" y1="351.5" x2="519.9" y2="349.1" stroke="#4fb8b6" stroke-width="3.8"/>
<line x1="519.9" y1="349.1" x2="525.3" y2="346.6" stroke="#e01400" stroke-width="3.8"/>
<line x1="514.5" y1="351.5" x2="524.0" y2="354.2" stroke="#4fb8b6" stroke-width="3.8"/>
<line x1="524.0" y1="354.2" x2="533.4" y2="356.9" stroke="#e01400" stroke-width="3.8"/>
<line x1="514.5" y1="351.5" x2="506.4" y2="356.4" stroke="#4fb8b6" stroke-width="3.8"/>
<line x1="506.4" y1="356.4" x2="498.2" y2="361.2" stroke="#e01400" stroke-width="3.8"/>
<circle cx="485.7" cy="327.6" r="4.48" fill="url(#gO)"/>
<circle cx="492.8" cy="331.9" r="2.40" fill="url(#gH)"/>
<circle cx="499.8" cy="331.4" r="4.48" fill="url(#gO)"/>
<circle cx="516.6" cy="330.3" r="4.48" fill="url(#gO)"/>
<circle cx="513.4" cy="323.3" r="2.10" fill="url(#gH)"/>
<circle cx="487.9" cy="337.9" r="4.48" fill="url(#gO)"/>
<circle cx="480.8" cy="343.3" r="4.60" fill="url(#gS)"/>
<circle cx="503.6" cy="341.7" r="3.74" fill="url(#gT)"/>
<circle cx="485.2" cy="354.7" r="5.00" fill="url(#gS)"/>
<circle cx="496" cy="353.6" r="4.48" fill="url(#gO)"/>
<circle cx="473.3" cy="355.8" r="3.36" fill="url(#gO)"/>
<circle cx="480.8" cy="363.4" r="4.48" fill="url(#gO)"/>
<circle cx="498.2" cy="361.2" r="4.48" fill="url(#gO)"/>
<circle cx="513.4" cy="361.8" r="3.12" fill="url(#gT)"/>
<circle cx="476.5" cy="364.5" r="3.74" fill="url(#gT)"/>
<circle cx="528.6" cy="337.4" r="4.48" fill="url(#gO)"/>
<circle cx="535.6" cy="339" r="4.20" fill="url(#gS)"/>
<circle cx="538.3" cy="344.4" r="2.10" fill="url(#gH)"/>
<circle cx="525.3" cy="346.6" r="4.48" fill="url(#gD)"/>
<circle cx="538.3" cy="353.6" r="5.00" fill="url(#gS)"/>
<circle cx="551.3" cy="353.6" r="4.70" fill="url(#gO)"/>
<circle cx="533.4" cy="356.9" r="4.48" fill="url(#gO)"/>
<circle cx="532.9" cy="363.4" r="5.04" fill="url(#gO)"/>
<circle cx="542.1" cy="365.6" r="4.60" fill="url(#gS)"/>
<circle cx="527.5" cy="365.6" r="3.74" fill="url(#gT)"/>
<circle cx="478" cy="368.9" r="3.74" fill="url(#gT)"/>
<circle cx="492.6" cy="371.8" r="5.00" fill="url(#gS)"/>
<circle cx="501.4" cy="365.2" r="4.48" fill="url(#gO)"/>
<circle cx="505.8" cy="369.6" r="3.74" fill="url(#gT)"/>
<circle cx="505.8" cy="376.9" r="4.48" fill="url(#gD)"/>
<circle cx="503.6" cy="383.5" r="4.48" fill="url(#gO)"/>
<circle cx="509.4" cy="384.9" r="4.48" fill="url(#gO)"/>
<circle cx="516.7" cy="375.4" r="4.48" fill="url(#gO)"/>
<circle cx="521.1" cy="386.4" r="4.20" fill="url(#gS)"/>
<circle cx="481" cy="386.4" r="3.74" fill="url(#gT)"/>
<circle cx="512.3" cy="362.3" r="3.74" fill="url(#gT)"/>
<circle cx="528.4" cy="366.7" r="3.74" fill="url(#gT)"/>
<circle cx="532.8" cy="363.8" r="5.04" fill="url(#gO)"/>
<circle cx="529.9" cy="374" r="5.04" fill="url(#gO)"/>
<circle cx="531.3" cy="381.3" r="3.74" fill="url(#gT)"/>
<circle cx="541.5" cy="368.1" r="5.00" fill="url(#gS)"/>
<circle cx="548.8" cy="376.2" r="3.74" fill="url(#gT)"/>
<circle cx="554.7" cy="380.5" r="4.48" fill="url(#gO)"/>
<circle cx="557.6" cy="383.5" r="4.48" fill="url(#gD)"/>
<circle cx="514.5" cy="351.5" r="7.32" fill="url(#gT)"/>
</g>
<polygon points="-12.8,-5.8 4.8,-5.8 4.8,-11.1 12.8,0.0 4.8,11.1 4.8,5.8 -12.8,5.8" fill="#5b9bd5" transform="translate(191.3,341.2) rotate(0)"/>
<text x="192" y="329" font-size="9.6" text-anchor="middle" fill="#ed7d31">12.10</text>
<text x="191" y="362.3" font-size="9.6" text-anchor="middle" fill="#5b9bd5">-4.58</text>
<polygon points="-12.8,-5.6 4.6,-5.6 4.6,-10.3 12.8,0.0 4.6,10.3 4.6,5.6 -12.8,5.6" fill="#5b9bd5" transform="translate(323.5,308.7) rotate(-26)"/>
<text transform="translate(316.5,299.5) rotate(-25)" font-size="9.6" text-anchor="middle" fill="#ed7d31">10.77</text>
<text transform="translate(327,325) rotate(-25)" font-size="9.6" text-anchor="middle" fill="#5b9bd5">-5.11</text>
<polygon points="-12.8,-5.3 4.8,-5.3 4.8,-10.8 12.8,0.0 4.8,10.8 4.8,5.3 -12.8,5.3" fill="#5b9bd5" transform="translate(323.3,373.4) rotate(24)"/>
<text transform="translate(330,363) rotate(25)" font-size="9.6" text-anchor="middle" fill="#ed7d31">16.52</text>
<text transform="translate(317,392.5) rotate(25)" font-size="9.6" text-anchor="middle" fill="#5b9bd5">-13.05</text>
<polygon points="-11.8,-6.4 4.5,-6.4 4.5,-11.9 11.8,0.0 4.5,11.9 4.5,6.4 -11.8,6.4" fill="#5b9bd5" transform="translate(383.3,349.6) rotate(90)"/>
<text transform="translate(363.3,347.4) rotate(90)" font-size="9.6" text-anchor="middle" fill="#5b9bd5">-7.94</text>
<text transform="translate(395.6,347.7) rotate(90)" font-size="9.6" text-anchor="middle" fill="#ed7d31">7.49</text>
<polygon points="-12.9,-5.5 4.7,-5.5 4.7,-10.8 12.9,0.0 4.7,10.8 4.7,5.5 -12.9,5.5" fill="#5b9bd5" transform="translate(448.2,374.0) rotate(-24)"/>
<text transform="translate(442.9,363) rotate(-25)" font-size="9.6" text-anchor="middle" fill="#ed7d31">10.12</text>
<text transform="translate(455.5,393) rotate(-25)" font-size="9.6" text-anchor="middle" fill="#5b9bd5">9.59</text>
<text x="130.2" y="307.3" font-size="11.7" letter-spacing="0.55" text-anchor="middle" fill="#111">A(5,1) 0</text>
<text x="258.1" y="307.3" font-size="11.7" letter-spacing="0.55" text-anchor="middle" fill="#111">B(4,2) -4.58</text>
<text x="392.1" y="253.3" font-size="11.7" letter-spacing="0.55" text-anchor="middle" fill="#111">C(3,2) -11.07</text>
<text x="389.8" y="381.2" font-size="11.7" letter-spacing="0.55" text-anchor="middle" fill="#111">D(3,3) -18.45</text>
<text x="520.7" y="307.1" font-size="11.7" letter-spacing="0.55" text-anchor="middle" fill="#111">E(2,3) -9.46</text>
<text x="12.2" y="20.6" font-size="27.5" font-weight="bold" fill="#000" stroke="#000" stroke-width="0.25">a</text>
<text x="220.8" y="20.8" font-size="27.5" font-weight="bold" fill="#000" stroke="#000" stroke-width="0.25">b</text>
<text x="452.6" y="20.6" font-size="27.5" font-weight="bold" fill="#000" stroke="#000" stroke-width="0.25">c</text>
<text x="78.8" y="246.8" font-size="27.5" font-weight="bold" fill="#000" stroke="#000" stroke-width="0.25">d</text>
</svg></body></html>
